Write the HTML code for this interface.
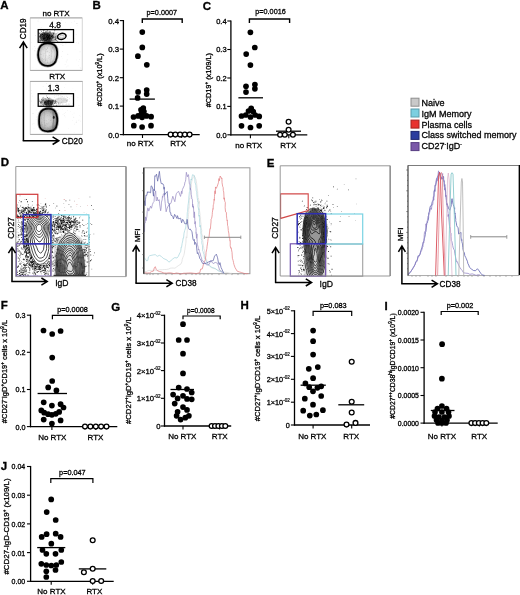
<!DOCTYPE html>
<html><head><meta charset="utf-8"><style>
html,body{margin:0;padding:0;background:#fff;}
body{width:520px;height:595px;overflow:hidden;font-family:"Liberation Sans", sans-serif;}
svg{display:block;}
text{stroke:#000;stroke-width:0.3px;}
</style></head><body>
<svg width="520" height="595" viewBox="0 0 520 595" font-family='"Liberation Sans", sans-serif'>
<rect width="520" height="595" fill="#fff"/>
<filter id="soft" x="0" y="0" width="520" height="595" filterUnits="userSpaceOnUse"><feGaussianBlur stdDeviation="0.42"/></filter>
<g filter="url(#soft)">
<defs><filter id="bl1" x="-20%" y="-20%" width="140%" height="140%"><feGaussianBlur stdDeviation="0.6"/></filter><filter id="bl2" x="-30%" y="-30%" width="160%" height="160%"><feGaussianBlur stdDeviation="1.2"/></filter><radialGradient id="blobg2" cx="45%" cy="50%" r="50%"><stop offset="0" stop-color="#dadada"/><stop offset="0.6" stop-color="#c4c4c4"/><stop offset="0.9" stop-color="#9a9a9a"/><stop offset="1" stop-color="#777"/></radialGradient><radialGradient id="blobg" cx="50%" cy="50%" r="50%"><stop offset="0" stop-color="#f0f0f0"/><stop offset="0.65" stop-color="#dcdcdc"/><stop offset="0.9" stop-color="#b4b4b4"/><stop offset="1" stop-color="#8a8a8a"/></radialGradient><marker id="ah" viewBox="0 0 10 10" refX="9" refY="5" markerWidth="6" markerHeight="6" orient="auto"><path d="M1,1 L9,5 L1,9" fill="none" stroke="#000" stroke-width="1.6"/></marker></defs>
<text x="0.30" y="8.60" font-size="11.5" text-anchor="start" font-weight="bold" fill="#000" >A</text>
<text x="92.60" y="8.70" font-size="11.5" text-anchor="start" font-weight="bold" fill="#000" >B</text>
<text x="202.80" y="10.30" font-size="11.5" text-anchor="start" font-weight="bold" fill="#000" >C</text>
<text x="0.80" y="166.20" font-size="11.5" text-anchor="start" font-weight="bold" fill="#000" >D</text>
<text x="266.80" y="167.20" font-size="11.5" text-anchor="start" font-weight="bold" fill="#000" >E</text>
<text x="0.80" y="309.00" font-size="11.5" text-anchor="start" font-weight="bold" fill="#000" >F</text>
<text x="111.20" y="310.80" font-size="11.5" text-anchor="start" font-weight="bold" fill="#000" >G</text>
<text x="240.40" y="308.80" font-size="11.5" text-anchor="start" font-weight="bold" fill="#000" >H</text>
<text x="384.50" y="310.20" font-size="11.5" text-anchor="start" font-weight="bold" fill="#000" >I</text>
<text x="0.80" y="469.60" font-size="11.5" text-anchor="start" font-weight="bold" fill="#000" >J</text>
<line x1="123.40" y1="20.00" x2="123.40" y2="135.20" stroke="#000" stroke-width="1.3" />
<line x1="119.80" y1="20.60" x2="123.40" y2="20.60" stroke="#000" stroke-width="1.1" />
<text x="119.00" y="23.50" font-size="7.8" text-anchor="end" font-weight="normal" fill="#111" >0.4</text>
<line x1="119.80" y1="49.10" x2="123.40" y2="49.10" stroke="#000" stroke-width="1.1" />
<text x="119.00" y="52.00" font-size="7.8" text-anchor="end" font-weight="normal" fill="#111" >0.3</text>
<line x1="119.80" y1="77.70" x2="123.40" y2="77.70" stroke="#000" stroke-width="1.1" />
<text x="119.00" y="80.60" font-size="7.8" text-anchor="end" font-weight="normal" fill="#111" >0.2</text>
<line x1="119.80" y1="106.10" x2="123.40" y2="106.10" stroke="#000" stroke-width="1.1" />
<text x="119.00" y="109.00" font-size="7.8" text-anchor="end" font-weight="normal" fill="#111" >0.1</text>
<line x1="119.80" y1="134.60" x2="123.40" y2="134.60" stroke="#000" stroke-width="1.1" />
<text x="119.00" y="137.50" font-size="7.8" text-anchor="end" font-weight="normal" fill="#111" >0.0</text>
<line x1="122.80" y1="134.60" x2="199.70" y2="134.60" stroke="#000" stroke-width="1.3" />
<line x1="142.50" y1="134.60" x2="142.50" y2="138.00" stroke="#000" stroke-width="1.1" />
<line x1="181.70" y1="134.60" x2="181.70" y2="138.00" stroke="#000" stroke-width="1.1" />
<polyline points="142.3,23.0 142.3,19.0 182.2,19.0 182.2,23.0" fill="none" stroke="#000" stroke-width="1.4"/>
<text transform="translate(161.80,14.70) scale(0.92,1)" font-size="7.9" text-anchor="middle" font-weight="normal" fill="#111" >p=0.0007</text>
<line x1="129.60" y1="99.10" x2="154.90" y2="99.10" stroke="#000" stroke-width="1.3" />
<circle cx="142.30" cy="32.10" r="2.85" fill="#000"/>
<circle cx="142.30" cy="47.40" r="2.85" fill="#000"/>
<circle cx="137.90" cy="56.20" r="2.85" fill="#000"/>
<circle cx="146.80" cy="64.80" r="2.85" fill="#000"/>
<circle cx="138.10" cy="91.90" r="2.85" fill="#000"/>
<circle cx="146.70" cy="90.10" r="2.85" fill="#000"/>
<circle cx="146.70" cy="94.10" r="2.85" fill="#000"/>
<circle cx="137.60" cy="97.90" r="2.85" fill="#000"/>
<circle cx="143.30" cy="108.10" r="2.85" fill="#000"/>
<circle cx="141.00" cy="109.80" r="2.85" fill="#000"/>
<circle cx="143.90" cy="111.50" r="2.85" fill="#000"/>
<circle cx="141.60" cy="113.30" r="2.85" fill="#000"/>
<circle cx="133.50" cy="117.00" r="2.85" fill="#000"/>
<circle cx="138.10" cy="115.90" r="2.85" fill="#000"/>
<circle cx="142.10" cy="117.30" r="2.85" fill="#000"/>
<circle cx="146.50" cy="115.90" r="2.85" fill="#000"/>
<circle cx="151.10" cy="116.70" r="2.85" fill="#000"/>
<circle cx="133.80" cy="125.70" r="2.85" fill="#000"/>
<circle cx="142.10" cy="127.00" r="2.85" fill="#000"/>
<circle cx="151.00" cy="125.70" r="2.85" fill="#000"/>
<circle cx="170.60" cy="134.60" r="2.4" fill="#fff" stroke="#000" stroke-width="1.3"/>
<circle cx="175.35" cy="134.60" r="2.4" fill="#fff" stroke="#000" stroke-width="1.3"/>
<circle cx="180.10" cy="134.60" r="2.4" fill="#fff" stroke="#000" stroke-width="1.3"/>
<circle cx="184.85" cy="134.60" r="2.4" fill="#fff" stroke="#000" stroke-width="1.3"/>
<circle cx="189.60" cy="134.60" r="2.4" fill="#fff" stroke="#000" stroke-width="1.3"/>
<text x="140.20" y="146.20" font-size="8" text-anchor="middle" font-weight="normal" fill="#111" >no RTX</text>
<text x="178.10" y="146.20" font-size="8" text-anchor="middle" font-weight="normal" fill="#111" >RTX</text>
<text transform="translate(101.60,79.80) rotate(-90)" font-size="7.3" text-anchor="middle" fill="#111">#CD20<tspan font-size="4.6" dy="-2.8">+</tspan><tspan dy="2.8"> (x10</tspan><tspan font-size="4.6" dy="-2.8">9</tspan><tspan dy="2.8">/L)</tspan></text>
<line x1="230.90" y1="20.40" x2="230.90" y2="135.40" stroke="#000" stroke-width="1.3" />
<line x1="227.30" y1="21.00" x2="230.90" y2="21.00" stroke="#000" stroke-width="1.1" />
<text x="226.60" y="23.90" font-size="7.5" text-anchor="end" font-weight="normal" fill="#111" >0.4</text>
<line x1="227.30" y1="49.50" x2="230.90" y2="49.50" stroke="#000" stroke-width="1.1" />
<text x="226.60" y="52.40" font-size="7.5" text-anchor="end" font-weight="normal" fill="#111" >0.3</text>
<line x1="227.30" y1="78.00" x2="230.90" y2="78.00" stroke="#000" stroke-width="1.1" />
<text x="226.60" y="80.90" font-size="7.5" text-anchor="end" font-weight="normal" fill="#111" >0.2</text>
<line x1="227.30" y1="106.40" x2="230.90" y2="106.40" stroke="#000" stroke-width="1.1" />
<text x="226.60" y="109.30" font-size="7.5" text-anchor="end" font-weight="normal" fill="#111" >0.1</text>
<line x1="227.30" y1="134.80" x2="230.90" y2="134.80" stroke="#000" stroke-width="1.1" />
<text x="226.60" y="137.70" font-size="7.5" text-anchor="end" font-weight="normal" fill="#111" >0.0</text>
<line x1="230.30" y1="134.80" x2="307.30" y2="134.80" stroke="#000" stroke-width="1.3" />
<line x1="250.40" y1="134.80" x2="250.40" y2="138.20" stroke="#000" stroke-width="1.1" />
<line x1="288.80" y1="134.80" x2="288.80" y2="138.20" stroke="#000" stroke-width="1.1" />
<polyline points="249.4,23.0 249.4,19.0 289.6,19.0 289.6,23.0" fill="none" stroke="#000" stroke-width="1.4"/>
<text transform="translate(270.50,14.00) scale(0.92,1)" font-size="7.9" text-anchor="middle" font-weight="normal" fill="#111" >p=0.0016</text>
<line x1="238.40" y1="97.80" x2="263.00" y2="97.80" stroke="#000" stroke-width="1.3" />
<line x1="276.00" y1="131.20" x2="301.00" y2="131.20" stroke="#000" stroke-width="1.3" />
<circle cx="250.40" cy="32.30" r="2.85" fill="#000"/>
<circle cx="254.80" cy="47.50" r="2.85" fill="#000"/>
<circle cx="246.20" cy="54.10" r="2.85" fill="#000"/>
<circle cx="250.40" cy="65.10" r="2.85" fill="#000"/>
<circle cx="246.00" cy="86.30" r="2.85" fill="#000"/>
<circle cx="254.90" cy="84.50" r="2.85" fill="#000"/>
<circle cx="254.90" cy="88.80" r="2.85" fill="#000"/>
<circle cx="246.00" cy="92.10" r="2.85" fill="#000"/>
<circle cx="251.20" cy="108.30" r="2.85" fill="#000"/>
<circle cx="248.50" cy="111.00" r="2.85" fill="#000"/>
<circle cx="253.20" cy="111.60" r="2.85" fill="#000"/>
<circle cx="241.50" cy="116.00" r="2.85" fill="#000"/>
<circle cx="245.80" cy="115.00" r="2.85" fill="#000"/>
<circle cx="250.50" cy="117.00" r="2.85" fill="#000"/>
<circle cx="255.20" cy="115.00" r="2.85" fill="#000"/>
<circle cx="259.20" cy="116.40" r="2.85" fill="#000"/>
<circle cx="241.50" cy="125.80" r="2.85" fill="#000"/>
<circle cx="250.50" cy="127.50" r="2.85" fill="#000"/>
<circle cx="259.20" cy="125.80" r="2.85" fill="#000"/>
<circle cx="288.60" cy="121.70" r="2.4" fill="#fff" stroke="#000" stroke-width="1.3"/>
<circle cx="288.60" cy="129.80" r="2.4" fill="#fff" stroke="#000" stroke-width="1.3"/>
<circle cx="280.10" cy="134.80" r="2.4" fill="#fff" stroke="#000" stroke-width="1.3"/>
<circle cx="284.80" cy="134.80" r="2.4" fill="#fff" stroke="#000" stroke-width="1.3"/>
<circle cx="292.90" cy="134.80" r="2.4" fill="#fff" stroke="#000" stroke-width="1.3"/>
<text x="248.70" y="148.00" font-size="8" text-anchor="middle" font-weight="normal" fill="#111" >no RTX</text>
<text x="288.30" y="148.00" font-size="8" text-anchor="middle" font-weight="normal" fill="#111" >RTX</text>
<text transform="translate(210.90,80.20) rotate(-90)" font-size="7.3" text-anchor="middle" fill="#111">#CD19<tspan font-size="4.6" dy="-2.8">+</tspan><tspan dy="2.8"> (x109/L)</tspan></text>
<line x1="30.50" y1="314.60" x2="30.50" y2="427.20" stroke="#000" stroke-width="1.3" />
<line x1="26.90" y1="315.20" x2="30.50" y2="315.20" stroke="#000" stroke-width="1.1" />
<text x="25.60" y="318.10" font-size="7.2" text-anchor="end" font-weight="normal" fill="#111" >0.3</text>
<line x1="26.90" y1="352.30" x2="30.50" y2="352.30" stroke="#000" stroke-width="1.1" />
<text x="25.60" y="355.20" font-size="7.2" text-anchor="end" font-weight="normal" fill="#111" >0.2</text>
<line x1="26.90" y1="389.50" x2="30.50" y2="389.50" stroke="#000" stroke-width="1.1" />
<text x="25.60" y="392.40" font-size="7.2" text-anchor="end" font-weight="normal" fill="#111" >0.1</text>
<line x1="26.90" y1="426.60" x2="30.50" y2="426.60" stroke="#000" stroke-width="1.1" />
<text x="25.60" y="429.50" font-size="7.2" text-anchor="end" font-weight="normal" fill="#111" >0.0</text>
<line x1="29.90" y1="426.60" x2="117.30" y2="426.60" stroke="#000" stroke-width="1.3" />
<line x1="51.90" y1="426.60" x2="51.90" y2="430.00" stroke="#000" stroke-width="1.1" />
<line x1="95.80" y1="426.60" x2="95.80" y2="430.00" stroke="#000" stroke-width="1.1" />
<polyline points="52.4,319.2 52.4,315.3 92.7,315.3 92.7,319.2" fill="none" stroke="#000" stroke-width="1.2"/>
<text x="72.50" y="312.40" font-size="7.3" text-anchor="middle" font-weight="normal" fill="#111" >p=0.0008</text>
<line x1="37.60" y1="393.50" x2="67.00" y2="393.50" stroke="#000" stroke-width="1.3" />
<circle cx="43.50" cy="330.50" r="2.85" fill="#000"/>
<circle cx="52.20" cy="334.00" r="2.85" fill="#000"/>
<circle cx="60.60" cy="331.00" r="2.85" fill="#000"/>
<circle cx="52.20" cy="357.60" r="2.85" fill="#000"/>
<circle cx="52.20" cy="381.00" r="2.85" fill="#000"/>
<circle cx="48.20" cy="387.40" r="2.85" fill="#000"/>
<circle cx="56.40" cy="390.40" r="2.85" fill="#000"/>
<circle cx="43.70" cy="402.30" r="2.85" fill="#000"/>
<circle cx="51.90" cy="405.60" r="2.85" fill="#000"/>
<circle cx="60.60" cy="404.20" r="2.85" fill="#000"/>
<circle cx="63.50" cy="407.50" r="2.85" fill="#000"/>
<circle cx="41.30" cy="410.40" r="2.85" fill="#000"/>
<circle cx="44.20" cy="412.70" r="2.85" fill="#000"/>
<circle cx="48.10" cy="414.20" r="2.85" fill="#000"/>
<circle cx="51.90" cy="414.80" r="2.85" fill="#000"/>
<circle cx="55.80" cy="413.80" r="2.85" fill="#000"/>
<circle cx="59.20" cy="411.90" r="2.85" fill="#000"/>
<circle cx="43.70" cy="419.60" r="2.85" fill="#000"/>
<circle cx="51.90" cy="423.50" r="2.85" fill="#000"/>
<circle cx="60.60" cy="420.40" r="2.85" fill="#000"/>
<circle cx="85.00" cy="426.60" r="2.4" fill="#fff" stroke="#000" stroke-width="1.3"/>
<circle cx="90.40" cy="426.60" r="2.4" fill="#fff" stroke="#000" stroke-width="1.3"/>
<circle cx="95.80" cy="426.60" r="2.4" fill="#fff" stroke="#000" stroke-width="1.3"/>
<circle cx="101.10" cy="426.60" r="2.4" fill="#fff" stroke="#000" stroke-width="1.3"/>
<circle cx="106.50" cy="426.60" r="2.4" fill="#fff" stroke="#000" stroke-width="1.3"/>
<text x="52.30" y="439.60" font-size="8" text-anchor="middle" font-weight="normal" fill="#111" >No RTX</text>
<text x="95.50" y="439.60" font-size="8" text-anchor="middle" font-weight="normal" fill="#111" >RTX</text>
<text transform="translate(6.90,371.50) rotate(-90)" font-size="7.5" text-anchor="middle" fill="#111">#CD27<tspan font-size="4.6" dy="-2.8">-</tspan><tspan dy="2.8">IgD</tspan><tspan font-size="4.6" dy="-2.8">+</tspan><tspan dy="2.8">CD19</tspan><tspan font-size="4.6" dy="-2.8">+</tspan><tspan dy="2.8"> cells x 10</tspan><tspan font-size="4.6" dy="-2.8">9</tspan><tspan dy="2.8">/L</tspan></text>
<line x1="164.50" y1="314.70" x2="164.50" y2="426.60" stroke="#000" stroke-width="1.3" />
<line x1="160.90" y1="315.30" x2="164.50" y2="315.30" stroke="#000" stroke-width="1.1" />
<text x="160.60" y="318.20" font-size="7.7" text-anchor="end" fill="#111">4&#215;10<tspan font-size="4.6" dy="-3.3" style="stroke-width:0.2px">-02</tspan></text>
<line x1="160.90" y1="343.00" x2="164.50" y2="343.00" stroke="#000" stroke-width="1.1" />
<text x="160.60" y="345.90" font-size="7.7" text-anchor="end" fill="#111">3&#215;10<tspan font-size="4.6" dy="-3.3" style="stroke-width:0.2px">-02</tspan></text>
<line x1="160.90" y1="370.60" x2="164.50" y2="370.60" stroke="#000" stroke-width="1.1" />
<text x="160.60" y="373.50" font-size="7.7" text-anchor="end" fill="#111">2&#215;10<tspan font-size="4.6" dy="-3.3" style="stroke-width:0.2px">-02</tspan></text>
<line x1="160.90" y1="398.30" x2="164.50" y2="398.30" stroke="#000" stroke-width="1.1" />
<text x="160.60" y="401.20" font-size="7.7" text-anchor="end" fill="#111">1&#215;10<tspan font-size="4.6" dy="-3.3" style="stroke-width:0.2px">-02</tspan></text>
<line x1="160.90" y1="426.00" x2="164.50" y2="426.00" stroke="#000" stroke-width="1.1" />
<text x="160.60" y="428.90" font-size="7.7" text-anchor="end" font-weight="normal" fill="#111" >0</text>
<line x1="163.90" y1="426.00" x2="231.20" y2="426.00" stroke="#000" stroke-width="1.3" />
<line x1="183.00" y1="426.00" x2="183.00" y2="429.40" stroke="#000" stroke-width="1.1" />
<line x1="219.60" y1="426.00" x2="219.60" y2="429.40" stroke="#000" stroke-width="1.1" />
<polyline points="183,319.3 183,316 220.2,316 220.2,319.3" fill="none" stroke="#000" stroke-width="1.2"/>
<text transform="translate(200.80,313.00) scale(0.9,1)" font-size="7.3" text-anchor="middle" font-weight="normal" fill="#111" >p=0.0008</text>
<line x1="170.50" y1="389.50" x2="194.00" y2="389.50" stroke="#000" stroke-width="1.3" />
<circle cx="183.00" cy="324.20" r="2.85" fill="#000"/>
<circle cx="178.70" cy="340.00" r="2.85" fill="#000"/>
<circle cx="187.00" cy="340.00" r="2.85" fill="#000"/>
<circle cx="183.00" cy="353.70" r="2.85" fill="#000"/>
<circle cx="183.00" cy="373.40" r="2.85" fill="#000"/>
<circle cx="178.70" cy="387.60" r="2.85" fill="#000"/>
<circle cx="187.00" cy="389.00" r="2.85" fill="#000"/>
<circle cx="173.10" cy="394.60" r="2.85" fill="#000"/>
<circle cx="183.00" cy="395.80" r="2.85" fill="#000"/>
<circle cx="191.70" cy="392.50" r="2.85" fill="#000"/>
<circle cx="177.60" cy="398.40" r="2.85" fill="#000"/>
<circle cx="187.00" cy="398.90" r="2.85" fill="#000"/>
<circle cx="191.70" cy="399.30" r="2.85" fill="#000"/>
<circle cx="174.70" cy="403.60" r="2.85" fill="#000"/>
<circle cx="183.00" cy="407.10" r="2.85" fill="#000"/>
<circle cx="177.60" cy="411.80" r="2.85" fill="#000"/>
<circle cx="187.00" cy="409.90" r="2.85" fill="#000"/>
<circle cx="176.60" cy="415.80" r="2.85" fill="#000"/>
<circle cx="188.90" cy="415.80" r="2.85" fill="#000"/>
<circle cx="180.60" cy="419.60" r="2.85" fill="#000"/>
<circle cx="185.30" cy="417.70" r="2.85" fill="#000"/>
<circle cx="211.60" cy="426.00" r="2.4" fill="#fff" stroke="#000" stroke-width="1.3"/>
<circle cx="215.00" cy="426.00" r="2.4" fill="#fff" stroke="#000" stroke-width="1.3"/>
<circle cx="218.40" cy="426.00" r="2.4" fill="#fff" stroke="#000" stroke-width="1.3"/>
<circle cx="221.90" cy="426.00" r="2.4" fill="#fff" stroke="#000" stroke-width="1.3"/>
<circle cx="225.30" cy="426.00" r="2.4" fill="#fff" stroke="#000" stroke-width="1.3"/>
<text x="182.30" y="438.90" font-size="8" text-anchor="middle" font-weight="normal" fill="#111" >No RTX</text>
<text x="219.70" y="438.90" font-size="8" text-anchor="middle" font-weight="normal" fill="#111" >RTX</text>
<text transform="translate(130.50,370.60) rotate(-90)" font-size="7.7" text-anchor="middle" fill="#111">#CD27<tspan font-size="4.6" dy="-2.8">+</tspan><tspan dy="2.8">IgD</tspan><tspan font-size="4.6" dy="-2.8">+</tspan><tspan dy="2.8">CD19</tspan><tspan font-size="4.6" dy="-2.8">+</tspan><tspan dy="2.8"> cells x 10</tspan><tspan font-size="4.6" dy="-2.8">9</tspan><tspan dy="2.8">/L</tspan></text>
<line x1="294.50" y1="310.20" x2="294.50" y2="425.60" stroke="#000" stroke-width="1.3" />
<line x1="290.90" y1="310.80" x2="294.50" y2="310.80" stroke="#000" stroke-width="1.1" />
<text x="289.80" y="313.70" font-size="7.3" text-anchor="end" fill="#111">5&#215;10<tspan font-size="4.6" dy="-3.3" style="stroke-width:0.2px">-02</tspan></text>
<line x1="290.90" y1="333.60" x2="294.50" y2="333.60" stroke="#000" stroke-width="1.1" />
<text x="289.80" y="336.50" font-size="7.3" text-anchor="end" fill="#111">4&#215;10<tspan font-size="4.6" dy="-3.3" style="stroke-width:0.2px">-02</tspan></text>
<line x1="290.90" y1="356.40" x2="294.50" y2="356.40" stroke="#000" stroke-width="1.1" />
<text x="289.80" y="359.30" font-size="7.3" text-anchor="end" fill="#111">3&#215;10<tspan font-size="4.6" dy="-3.3" style="stroke-width:0.2px">-02</tspan></text>
<line x1="290.90" y1="379.30" x2="294.50" y2="379.30" stroke="#000" stroke-width="1.1" />
<text x="289.80" y="382.20" font-size="7.3" text-anchor="end" fill="#111">2&#215;10<tspan font-size="4.6" dy="-3.3" style="stroke-width:0.2px">-02</tspan></text>
<line x1="290.90" y1="402.20" x2="294.50" y2="402.20" stroke="#000" stroke-width="1.1" />
<text x="289.80" y="405.10" font-size="7.3" text-anchor="end" fill="#111">1&#215;10<tspan font-size="4.6" dy="-3.3" style="stroke-width:0.2px">-02</tspan></text>
<line x1="290.90" y1="425.00" x2="294.50" y2="425.00" stroke="#000" stroke-width="1.1" />
<text x="289.80" y="427.90" font-size="7.3" text-anchor="end" font-weight="normal" fill="#111" >0</text>
<line x1="293.90" y1="425.00" x2="370.00" y2="425.00" stroke="#000" stroke-width="1.3" />
<line x1="313.10" y1="425.00" x2="313.10" y2="428.40" stroke="#000" stroke-width="1.1" />
<line x1="351.70" y1="425.00" x2="351.70" y2="428.40" stroke="#000" stroke-width="1.1" />
<polyline points="313.1,316.0 313.1,311.3 351.7,311.3 351.7,316.0" fill="none" stroke="#000" stroke-width="1.2"/>
<text x="333.30" y="307.60" font-size="7.3" text-anchor="middle" font-weight="normal" fill="#111" >p=0.083</text>
<line x1="300.60" y1="385.20" x2="325.80" y2="385.20" stroke="#000" stroke-width="1.3" />
<line x1="338.30" y1="404.80" x2="364.20" y2="404.80" stroke="#000" stroke-width="1.3" />
<circle cx="313.10" cy="330.60" r="2.85" fill="#000"/>
<circle cx="313.10" cy="341.20" r="2.85" fill="#000"/>
<circle cx="313.10" cy="354.60" r="2.85" fill="#000"/>
<circle cx="308.80" cy="368.80" r="2.85" fill="#000"/>
<circle cx="317.80" cy="367.10" r="2.85" fill="#000"/>
<circle cx="313.10" cy="378.20" r="2.85" fill="#000"/>
<circle cx="305.40" cy="383.40" r="2.85" fill="#000"/>
<circle cx="309.20" cy="387.20" r="2.85" fill="#000"/>
<circle cx="313.00" cy="391.30" r="2.85" fill="#000"/>
<circle cx="317.40" cy="387.80" r="2.85" fill="#000"/>
<circle cx="321.20" cy="386.30" r="2.85" fill="#000"/>
<circle cx="304.80" cy="398.70" r="2.85" fill="#000"/>
<circle cx="321.20" cy="396.00" r="2.85" fill="#000"/>
<circle cx="313.00" cy="404.70" r="2.85" fill="#000"/>
<circle cx="303.20" cy="410.70" r="2.85" fill="#000"/>
<circle cx="322.90" cy="410.20" r="2.85" fill="#000"/>
<circle cx="309.80" cy="415.60" r="2.85" fill="#000"/>
<circle cx="316.30" cy="414.50" r="2.85" fill="#000"/>
<circle cx="351.70" cy="361.70" r="2.4" fill="#fff" stroke="#000" stroke-width="1.3"/>
<circle cx="351.70" cy="401.70" r="2.4" fill="#fff" stroke="#000" stroke-width="1.3"/>
<circle cx="351.70" cy="412.50" r="2.4" fill="#fff" stroke="#000" stroke-width="1.3"/>
<circle cx="346.50" cy="424.60" r="2.4" fill="#fff" stroke="#000" stroke-width="1.3"/>
<circle cx="355.50" cy="422.90" r="2.4" fill="#fff" stroke="#000" stroke-width="1.3"/>
<text x="312.30" y="438.90" font-size="8" text-anchor="middle" font-weight="normal" fill="#111" >No RTX</text>
<text x="351.20" y="438.90" font-size="8" text-anchor="middle" font-weight="normal" fill="#111" >RTX</text>
<text transform="translate(260.00,368.50) rotate(-90)" font-size="7.7" text-anchor="middle" fill="#111">#CD27<tspan font-size="4.6" dy="-2.8">+</tspan><tspan dy="2.8">IgD</tspan><tspan font-size="4.6" dy="-2.8">-</tspan><tspan dy="2.8">CD19</tspan><tspan font-size="4.6" dy="-2.8">+</tspan><tspan dy="2.8"> cells x 10</tspan><tspan font-size="4.6" dy="-2.8">9</tspan><tspan dy="2.8">/L</tspan></text>
<line x1="424.10" y1="311.70" x2="424.10" y2="423.70" stroke="#000" stroke-width="1.3" />
<line x1="420.50" y1="312.30" x2="424.10" y2="312.30" stroke="#000" stroke-width="1.1" />
<text x="418.90" y="315.20" font-size="6.9" text-anchor="end" font-weight="normal" fill="#111" >0.0020</text>
<line x1="420.50" y1="340.00" x2="424.10" y2="340.00" stroke="#000" stroke-width="1.1" />
<text x="418.90" y="342.90" font-size="6.9" text-anchor="end" font-weight="normal" fill="#111" >0.0015</text>
<line x1="420.50" y1="367.70" x2="424.10" y2="367.70" stroke="#000" stroke-width="1.1" />
<text x="418.90" y="370.60" font-size="6.9" text-anchor="end" font-weight="normal" fill="#111" >0.0010</text>
<line x1="420.50" y1="395.50" x2="424.10" y2="395.50" stroke="#000" stroke-width="1.1" />
<text x="418.90" y="398.40" font-size="6.9" text-anchor="end" font-weight="normal" fill="#111" >0.0005</text>
<line x1="420.50" y1="423.10" x2="424.10" y2="423.10" stroke="#000" stroke-width="1.1" />
<text x="418.90" y="426.00" font-size="6.9" text-anchor="end" font-weight="normal" fill="#111" >0.0000</text>
<line x1="423.50" y1="423.10" x2="497.70" y2="423.10" stroke="#000" stroke-width="1.3" />
<line x1="441.90" y1="423.10" x2="441.90" y2="426.50" stroke="#000" stroke-width="1.1" />
<line x1="479.50" y1="423.10" x2="479.50" y2="426.50" stroke="#000" stroke-width="1.1" />
<polyline points="441.2,315.0 441.2,311.5 478.2,311.5 478.2,315.0" fill="none" stroke="#000" stroke-width="1.2"/>
<text x="460.00" y="307.80" font-size="7.3" text-anchor="middle" font-weight="normal" fill="#111" >p=0.002</text>
<line x1="430.80" y1="410.50" x2="454.50" y2="410.50" stroke="#000" stroke-width="1.3" />
<circle cx="442.10" cy="344.20" r="2.85" fill="#000"/>
<circle cx="441.90" cy="378.70" r="2.85" fill="#000"/>
<circle cx="441.90" cy="406.00" r="2.85" fill="#000"/>
<circle cx="437.50" cy="408.50" r="2.85" fill="#000"/>
<circle cx="446.50" cy="408.50" r="2.85" fill="#000"/>
<circle cx="435.00" cy="412.00" r="2.85" fill="#000"/>
<circle cx="441.90" cy="412.00" r="2.85" fill="#000"/>
<circle cx="448.50" cy="412.00" r="2.85" fill="#000"/>
<circle cx="434.50" cy="416.00" r="2.85" fill="#000"/>
<circle cx="439.00" cy="417.00" r="2.85" fill="#000"/>
<circle cx="444.50" cy="417.00" r="2.85" fill="#000"/>
<circle cx="449.00" cy="416.00" r="2.85" fill="#000"/>
<circle cx="436.50" cy="420.00" r="2.85" fill="#000"/>
<circle cx="441.90" cy="420.50" r="2.85" fill="#000"/>
<circle cx="447.00" cy="420.00" r="2.85" fill="#000"/>
<circle cx="441.90" cy="423.00" r="2.85" fill="#000"/>
<circle cx="438.00" cy="423.00" r="2.85" fill="#000"/>
<circle cx="446.00" cy="423.00" r="2.85" fill="#000"/>
<circle cx="471.40" cy="423.10" r="2.4" fill="#fff" stroke="#000" stroke-width="1.3"/>
<circle cx="475.10" cy="423.10" r="2.4" fill="#fff" stroke="#000" stroke-width="1.3"/>
<circle cx="478.85" cy="423.10" r="2.4" fill="#fff" stroke="#000" stroke-width="1.3"/>
<circle cx="482.60" cy="423.10" r="2.4" fill="#fff" stroke="#000" stroke-width="1.3"/>
<circle cx="486.30" cy="423.10" r="2.4" fill="#fff" stroke="#000" stroke-width="1.3"/>
<text x="441.90" y="438.50" font-size="8" text-anchor="middle" font-weight="normal" fill="#111" >No RTX</text>
<text x="479.20" y="438.50" font-size="8" text-anchor="middle" font-weight="normal" fill="#111" >RTX</text>
<text transform="translate(394.60,366.00) rotate(-90)" font-size="6.8" text-anchor="middle" fill="#111">#CD27<tspan font-size="4.6" dy="-2.8">++</tspan><tspan dy="2.8">CD38</tspan><tspan font-size="4.6" dy="-2.8">hi</tspan><tspan dy="2.8">IgD</tspan><tspan font-size="4.6" dy="-2.8">-</tspan><tspan dy="2.8">CD19</tspan><tspan font-size="4.6" dy="-2.8">+</tspan><tspan dy="2.8"> (x10</tspan><tspan font-size="4.6" dy="-2.8">9</tspan><tspan dy="2.8">/L)</tspan></text>
<line x1="30.60" y1="465.90" x2="30.60" y2="581.90" stroke="#000" stroke-width="1.3" />
<line x1="27.00" y1="466.50" x2="30.60" y2="466.50" stroke="#000" stroke-width="1.1" />
<text x="25.20" y="469.40" font-size="7.0" text-anchor="end" font-weight="normal" fill="#111" >0.04</text>
<line x1="27.00" y1="495.20" x2="30.60" y2="495.20" stroke="#000" stroke-width="1.1" />
<text x="25.20" y="498.10" font-size="7.0" text-anchor="end" font-weight="normal" fill="#111" >0.03</text>
<line x1="27.00" y1="523.90" x2="30.60" y2="523.90" stroke="#000" stroke-width="1.1" />
<text x="25.20" y="526.80" font-size="7.0" text-anchor="end" font-weight="normal" fill="#111" >0.02</text>
<line x1="27.00" y1="552.60" x2="30.60" y2="552.60" stroke="#000" stroke-width="1.1" />
<text x="25.20" y="555.50" font-size="7.0" text-anchor="end" font-weight="normal" fill="#111" >0.01</text>
<line x1="27.00" y1="581.30" x2="30.60" y2="581.30" stroke="#000" stroke-width="1.1" />
<text x="25.20" y="584.20" font-size="7.0" text-anchor="end" font-weight="normal" fill="#111" >0.00</text>
<line x1="30.00" y1="581.30" x2="113.70" y2="581.30" stroke="#000" stroke-width="1.3" />
<line x1="51.20" y1="581.30" x2="51.20" y2="584.70" stroke="#000" stroke-width="1.1" />
<line x1="92.70" y1="581.30" x2="92.70" y2="584.70" stroke="#000" stroke-width="1.1" />
<polyline points="50.8,482.9 50.8,478.7 92.9,478.7 92.9,482.9" fill="none" stroke="#000" stroke-width="1.2"/>
<text x="72.40" y="474.50" font-size="7.3" text-anchor="middle" font-weight="normal" fill="#111" >p=0.047</text>
<line x1="37.20" y1="547.60" x2="65.30" y2="547.60" stroke="#000" stroke-width="1.3" />
<line x1="78.80" y1="568.90" x2="106.30" y2="568.90" stroke="#000" stroke-width="1.3" />
<circle cx="51.20" cy="499.40" r="2.85" fill="#000"/>
<circle cx="46.70" cy="512.10" r="2.85" fill="#000"/>
<circle cx="55.70" cy="520.00" r="2.85" fill="#000"/>
<circle cx="41.70" cy="536.90" r="2.85" fill="#000"/>
<circle cx="46.60" cy="534.20" r="2.85" fill="#000"/>
<circle cx="55.70" cy="533.70" r="2.85" fill="#000"/>
<circle cx="60.60" cy="536.90" r="2.85" fill="#000"/>
<circle cx="51.30" cy="543.70" r="2.85" fill="#000"/>
<circle cx="42.50" cy="550.00" r="2.85" fill="#000"/>
<circle cx="61.30" cy="550.00" r="2.85" fill="#000"/>
<circle cx="46.30" cy="553.80" r="2.85" fill="#000"/>
<circle cx="55.50" cy="553.80" r="2.85" fill="#000"/>
<circle cx="41.30" cy="563.80" r="2.85" fill="#000"/>
<circle cx="46.30" cy="565.00" r="2.85" fill="#000"/>
<circle cx="51.30" cy="565.50" r="2.85" fill="#000"/>
<circle cx="56.30" cy="565.00" r="2.85" fill="#000"/>
<circle cx="61.30" cy="562.00" r="2.85" fill="#000"/>
<circle cx="46.30" cy="571.30" r="2.85" fill="#000"/>
<circle cx="55.50" cy="570.00" r="2.85" fill="#000"/>
<circle cx="46.30" cy="577.00" r="2.85" fill="#000"/>
<circle cx="92.70" cy="540.20" r="2.4" fill="#fff" stroke="#000" stroke-width="1.3"/>
<circle cx="92.70" cy="568.80" r="2.4" fill="#fff" stroke="#000" stroke-width="1.3"/>
<circle cx="83.90" cy="572.20" r="2.4" fill="#fff" stroke="#000" stroke-width="1.3"/>
<circle cx="92.70" cy="581.00" r="2.4" fill="#fff" stroke="#000" stroke-width="1.3"/>
<circle cx="101.20" cy="581.00" r="2.4" fill="#fff" stroke="#000" stroke-width="1.3"/>
<text x="51.50" y="594.20" font-size="8" text-anchor="middle" font-weight="normal" fill="#111" >No RTX</text>
<text x="94.40" y="594.20" font-size="8" text-anchor="middle" font-weight="normal" fill="#111" >RTX</text>
<text transform="translate(8.80,526.50) rotate(-90)" font-size="7.9" text-anchor="middle" fill="#111">#CD27-IgD-CD19<tspan font-size="4.6" dy="-2.8">+</tspan><tspan dy="2.8"> (x109/L)</tspan></text>
<text x="56.00" y="15.90" font-size="8" text-anchor="middle" font-weight="normal" fill="#111" >no RTX</text>
<text x="55.20" y="27.50" font-size="8.4" text-anchor="middle" font-weight="normal" fill="#111" >4.8</text>
<text x="57.20" y="79.20" font-size="8" text-anchor="middle" font-weight="normal" fill="#111" >RTX</text>
<text x="53.60" y="90.50" font-size="8.4" text-anchor="middle" font-weight="normal" fill="#111" >1.3</text>
<rect x="30.2" y="17.9" width="52.0" height="52.5" fill="none" stroke="#c4c4c4" stroke-width="0.7"/>
<line x1="30.20" y1="17.90" x2="82.20" y2="17.90" stroke="#999" stroke-width="0.8" />
<line x1="30.20" y1="70.40" x2="82.20" y2="70.40" stroke="#a0a0a0" stroke-width="0.9" />
<rect x="30.2" y="81.4" width="52.3" height="53.0" fill="none" stroke="#c4c4c4" stroke-width="0.7"/>
<line x1="30.20" y1="81.40" x2="82.50" y2="81.40" stroke="#999" stroke-width="0.8" />
<line x1="30.20" y1="134.40" x2="82.50" y2="134.40" stroke="#a0a0a0" stroke-width="0.9" />
<circle cx="53.62" cy="46.99" r="0.34" fill="#777" fill-opacity="0.29"/><circle cx="56.39" cy="48.37" r="0.23" fill="#777" fill-opacity="0.30"/><circle cx="62.49" cy="58.65" r="0.21" fill="#777" fill-opacity="0.24"/><circle cx="35.53" cy="59.48" r="0.30" fill="#777" fill-opacity="0.16"/><circle cx="80.11" cy="67.24" r="0.30" fill="#777" fill-opacity="0.33"/><circle cx="38.87" cy="19.75" r="0.28" fill="#777" fill-opacity="0.17"/><circle cx="40.51" cy="31.10" r="0.20" fill="#777" fill-opacity="0.29"/><circle cx="53.03" cy="61.12" r="0.28" fill="#777" fill-opacity="0.34"/><circle cx="55.99" cy="52.12" r="0.27" fill="#777" fill-opacity="0.23"/><circle cx="80.88" cy="68.78" r="0.33" fill="#777" fill-opacity="0.36"/><circle cx="46.76" cy="30.48" r="0.24" fill="#777" fill-opacity="0.17"/><circle cx="69.31" cy="39.02" r="0.33" fill="#777" fill-opacity="0.27"/><circle cx="78.90" cy="61.37" r="0.20" fill="#777" fill-opacity="0.21"/><circle cx="76.51" cy="42.50" r="0.35" fill="#777" fill-opacity="0.27"/><circle cx="34.65" cy="50.47" r="0.32" fill="#777" fill-opacity="0.23"/><circle cx="35.36" cy="35.63" r="0.34" fill="#777" fill-opacity="0.38"/><circle cx="36.90" cy="31.32" r="0.22" fill="#777" fill-opacity="0.17"/><circle cx="70.85" cy="27.88" r="0.28" fill="#777" fill-opacity="0.28"/><circle cx="40.53" cy="55.59" r="0.22" fill="#777" fill-opacity="0.34"/><circle cx="36.83" cy="40.04" r="0.23" fill="#777" fill-opacity="0.23"/><circle cx="79.55" cy="59.17" r="0.25" fill="#777" fill-opacity="0.42"/><circle cx="41.54" cy="38.71" r="0.33" fill="#777" fill-opacity="0.34"/><circle cx="36.02" cy="68.47" r="0.23" fill="#777" fill-opacity="0.23"/><circle cx="69.63" cy="35.45" r="0.24" fill="#777" fill-opacity="0.17"/><circle cx="35.51" cy="48.14" r="0.24" fill="#777" fill-opacity="0.33"/><circle cx="49.59" cy="41.66" r="0.34" fill="#777" fill-opacity="0.30"/><circle cx="59.73" cy="62.33" r="0.23" fill="#777" fill-opacity="0.20"/><circle cx="76.42" cy="59.89" r="0.24" fill="#777" fill-opacity="0.21"/><circle cx="67.97" cy="66.02" r="0.23" fill="#777" fill-opacity="0.44"/><circle cx="75.11" cy="49.18" r="0.26" fill="#777" fill-opacity="0.18"/><circle cx="32.93" cy="67.13" r="0.24" fill="#777" fill-opacity="0.36"/><circle cx="43.85" cy="60.19" r="0.29" fill="#777" fill-opacity="0.24"/><circle cx="39.77" cy="55.02" r="0.21" fill="#777" fill-opacity="0.22"/><circle cx="58.97" cy="61.62" r="0.29" fill="#777" fill-opacity="0.23"/><circle cx="76.87" cy="29.20" r="0.20" fill="#777" fill-opacity="0.23"/><circle cx="53.29" cy="22.02" r="0.23" fill="#777" fill-opacity="0.26"/><circle cx="59.61" cy="25.58" r="0.25" fill="#777" fill-opacity="0.42"/><circle cx="80.02" cy="51.85" r="0.30" fill="#777" fill-opacity="0.33"/><circle cx="38.02" cy="20.75" r="0.20" fill="#777" fill-opacity="0.42"/><circle cx="66.05" cy="67.14" r="0.20" fill="#777" fill-opacity="0.34"/><circle cx="55.11" cy="55.52" r="0.25" fill="#777" fill-opacity="0.45"/><circle cx="34.76" cy="46.30" r="0.31" fill="#777" fill-opacity="0.42"/><circle cx="67.85" cy="54.18" r="0.32" fill="#777" fill-opacity="0.42"/><circle cx="48.59" cy="53.26" r="0.34" fill="#777" fill-opacity="0.41"/><circle cx="51.86" cy="58.53" r="0.33" fill="#777" fill-opacity="0.32"/><circle cx="62.25" cy="38.12" r="0.29" fill="#777" fill-opacity="0.33"/><circle cx="35.01" cy="50.97" r="0.35" fill="#777" fill-opacity="0.41"/><circle cx="67.41" cy="38.42" r="0.31" fill="#777" fill-opacity="0.32"/><circle cx="53.03" cy="60.92" r="0.21" fill="#777" fill-opacity="0.38"/><circle cx="32.49" cy="49.06" r="0.27" fill="#777" fill-opacity="0.22"/><circle cx="65.92" cy="43.86" r="0.29" fill="#777" fill-opacity="0.43"/><circle cx="43.79" cy="19.57" r="0.25" fill="#777" fill-opacity="0.35"/><circle cx="41.13" cy="27.48" r="0.34" fill="#777" fill-opacity="0.35"/><circle cx="53.10" cy="63.59" r="0.25" fill="#777" fill-opacity="0.35"/><circle cx="40.93" cy="40.54" r="0.32" fill="#777" fill-opacity="0.42"/><circle cx="75.01" cy="38.22" r="0.29" fill="#777" fill-opacity="0.24"/><circle cx="37.81" cy="43.82" r="0.33" fill="#777" fill-opacity="0.40"/><circle cx="66.56" cy="66.50" r="0.24" fill="#777" fill-opacity="0.20"/><circle cx="53.53" cy="32.76" r="0.23" fill="#777" fill-opacity="0.27"/><circle cx="62.29" cy="43.69" r="0.25" fill="#777" fill-opacity="0.40"/><circle cx="80.10" cy="41.62" r="0.21" fill="#777" fill-opacity="0.16"/><circle cx="74.64" cy="21.07" r="0.31" fill="#777" fill-opacity="0.32"/><circle cx="46.45" cy="58.58" r="0.20" fill="#777" fill-opacity="0.19"/><circle cx="53.74" cy="20.24" r="0.32" fill="#777" fill-opacity="0.22"/><circle cx="38.04" cy="21.35" r="0.29" fill="#777" fill-opacity="0.28"/><circle cx="62.50" cy="51.75" r="0.32" fill="#777" fill-opacity="0.44"/><circle cx="65.22" cy="28.97" r="0.27" fill="#777" fill-opacity="0.20"/><circle cx="31.54" cy="42.61" r="0.31" fill="#777" fill-opacity="0.20"/><circle cx="44.62" cy="36.29" r="0.30" fill="#777" fill-opacity="0.31"/><circle cx="61.72" cy="56.81" r="0.26" fill="#777" fill-opacity="0.39"/><circle cx="76.31" cy="23.36" r="0.34" fill="#777" fill-opacity="0.37"/><circle cx="37.50" cy="41.68" r="0.29" fill="#777" fill-opacity="0.42"/><circle cx="49.84" cy="47.44" r="0.33" fill="#777" fill-opacity="0.39"/><circle cx="78.21" cy="42.19" r="0.30" fill="#777" fill-opacity="0.21"/><circle cx="67.10" cy="59.92" r="0.30" fill="#777" fill-opacity="0.37"/><circle cx="41.66" cy="64.00" r="0.35" fill="#777" fill-opacity="0.44"/><circle cx="57.85" cy="58.54" r="0.25" fill="#777" fill-opacity="0.42"/><circle cx="73.79" cy="36.43" r="0.21" fill="#777" fill-opacity="0.28"/><circle cx="58.52" cy="57.41" r="0.27" fill="#777" fill-opacity="0.16"/><circle cx="71.46" cy="22.20" r="0.32" fill="#777" fill-opacity="0.20"/><circle cx="47.75" cy="58.40" r="0.22" fill="#777" fill-opacity="0.19"/><circle cx="56.83" cy="55.18" r="0.33" fill="#777" fill-opacity="0.36"/><circle cx="78.29" cy="43.63" r="0.34" fill="#777" fill-opacity="0.18"/><circle cx="42.07" cy="45.33" r="0.24" fill="#777" fill-opacity="0.37"/><circle cx="62.94" cy="45.14" r="0.33" fill="#777" fill-opacity="0.32"/><circle cx="46.58" cy="38.06" r="0.33" fill="#777" fill-opacity="0.42"/><circle cx="41.41" cy="61.54" r="0.35" fill="#777" fill-opacity="0.31"/><circle cx="59.65" cy="29.05" r="0.28" fill="#777" fill-opacity="0.30"/><circle cx="61.26" cy="20.39" r="0.35" fill="#777" fill-opacity="0.30"/><circle cx="51.03" cy="59.05" r="0.28" fill="#777" fill-opacity="0.30"/><circle cx="65.55" cy="22.30" r="0.28" fill="#777" fill-opacity="0.27"/><circle cx="78.84" cy="65.17" r="0.24" fill="#777" fill-opacity="0.29"/><circle cx="37.35" cy="40.68" r="0.32" fill="#777" fill-opacity="0.42"/><circle cx="54.83" cy="34.86" r="0.23" fill="#777" fill-opacity="0.34"/><circle cx="77.26" cy="25.47" r="0.32" fill="#777" fill-opacity="0.16"/><circle cx="40.71" cy="30.36" r="0.30" fill="#777" fill-opacity="0.25"/><circle cx="48.77" cy="49.99" r="0.22" fill="#777" fill-opacity="0.37"/><circle cx="37.14" cy="44.52" r="0.24" fill="#777" fill-opacity="0.21"/><circle cx="57.52" cy="40.84" r="0.26" fill="#777" fill-opacity="0.27"/><circle cx="57.47" cy="26.99" r="0.23" fill="#777" fill-opacity="0.34"/><circle cx="62.92" cy="45.48" r="0.33" fill="#777" fill-opacity="0.33"/><circle cx="73.84" cy="30.63" r="0.31" fill="#777" fill-opacity="0.39"/><circle cx="76.13" cy="34.79" r="0.25" fill="#777" fill-opacity="0.43"/><circle cx="41.91" cy="68.92" r="0.33" fill="#777" fill-opacity="0.19"/><circle cx="42.97" cy="55.33" r="0.24" fill="#777" fill-opacity="0.18"/><circle cx="72.61" cy="40.08" r="0.32" fill="#777" fill-opacity="0.19"/><circle cx="51.14" cy="53.26" r="0.20" fill="#777" fill-opacity="0.21"/><circle cx="65.12" cy="64.57" r="0.35" fill="#777" fill-opacity="0.18"/><circle cx="56.28" cy="56.91" r="0.28" fill="#777" fill-opacity="0.36"/><circle cx="40.45" cy="22.53" r="0.22" fill="#777" fill-opacity="0.16"/><circle cx="58.58" cy="44.74" r="0.29" fill="#777" fill-opacity="0.19"/><circle cx="40.23" cy="29.20" r="0.33" fill="#777" fill-opacity="0.45"/><circle cx="77.34" cy="23.76" r="0.21" fill="#777" fill-opacity="0.44"/><circle cx="54.10" cy="57.24" r="0.25" fill="#777" fill-opacity="0.29"/><circle cx="56.76" cy="40.50" r="0.29" fill="#777" fill-opacity="0.15"/><circle cx="66.05" cy="61.21" r="0.23" fill="#777" fill-opacity="0.29"/><circle cx="67.97" cy="39.27" r="0.23" fill="#777" fill-opacity="0.20"/><circle cx="56.63" cy="19.77" r="0.33" fill="#777" fill-opacity="0.39"/><circle cx="66.23" cy="62.04" r="0.29" fill="#777" fill-opacity="0.27"/><circle cx="60.98" cy="44.21" r="0.35" fill="#777" fill-opacity="0.39"/>
<circle cx="54.73" cy="115.53" r="0.30" fill="#777" fill-opacity="0.19"/><circle cx="31.54" cy="101.11" r="0.24" fill="#777" fill-opacity="0.39"/><circle cx="65.53" cy="112.67" r="0.28" fill="#777" fill-opacity="0.35"/><circle cx="38.27" cy="104.44" r="0.22" fill="#777" fill-opacity="0.42"/><circle cx="33.94" cy="123.76" r="0.21" fill="#777" fill-opacity="0.36"/><circle cx="47.85" cy="102.64" r="0.33" fill="#777" fill-opacity="0.16"/><circle cx="34.04" cy="128.67" r="0.28" fill="#777" fill-opacity="0.18"/><circle cx="80.36" cy="130.28" r="0.22" fill="#777" fill-opacity="0.28"/><circle cx="37.75" cy="97.94" r="0.29" fill="#777" fill-opacity="0.20"/><circle cx="65.84" cy="84.62" r="0.23" fill="#777" fill-opacity="0.39"/><circle cx="51.03" cy="103.36" r="0.29" fill="#777" fill-opacity="0.29"/><circle cx="50.23" cy="83.56" r="0.31" fill="#777" fill-opacity="0.44"/><circle cx="79.82" cy="115.84" r="0.25" fill="#777" fill-opacity="0.26"/><circle cx="65.51" cy="116.36" r="0.22" fill="#777" fill-opacity="0.22"/><circle cx="49.17" cy="108.08" r="0.32" fill="#777" fill-opacity="0.30"/><circle cx="32.41" cy="123.95" r="0.26" fill="#777" fill-opacity="0.31"/><circle cx="42.11" cy="103.79" r="0.26" fill="#777" fill-opacity="0.38"/><circle cx="36.13" cy="110.05" r="0.23" fill="#777" fill-opacity="0.36"/><circle cx="32.84" cy="96.10" r="0.25" fill="#777" fill-opacity="0.34"/><circle cx="33.60" cy="105.42" r="0.23" fill="#777" fill-opacity="0.23"/><circle cx="54.81" cy="130.90" r="0.27" fill="#777" fill-opacity="0.44"/><circle cx="39.38" cy="129.14" r="0.25" fill="#777" fill-opacity="0.21"/><circle cx="68.43" cy="128.51" r="0.20" fill="#777" fill-opacity="0.23"/><circle cx="69.53" cy="99.43" r="0.24" fill="#777" fill-opacity="0.15"/><circle cx="33.00" cy="113.57" r="0.35" fill="#777" fill-opacity="0.45"/><circle cx="56.18" cy="83.22" r="0.25" fill="#777" fill-opacity="0.39"/><circle cx="72.60" cy="114.61" r="0.23" fill="#777" fill-opacity="0.31"/><circle cx="54.87" cy="113.98" r="0.24" fill="#777" fill-opacity="0.43"/><circle cx="75.72" cy="90.27" r="0.24" fill="#777" fill-opacity="0.41"/><circle cx="44.92" cy="130.14" r="0.28" fill="#777" fill-opacity="0.36"/><circle cx="66.23" cy="92.92" r="0.24" fill="#777" fill-opacity="0.23"/><circle cx="65.16" cy="117.40" r="0.22" fill="#777" fill-opacity="0.42"/><circle cx="52.02" cy="94.30" r="0.27" fill="#777" fill-opacity="0.44"/><circle cx="59.00" cy="113.86" r="0.34" fill="#777" fill-opacity="0.44"/><circle cx="69.02" cy="103.30" r="0.29" fill="#777" fill-opacity="0.42"/><circle cx="70.46" cy="111.59" r="0.25" fill="#777" fill-opacity="0.26"/><circle cx="67.79" cy="110.73" r="0.20" fill="#777" fill-opacity="0.36"/><circle cx="76.19" cy="122.68" r="0.33" fill="#777" fill-opacity="0.42"/><circle cx="57.75" cy="122.24" r="0.26" fill="#777" fill-opacity="0.18"/><circle cx="48.66" cy="97.92" r="0.34" fill="#777" fill-opacity="0.36"/><circle cx="58.08" cy="113.73" r="0.22" fill="#777" fill-opacity="0.31"/><circle cx="66.03" cy="102.10" r="0.24" fill="#777" fill-opacity="0.27"/><circle cx="47.18" cy="116.95" r="0.22" fill="#777" fill-opacity="0.18"/><circle cx="46.62" cy="117.48" r="0.31" fill="#777" fill-opacity="0.35"/><circle cx="77.74" cy="100.65" r="0.20" fill="#777" fill-opacity="0.30"/><circle cx="53.18" cy="91.15" r="0.30" fill="#777" fill-opacity="0.25"/><circle cx="42.92" cy="98.70" r="0.34" fill="#777" fill-opacity="0.15"/><circle cx="49.02" cy="96.26" r="0.23" fill="#777" fill-opacity="0.28"/><circle cx="42.02" cy="128.86" r="0.28" fill="#777" fill-opacity="0.36"/><circle cx="39.12" cy="105.70" r="0.29" fill="#777" fill-opacity="0.40"/><circle cx="43.49" cy="105.44" r="0.33" fill="#777" fill-opacity="0.40"/><circle cx="42.38" cy="109.44" r="0.31" fill="#777" fill-opacity="0.27"/><circle cx="64.67" cy="115.83" r="0.35" fill="#777" fill-opacity="0.32"/><circle cx="65.04" cy="99.86" r="0.31" fill="#777" fill-opacity="0.25"/><circle cx="56.00" cy="100.40" r="0.25" fill="#777" fill-opacity="0.19"/><circle cx="42.28" cy="109.76" r="0.24" fill="#777" fill-opacity="0.16"/><circle cx="71.18" cy="96.57" r="0.34" fill="#777" fill-opacity="0.33"/><circle cx="50.45" cy="126.53" r="0.33" fill="#777" fill-opacity="0.25"/><circle cx="37.29" cy="114.69" r="0.33" fill="#777" fill-opacity="0.33"/><circle cx="70.22" cy="103.03" r="0.29" fill="#777" fill-opacity="0.23"/><circle cx="51.35" cy="101.36" r="0.26" fill="#777" fill-opacity="0.27"/><circle cx="71.36" cy="90.66" r="0.23" fill="#777" fill-opacity="0.23"/><circle cx="79.55" cy="108.66" r="0.21" fill="#777" fill-opacity="0.40"/><circle cx="74.68" cy="123.88" r="0.25" fill="#777" fill-opacity="0.37"/><circle cx="46.27" cy="89.00" r="0.33" fill="#777" fill-opacity="0.40"/><circle cx="41.56" cy="126.87" r="0.20" fill="#777" fill-opacity="0.24"/><circle cx="31.65" cy="90.72" r="0.22" fill="#777" fill-opacity="0.36"/><circle cx="45.83" cy="91.69" r="0.23" fill="#777" fill-opacity="0.24"/><circle cx="74.11" cy="112.95" r="0.22" fill="#777" fill-opacity="0.36"/><circle cx="57.81" cy="104.87" r="0.28" fill="#777" fill-opacity="0.35"/><circle cx="71.04" cy="107.77" r="0.30" fill="#777" fill-opacity="0.29"/><circle cx="62.70" cy="101.81" r="0.26" fill="#777" fill-opacity="0.30"/><circle cx="66.75" cy="96.20" r="0.34" fill="#777" fill-opacity="0.30"/><circle cx="73.78" cy="117.21" r="0.34" fill="#777" fill-opacity="0.35"/><circle cx="52.34" cy="102.70" r="0.29" fill="#777" fill-opacity="0.38"/><circle cx="72.95" cy="88.59" r="0.21" fill="#777" fill-opacity="0.18"/><circle cx="35.21" cy="84.88" r="0.20" fill="#777" fill-opacity="0.22"/><circle cx="36.66" cy="116.95" r="0.29" fill="#777" fill-opacity="0.44"/><circle cx="79.03" cy="120.08" r="0.34" fill="#777" fill-opacity="0.16"/><circle cx="42.40" cy="129.23" r="0.27" fill="#777" fill-opacity="0.21"/><circle cx="68.84" cy="103.60" r="0.28" fill="#777" fill-opacity="0.24"/><circle cx="43.09" cy="86.45" r="0.29" fill="#777" fill-opacity="0.44"/><circle cx="80.34" cy="121.03" r="0.34" fill="#777" fill-opacity="0.26"/><circle cx="45.91" cy="129.10" r="0.29" fill="#777" fill-opacity="0.35"/><circle cx="31.63" cy="93.66" r="0.27" fill="#777" fill-opacity="0.37"/><circle cx="72.29" cy="120.62" r="0.25" fill="#777" fill-opacity="0.26"/><circle cx="74.12" cy="132.47" r="0.27" fill="#777" fill-opacity="0.21"/><circle cx="62.22" cy="109.33" r="0.25" fill="#777" fill-opacity="0.22"/><circle cx="50.27" cy="113.23" r="0.22" fill="#777" fill-opacity="0.31"/><circle cx="78.62" cy="119.99" r="0.24" fill="#777" fill-opacity="0.28"/><circle cx="36.12" cy="119.59" r="0.29" fill="#777" fill-opacity="0.20"/><circle cx="58.40" cy="112.39" r="0.29" fill="#777" fill-opacity="0.26"/><circle cx="46.49" cy="100.10" r="0.35" fill="#777" fill-opacity="0.25"/><circle cx="56.12" cy="105.46" r="0.23" fill="#777" fill-opacity="0.27"/><circle cx="41.25" cy="98.44" r="0.26" fill="#777" fill-opacity="0.25"/><circle cx="77.90" cy="97.14" r="0.25" fill="#777" fill-opacity="0.35"/><circle cx="50.86" cy="108.30" r="0.30" fill="#777" fill-opacity="0.17"/><circle cx="64.58" cy="87.16" r="0.24" fill="#777" fill-opacity="0.39"/><circle cx="80.48" cy="116.36" r="0.23" fill="#777" fill-opacity="0.28"/><circle cx="45.13" cy="124.90" r="0.23" fill="#777" fill-opacity="0.21"/><circle cx="62.90" cy="114.50" r="0.29" fill="#777" fill-opacity="0.29"/><circle cx="78.95" cy="105.38" r="0.34" fill="#777" fill-opacity="0.27"/><circle cx="54.27" cy="100.33" r="0.31" fill="#777" fill-opacity="0.38"/><circle cx="42.96" cy="108.83" r="0.31" fill="#777" fill-opacity="0.30"/><circle cx="64.12" cy="113.43" r="0.31" fill="#777" fill-opacity="0.26"/><circle cx="46.33" cy="83.26" r="0.33" fill="#777" fill-opacity="0.39"/><circle cx="50.51" cy="131.33" r="0.34" fill="#777" fill-opacity="0.20"/><circle cx="72.83" cy="103.46" r="0.25" fill="#777" fill-opacity="0.23"/><circle cx="51.69" cy="84.64" r="0.21" fill="#777" fill-opacity="0.19"/><circle cx="46.37" cy="90.08" r="0.22" fill="#777" fill-opacity="0.40"/><circle cx="49.98" cy="107.00" r="0.29" fill="#777" fill-opacity="0.43"/><circle cx="38.31" cy="93.63" r="0.33" fill="#777" fill-opacity="0.42"/><circle cx="77.59" cy="108.95" r="0.26" fill="#777" fill-opacity="0.21"/><circle cx="76.53" cy="121.03" r="0.28" fill="#777" fill-opacity="0.39"/><circle cx="44.04" cy="109.22" r="0.34" fill="#777" fill-opacity="0.18"/><circle cx="61.87" cy="91.45" r="0.33" fill="#777" fill-opacity="0.40"/><circle cx="63.20" cy="104.23" r="0.20" fill="#777" fill-opacity="0.30"/><circle cx="48.96" cy="102.41" r="0.21" fill="#777" fill-opacity="0.43"/><circle cx="57.10" cy="110.65" r="0.33" fill="#777" fill-opacity="0.42"/><circle cx="58.48" cy="109.74" r="0.33" fill="#777" fill-opacity="0.26"/>
<g filter="url(#bl1)">
<ellipse cx="48.5" cy="37.0" rx="9.5" ry="5.2" fill="#777" fill-opacity="0.5"/>
<ellipse cx="46.5" cy="37.0" rx="6.8" ry="4.8" fill="#333" fill-opacity="0.6"/>
<ellipse cx="46.3" cy="37.6" rx="3.8" ry="3.4" fill="#111" fill-opacity="0.55"/>
<ellipse cx="47.5" cy="43" rx="4.5" ry="2" fill="#333" fill-opacity="0.6"/>
</g>
<circle cx="50.55" cy="41.48" r="0.44" fill="#000" fill-opacity="0.59"/><circle cx="48.72" cy="33.19" r="0.40" fill="#000" fill-opacity="0.44"/><circle cx="51.51" cy="37.07" r="0.43" fill="#000" fill-opacity="0.34"/><circle cx="47.53" cy="34.62" r="0.32" fill="#000" fill-opacity="0.33"/><circle cx="55.02" cy="36.91" r="0.51" fill="#000" fill-opacity="0.67"/><circle cx="51.04" cy="37.65" r="0.40" fill="#000" fill-opacity="0.37"/><circle cx="51.26" cy="36.03" r="0.30" fill="#000" fill-opacity="0.79"/><circle cx="40.19" cy="38.25" r="0.35" fill="#000" fill-opacity="0.59"/><circle cx="47.05" cy="37.86" r="0.51" fill="#000" fill-opacity="0.44"/><circle cx="47.17" cy="34.72" r="0.54" fill="#000" fill-opacity="0.84"/><circle cx="46.77" cy="31.23" r="0.42" fill="#000" fill-opacity="0.74"/><circle cx="50.75" cy="39.69" r="0.50" fill="#000" fill-opacity="0.42"/><circle cx="56.13" cy="33.70" r="0.37" fill="#000" fill-opacity="0.52"/><circle cx="41.60" cy="38.01" r="0.55" fill="#000" fill-opacity="0.53"/><circle cx="48.77" cy="37.25" r="0.47" fill="#000" fill-opacity="0.90"/><circle cx="40.45" cy="37.10" r="0.42" fill="#000" fill-opacity="0.75"/><circle cx="47.75" cy="41.59" r="0.42" fill="#000" fill-opacity="0.67"/><circle cx="47.84" cy="38.88" r="0.35" fill="#000" fill-opacity="0.86"/><circle cx="42.50" cy="40.77" r="0.34" fill="#000" fill-opacity="0.36"/><circle cx="55.23" cy="39.50" r="0.48" fill="#000" fill-opacity="0.52"/><circle cx="43.33" cy="32.34" r="0.52" fill="#000" fill-opacity="0.87"/><circle cx="53.25" cy="35.91" r="0.51" fill="#000" fill-opacity="0.59"/><circle cx="43.72" cy="38.81" r="0.51" fill="#000" fill-opacity="0.40"/><circle cx="55.03" cy="39.60" r="0.48" fill="#000" fill-opacity="0.59"/><circle cx="47.38" cy="36.05" r="0.33" fill="#000" fill-opacity="0.47"/><circle cx="43.72" cy="38.01" r="0.27" fill="#000" fill-opacity="0.50"/><circle cx="46.35" cy="33.12" r="0.33" fill="#000" fill-opacity="0.88"/><circle cx="50.03" cy="37.42" r="0.50" fill="#000" fill-opacity="0.78"/><circle cx="51.68" cy="33.87" r="0.38" fill="#000" fill-opacity="0.65"/><circle cx="49.11" cy="34.63" r="0.41" fill="#000" fill-opacity="0.47"/><circle cx="46.59" cy="36.52" r="0.46" fill="#000" fill-opacity="0.87"/><circle cx="53.40" cy="37.67" r="0.44" fill="#000" fill-opacity="0.81"/><circle cx="43.04" cy="35.67" r="0.37" fill="#000" fill-opacity="0.88"/><circle cx="48.81" cy="35.98" r="0.28" fill="#000" fill-opacity="0.36"/><circle cx="52.09" cy="37.59" r="0.29" fill="#000" fill-opacity="0.82"/><circle cx="44.98" cy="35.54" r="0.41" fill="#000" fill-opacity="0.49"/><circle cx="42.84" cy="37.09" r="0.30" fill="#000" fill-opacity="0.41"/><circle cx="40.61" cy="40.72" r="0.42" fill="#000" fill-opacity="0.33"/><circle cx="43.92" cy="30.29" r="0.48" fill="#000" fill-opacity="0.77"/><circle cx="52.30" cy="37.19" r="0.27" fill="#000" fill-opacity="0.76"/><circle cx="50.21" cy="41.78" r="0.33" fill="#000" fill-opacity="0.72"/><circle cx="45.91" cy="37.92" r="0.37" fill="#000" fill-opacity="0.49"/><circle cx="50.03" cy="35.34" r="0.40" fill="#000" fill-opacity="0.63"/><circle cx="48.74" cy="36.50" r="0.43" fill="#000" fill-opacity="0.60"/><circle cx="43.52" cy="41.90" r="0.41" fill="#000" fill-opacity="0.64"/><circle cx="55.29" cy="39.43" r="0.54" fill="#000" fill-opacity="0.51"/><circle cx="48.11" cy="37.85" r="0.27" fill="#000" fill-opacity="0.79"/><circle cx="46.85" cy="33.30" r="0.44" fill="#000" fill-opacity="0.31"/><circle cx="43.04" cy="34.10" r="0.41" fill="#000" fill-opacity="0.53"/><circle cx="43.47" cy="38.41" r="0.26" fill="#000" fill-opacity="0.56"/><circle cx="49.92" cy="32.03" r="0.39" fill="#000" fill-opacity="0.44"/><circle cx="41.98" cy="39.59" r="0.44" fill="#000" fill-opacity="0.88"/><circle cx="51.61" cy="38.99" r="0.40" fill="#000" fill-opacity="0.73"/><circle cx="53.48" cy="33.25" r="0.44" fill="#000" fill-opacity="0.76"/><circle cx="41.43" cy="31.14" r="0.46" fill="#000" fill-opacity="0.71"/><circle cx="41.08" cy="40.08" r="0.50" fill="#000" fill-opacity="0.88"/><circle cx="47.09" cy="36.97" r="0.34" fill="#000" fill-opacity="0.49"/><circle cx="44.24" cy="38.20" r="0.42" fill="#000" fill-opacity="0.35"/><circle cx="46.22" cy="33.22" r="0.28" fill="#000" fill-opacity="0.87"/><circle cx="45.49" cy="34.79" r="0.35" fill="#000" fill-opacity="0.68"/><circle cx="44.82" cy="34.60" r="0.54" fill="#000" fill-opacity="0.49"/><circle cx="50.98" cy="41.22" r="0.31" fill="#000" fill-opacity="0.66"/><circle cx="45.63" cy="40.27" r="0.53" fill="#000" fill-opacity="0.58"/><circle cx="39.85" cy="38.82" r="0.33" fill="#000" fill-opacity="0.40"/><circle cx="43.40" cy="38.80" r="0.31" fill="#000" fill-opacity="0.88"/><circle cx="55.76" cy="38.33" r="0.53" fill="#000" fill-opacity="0.72"/><circle cx="52.59" cy="37.48" r="0.26" fill="#000" fill-opacity="0.66"/><circle cx="45.32" cy="34.60" r="0.25" fill="#000" fill-opacity="0.63"/><circle cx="50.21" cy="38.64" r="0.39" fill="#000" fill-opacity="0.84"/><circle cx="44.58" cy="38.33" r="0.49" fill="#000" fill-opacity="0.79"/><circle cx="44.88" cy="36.80" r="0.31" fill="#000" fill-opacity="0.54"/><circle cx="42.98" cy="36.22" r="0.49" fill="#000" fill-opacity="0.81"/><circle cx="56.11" cy="33.81" r="0.26" fill="#000" fill-opacity="0.65"/><circle cx="56.26" cy="40.53" r="0.47" fill="#000" fill-opacity="0.76"/><circle cx="47.19" cy="38.10" r="0.49" fill="#000" fill-opacity="0.66"/><circle cx="42.23" cy="34.37" r="0.49" fill="#000" fill-opacity="0.50"/><circle cx="45.90" cy="40.15" r="0.34" fill="#000" fill-opacity="0.68"/><circle cx="48.04" cy="36.17" r="0.27" fill="#000" fill-opacity="0.61"/><circle cx="45.03" cy="35.02" r="0.33" fill="#000" fill-opacity="0.34"/><circle cx="52.41" cy="37.92" r="0.45" fill="#000" fill-opacity="0.69"/><circle cx="47.83" cy="38.34" r="0.53" fill="#000" fill-opacity="0.62"/><circle cx="39.82" cy="39.84" r="0.47" fill="#000" fill-opacity="0.61"/><circle cx="55.09" cy="40.01" r="0.31" fill="#000" fill-opacity="0.32"/><circle cx="42.66" cy="40.36" r="0.44" fill="#000" fill-opacity="0.40"/><circle cx="44.98" cy="33.16" r="0.30" fill="#000" fill-opacity="0.81"/><circle cx="44.94" cy="34.85" r="0.48" fill="#000" fill-opacity="0.84"/><circle cx="51.58" cy="36.37" r="0.53" fill="#000" fill-opacity="0.86"/><circle cx="46.71" cy="36.51" r="0.36" fill="#000" fill-opacity="0.67"/><circle cx="39.68" cy="33.44" r="0.44" fill="#000" fill-opacity="0.40"/><circle cx="52.35" cy="35.22" r="0.51" fill="#000" fill-opacity="0.42"/><circle cx="53.12" cy="36.95" r="0.48" fill="#000" fill-opacity="0.74"/><circle cx="50.15" cy="34.83" r="0.27" fill="#000" fill-opacity="0.54"/><circle cx="49.32" cy="40.81" r="0.49" fill="#000" fill-opacity="0.52"/><circle cx="47.33" cy="37.58" r="0.38" fill="#000" fill-opacity="0.65"/><circle cx="54.09" cy="37.83" r="0.31" fill="#000" fill-opacity="0.36"/><circle cx="52.19" cy="35.18" r="0.52" fill="#000" fill-opacity="0.61"/><circle cx="49.26" cy="38.76" r="0.38" fill="#000" fill-opacity="0.68"/><circle cx="47.63" cy="31.38" r="0.45" fill="#000" fill-opacity="0.45"/><circle cx="41.91" cy="38.41" r="0.40" fill="#000" fill-opacity="0.46"/><circle cx="40.90" cy="36.11" r="0.26" fill="#000" fill-opacity="0.79"/><circle cx="45.79" cy="31.51" r="0.55" fill="#000" fill-opacity="0.53"/><circle cx="46.15" cy="37.18" r="0.45" fill="#000" fill-opacity="0.65"/><circle cx="47.72" cy="39.31" r="0.47" fill="#000" fill-opacity="0.79"/><circle cx="44.76" cy="37.12" r="0.36" fill="#000" fill-opacity="0.80"/><circle cx="40.71" cy="37.00" r="0.37" fill="#000" fill-opacity="0.68"/><circle cx="39.99" cy="33.97" r="0.51" fill="#000" fill-opacity="0.75"/><circle cx="43.71" cy="38.83" r="0.48" fill="#000" fill-opacity="0.78"/><circle cx="49.62" cy="36.01" r="0.50" fill="#000" fill-opacity="0.83"/><circle cx="50.45" cy="38.36" r="0.44" fill="#000" fill-opacity="0.39"/><circle cx="48.49" cy="34.67" r="0.45" fill="#000" fill-opacity="0.48"/><circle cx="47.20" cy="39.27" r="0.40" fill="#000" fill-opacity="0.73"/><circle cx="42.66" cy="41.23" r="0.36" fill="#000" fill-opacity="0.42"/><circle cx="47.63" cy="37.91" r="0.46" fill="#000" fill-opacity="0.55"/><circle cx="54.16" cy="41.90" r="0.45" fill="#000" fill-opacity="0.31"/><circle cx="45.40" cy="32.49" r="0.38" fill="#000" fill-opacity="0.60"/><circle cx="51.39" cy="36.23" r="0.44" fill="#000" fill-opacity="0.68"/><circle cx="43.31" cy="39.34" r="0.48" fill="#000" fill-opacity="0.68"/><circle cx="40.48" cy="38.09" r="0.32" fill="#000" fill-opacity="0.77"/><circle cx="53.91" cy="37.61" r="0.39" fill="#000" fill-opacity="0.43"/><circle cx="40.62" cy="34.67" r="0.28" fill="#000" fill-opacity="0.59"/><circle cx="44.34" cy="39.69" r="0.31" fill="#000" fill-opacity="0.33"/><circle cx="47.66" cy="38.80" r="0.44" fill="#000" fill-opacity="0.81"/><circle cx="46.96" cy="38.63" r="0.41" fill="#000" fill-opacity="0.37"/><circle cx="39.22" cy="40.23" r="0.31" fill="#000" fill-opacity="0.72"/><circle cx="44.37" cy="36.65" r="0.32" fill="#000" fill-opacity="0.66"/><circle cx="49.39" cy="38.30" r="0.42" fill="#000" fill-opacity="0.79"/><circle cx="38.89" cy="36.36" r="0.25" fill="#000" fill-opacity="0.48"/><circle cx="40.80" cy="41.65" r="0.26" fill="#000" fill-opacity="0.60"/><circle cx="53.43" cy="33.32" r="0.42" fill="#000" fill-opacity="0.41"/><circle cx="48.40" cy="36.38" r="0.54" fill="#000" fill-opacity="0.77"/><circle cx="45.29" cy="32.89" r="0.30" fill="#000" fill-opacity="0.50"/><circle cx="42.59" cy="32.74" r="0.37" fill="#000" fill-opacity="0.78"/><circle cx="50.54" cy="37.92" r="0.28" fill="#000" fill-opacity="0.49"/><circle cx="48.82" cy="31.52" r="0.29" fill="#000" fill-opacity="0.49"/><circle cx="52.34" cy="40.24" r="0.38" fill="#000" fill-opacity="0.44"/><circle cx="39.18" cy="41.84" r="0.38" fill="#000" fill-opacity="0.71"/><circle cx="42.41" cy="34.23" r="0.42" fill="#000" fill-opacity="0.52"/><circle cx="48.44" cy="40.76" r="0.34" fill="#000" fill-opacity="0.50"/><circle cx="43.40" cy="38.03" r="0.26" fill="#000" fill-opacity="0.43"/><circle cx="49.69" cy="34.73" r="0.45" fill="#000" fill-opacity="0.44"/><circle cx="43.17" cy="33.98" r="0.47" fill="#000" fill-opacity="0.62"/><circle cx="43.51" cy="38.94" r="0.43" fill="#000" fill-opacity="0.80"/><circle cx="44.37" cy="33.37" r="0.35" fill="#000" fill-opacity="0.83"/><circle cx="48.16" cy="35.43" r="0.45" fill="#000" fill-opacity="0.76"/><circle cx="49.33" cy="35.24" r="0.55" fill="#000" fill-opacity="0.50"/><circle cx="49.09" cy="39.96" r="0.44" fill="#000" fill-opacity="0.46"/><circle cx="39.97" cy="33.36" r="0.49" fill="#000" fill-opacity="0.82"/><circle cx="54.10" cy="33.08" r="0.54" fill="#000" fill-opacity="0.60"/><circle cx="44.63" cy="33.10" r="0.54" fill="#000" fill-opacity="0.69"/><circle cx="39.54" cy="39.12" r="0.34" fill="#000" fill-opacity="0.38"/><circle cx="44.37" cy="38.21" r="0.25" fill="#000" fill-opacity="0.36"/><circle cx="53.56" cy="38.45" r="0.28" fill="#000" fill-opacity="0.61"/><circle cx="44.90" cy="40.54" r="0.46" fill="#000" fill-opacity="0.55"/><circle cx="39.97" cy="40.45" r="0.28" fill="#000" fill-opacity="0.51"/><circle cx="43.56" cy="30.84" r="0.54" fill="#000" fill-opacity="0.45"/><circle cx="43.32" cy="34.92" r="0.46" fill="#000" fill-opacity="0.81"/><circle cx="49.66" cy="39.35" r="0.53" fill="#000" fill-opacity="0.51"/><circle cx="40.02" cy="32.36" r="0.33" fill="#000" fill-opacity="0.77"/><circle cx="51.24" cy="37.07" r="0.30" fill="#000" fill-opacity="0.51"/><circle cx="46.77" cy="37.75" r="0.49" fill="#000" fill-opacity="0.40"/><circle cx="40.58" cy="35.08" r="0.50" fill="#000" fill-opacity="0.81"/><circle cx="44.22" cy="35.57" r="0.48" fill="#000" fill-opacity="0.36"/><circle cx="50.52" cy="35.73" r="0.33" fill="#000" fill-opacity="0.43"/><circle cx="39.18" cy="40.66" r="0.51" fill="#000" fill-opacity="0.75"/><circle cx="46.00" cy="34.48" r="0.35" fill="#000" fill-opacity="0.48"/><circle cx="48.67" cy="36.96" r="0.54" fill="#000" fill-opacity="0.85"/><circle cx="38.75" cy="38.27" r="0.49" fill="#000" fill-opacity="0.41"/><circle cx="54.87" cy="31.89" r="0.28" fill="#000" fill-opacity="0.73"/><circle cx="49.77" cy="40.72" r="0.29" fill="#000" fill-opacity="0.78"/><circle cx="46.28" cy="36.16" r="0.34" fill="#000" fill-opacity="0.38"/><circle cx="41.67" cy="33.39" r="0.27" fill="#000" fill-opacity="0.87"/><circle cx="51.97" cy="36.21" r="0.42" fill="#000" fill-opacity="0.52"/><circle cx="42.38" cy="34.88" r="0.38" fill="#000" fill-opacity="0.75"/><circle cx="48.20" cy="39.64" r="0.48" fill="#000" fill-opacity="0.43"/><circle cx="56.90" cy="40.14" r="0.30" fill="#000" fill-opacity="0.55"/><circle cx="44.93" cy="39.44" r="0.36" fill="#000" fill-opacity="0.62"/><circle cx="51.29" cy="39.80" r="0.27" fill="#000" fill-opacity="0.35"/><circle cx="47.64" cy="39.41" r="0.35" fill="#000" fill-opacity="0.47"/><circle cx="50.45" cy="32.74" r="0.39" fill="#000" fill-opacity="0.76"/><circle cx="44.73" cy="34.28" r="0.43" fill="#000" fill-opacity="0.75"/><circle cx="52.81" cy="36.40" r="0.52" fill="#000" fill-opacity="0.36"/><circle cx="45.82" cy="34.37" r="0.48" fill="#000" fill-opacity="0.55"/><circle cx="42.66" cy="36.44" r="0.33" fill="#000" fill-opacity="0.82"/><circle cx="41.95" cy="33.25" r="0.28" fill="#000" fill-opacity="0.48"/><circle cx="49.94" cy="36.54" r="0.41" fill="#000" fill-opacity="0.72"/><circle cx="39.90" cy="36.72" r="0.54" fill="#000" fill-opacity="0.77"/><circle cx="46.95" cy="40.59" r="0.38" fill="#000" fill-opacity="0.71"/><circle cx="44.66" cy="34.64" r="0.46" fill="#000" fill-opacity="0.56"/><circle cx="50.80" cy="37.27" r="0.36" fill="#000" fill-opacity="0.42"/><circle cx="53.16" cy="35.00" r="0.51" fill="#000" fill-opacity="0.59"/><circle cx="51.09" cy="38.18" r="0.36" fill="#000" fill-opacity="0.50"/><circle cx="44.90" cy="37.51" r="0.45" fill="#000" fill-opacity="0.87"/><circle cx="46.83" cy="39.17" r="0.35" fill="#000" fill-opacity="0.78"/><circle cx="49.76" cy="41.04" r="0.47" fill="#000" fill-opacity="0.70"/><circle cx="57.74" cy="41.31" r="0.50" fill="#000" fill-opacity="0.59"/><circle cx="50.97" cy="33.44" r="0.30" fill="#000" fill-opacity="0.54"/><circle cx="49.00" cy="33.57" r="0.26" fill="#000" fill-opacity="0.40"/><circle cx="49.19" cy="41.16" r="0.44" fill="#000" fill-opacity="0.57"/><circle cx="42.22" cy="41.24" r="0.31" fill="#000" fill-opacity="0.61"/><circle cx="47.59" cy="38.51" r="0.35" fill="#000" fill-opacity="0.37"/><circle cx="40.95" cy="40.36" r="0.41" fill="#000" fill-opacity="0.78"/><circle cx="44.34" cy="37.20" r="0.47" fill="#000" fill-opacity="0.54"/><circle cx="42.60" cy="36.61" r="0.36" fill="#000" fill-opacity="0.60"/><circle cx="45.49" cy="38.43" r="0.37" fill="#000" fill-opacity="0.69"/><circle cx="50.05" cy="31.73" r="0.52" fill="#000" fill-opacity="0.78"/><circle cx="40.15" cy="39.58" r="0.27" fill="#000" fill-opacity="0.78"/><circle cx="45.43" cy="34.42" r="0.39" fill="#000" fill-opacity="0.46"/><circle cx="48.03" cy="33.56" r="0.48" fill="#000" fill-opacity="0.85"/><circle cx="47.38" cy="33.72" r="0.35" fill="#000" fill-opacity="0.87"/><circle cx="49.28" cy="35.75" r="0.36" fill="#000" fill-opacity="0.77"/><circle cx="46.67" cy="34.23" r="0.38" fill="#000" fill-opacity="0.88"/><circle cx="50.01" cy="38.46" r="0.45" fill="#000" fill-opacity="0.84"/><circle cx="52.03" cy="35.75" r="0.49" fill="#000" fill-opacity="0.88"/><circle cx="44.71" cy="39.14" r="0.33" fill="#000" fill-opacity="0.77"/><circle cx="50.68" cy="40.29" r="0.53" fill="#000" fill-opacity="0.42"/><circle cx="42.09" cy="33.98" r="0.54" fill="#000" fill-opacity="0.61"/><circle cx="46.54" cy="35.10" r="0.49" fill="#000" fill-opacity="0.54"/><circle cx="41.11" cy="37.15" r="0.32" fill="#000" fill-opacity="0.47"/><circle cx="47.36" cy="38.99" r="0.47" fill="#000" fill-opacity="0.33"/><circle cx="40.79" cy="34.33" r="0.47" fill="#000" fill-opacity="0.64"/><circle cx="50.29" cy="35.78" r="0.28" fill="#000" fill-opacity="0.65"/><circle cx="53.49" cy="34.55" r="0.50" fill="#000" fill-opacity="0.45"/><circle cx="41.41" cy="37.31" r="0.35" fill="#000" fill-opacity="0.52"/><circle cx="39.00" cy="37.69" r="0.26" fill="#000" fill-opacity="0.62"/><circle cx="39.93" cy="35.55" r="0.34" fill="#000" fill-opacity="0.72"/><circle cx="42.89" cy="35.69" r="0.44" fill="#000" fill-opacity="0.33"/><circle cx="46.33" cy="34.09" r="0.47" fill="#000" fill-opacity="0.38"/><circle cx="43.91" cy="35.81" r="0.26" fill="#000" fill-opacity="0.46"/><circle cx="49.49" cy="34.25" r="0.41" fill="#000" fill-opacity="0.77"/><circle cx="50.49" cy="36.64" r="0.46" fill="#000" fill-opacity="0.77"/><circle cx="47.81" cy="33.98" r="0.39" fill="#000" fill-opacity="0.77"/><circle cx="46.47" cy="40.92" r="0.44" fill="#000" fill-opacity="0.81"/><circle cx="47.12" cy="38.94" r="0.39" fill="#000" fill-opacity="0.69"/><circle cx="49.78" cy="40.59" r="0.39" fill="#000" fill-opacity="0.46"/><circle cx="49.02" cy="36.06" r="0.33" fill="#000" fill-opacity="0.32"/><circle cx="41.78" cy="33.09" r="0.32" fill="#000" fill-opacity="0.85"/><circle cx="44.19" cy="35.29" r="0.53" fill="#000" fill-opacity="0.81"/><circle cx="49.79" cy="39.30" r="0.38" fill="#000" fill-opacity="0.87"/><circle cx="44.95" cy="40.20" r="0.31" fill="#000" fill-opacity="0.79"/><circle cx="42.95" cy="40.61" r="0.51" fill="#000" fill-opacity="0.46"/><circle cx="39.23" cy="36.13" r="0.42" fill="#000" fill-opacity="0.54"/><circle cx="43.75" cy="34.65" r="0.30" fill="#000" fill-opacity="0.31"/><circle cx="41.15" cy="34.26" r="0.49" fill="#000" fill-opacity="0.39"/><circle cx="43.84" cy="33.69" r="0.41" fill="#000" fill-opacity="0.80"/><circle cx="40.98" cy="36.57" r="0.44" fill="#000" fill-opacity="0.39"/><circle cx="50.88" cy="34.06" r="0.26" fill="#000" fill-opacity="0.59"/><circle cx="42.85" cy="38.19" r="0.53" fill="#000" fill-opacity="0.47"/><circle cx="50.39" cy="37.29" r="0.39" fill="#000" fill-opacity="0.70"/><circle cx="50.78" cy="38.25" r="0.47" fill="#000" fill-opacity="0.51"/><circle cx="50.19" cy="41.78" r="0.38" fill="#000" fill-opacity="0.72"/><circle cx="49.71" cy="31.98" r="0.40" fill="#000" fill-opacity="0.67"/><circle cx="45.02" cy="37.95" r="0.52" fill="#000" fill-opacity="0.78"/><circle cx="47.60" cy="30.31" r="0.42" fill="#000" fill-opacity="0.90"/><circle cx="50.93" cy="38.61" r="0.42" fill="#000" fill-opacity="0.79"/><circle cx="41.01" cy="40.64" r="0.49" fill="#000" fill-opacity="0.66"/><circle cx="54.04" cy="37.65" r="0.25" fill="#000" fill-opacity="0.48"/><circle cx="53.13" cy="40.81" r="0.30" fill="#000" fill-opacity="0.73"/><circle cx="49.68" cy="38.02" r="0.46" fill="#000" fill-opacity="0.85"/><circle cx="52.97" cy="39.04" r="0.37" fill="#000" fill-opacity="0.67"/><circle cx="47.35" cy="37.29" r="0.27" fill="#000" fill-opacity="0.83"/><circle cx="39.35" cy="37.28" r="0.29" fill="#000" fill-opacity="0.71"/><circle cx="49.31" cy="35.69" r="0.48" fill="#000" fill-opacity="0.81"/><circle cx="53.21" cy="36.78" r="0.44" fill="#000" fill-opacity="0.51"/><circle cx="47.36" cy="34.12" r="0.44" fill="#000" fill-opacity="0.68"/><circle cx="55.63" cy="36.60" r="0.28" fill="#000" fill-opacity="0.41"/><circle cx="43.24" cy="39.67" r="0.47" fill="#000" fill-opacity="0.46"/><circle cx="41.18" cy="35.65" r="0.34" fill="#000" fill-opacity="0.69"/><circle cx="42.75" cy="34.14" r="0.27" fill="#000" fill-opacity="0.69"/><circle cx="48.09" cy="34.02" r="0.46" fill="#000" fill-opacity="0.62"/><circle cx="55.19" cy="40.62" r="0.34" fill="#000" fill-opacity="0.59"/><circle cx="49.52" cy="34.41" r="0.50" fill="#000" fill-opacity="0.39"/><circle cx="41.25" cy="35.85" r="0.51" fill="#000" fill-opacity="0.73"/><circle cx="41.37" cy="31.78" r="0.35" fill="#000" fill-opacity="0.57"/><circle cx="50.36" cy="38.90" r="0.31" fill="#000" fill-opacity="0.74"/><circle cx="41.93" cy="34.82" r="0.29" fill="#000" fill-opacity="0.57"/><circle cx="43.83" cy="36.26" r="0.54" fill="#000" fill-opacity="0.52"/><circle cx="42.59" cy="38.11" r="0.36" fill="#000" fill-opacity="0.47"/><circle cx="47.72" cy="35.96" r="0.36" fill="#000" fill-opacity="0.66"/><circle cx="41.93" cy="37.39" r="0.40" fill="#000" fill-opacity="0.34"/><circle cx="44.54" cy="40.40" r="0.48" fill="#000" fill-opacity="0.56"/><circle cx="39.97" cy="39.51" r="0.33" fill="#000" fill-opacity="0.63"/><circle cx="48.95" cy="41.43" r="0.41" fill="#000" fill-opacity="0.69"/><circle cx="53.04" cy="32.71" r="0.55" fill="#000" fill-opacity="0.44"/><circle cx="51.91" cy="35.95" r="0.36" fill="#000" fill-opacity="0.57"/><circle cx="57.87" cy="32.99" r="0.49" fill="#000" fill-opacity="0.48"/><circle cx="49.08" cy="38.56" r="0.45" fill="#000" fill-opacity="0.72"/><circle cx="46.91" cy="37.12" r="0.55" fill="#000" fill-opacity="0.50"/><circle cx="52.12" cy="37.99" r="0.28" fill="#000" fill-opacity="0.79"/><circle cx="39.46" cy="36.14" r="0.53" fill="#000" fill-opacity="0.37"/><circle cx="42.13" cy="34.72" r="0.36" fill="#000" fill-opacity="0.67"/><circle cx="47.34" cy="37.60" r="0.50" fill="#000" fill-opacity="0.45"/><circle cx="40.71" cy="36.48" r="0.54" fill="#000" fill-opacity="0.57"/><circle cx="48.83" cy="38.72" r="0.52" fill="#000" fill-opacity="0.79"/><circle cx="40.69" cy="40.95" r="0.42" fill="#000" fill-opacity="0.81"/><circle cx="45.23" cy="37.06" r="0.42" fill="#000" fill-opacity="0.81"/><circle cx="41.87" cy="38.06" r="0.36" fill="#000" fill-opacity="0.44"/><circle cx="39.02" cy="33.86" r="0.30" fill="#000" fill-opacity="0.52"/><circle cx="42.02" cy="35.38" r="0.25" fill="#000" fill-opacity="0.82"/><circle cx="51.75" cy="40.62" r="0.54" fill="#000" fill-opacity="0.47"/><circle cx="45.92" cy="40.03" r="0.41" fill="#000" fill-opacity="0.89"/><circle cx="48.90" cy="39.01" r="0.52" fill="#000" fill-opacity="0.47"/><circle cx="42.36" cy="32.28" r="0.25" fill="#000" fill-opacity="0.32"/><circle cx="44.51" cy="33.41" r="0.28" fill="#000" fill-opacity="0.62"/><circle cx="50.05" cy="38.92" r="0.26" fill="#000" fill-opacity="0.61"/><circle cx="42.33" cy="37.57" r="0.32" fill="#000" fill-opacity="0.34"/><circle cx="49.17" cy="37.31" r="0.54" fill="#000" fill-opacity="0.32"/><circle cx="45.30" cy="33.33" r="0.43" fill="#000" fill-opacity="0.48"/><circle cx="55.87" cy="36.26" r="0.37" fill="#000" fill-opacity="0.56"/><circle cx="49.14" cy="36.02" r="0.51" fill="#000" fill-opacity="0.67"/><circle cx="40.64" cy="35.29" r="0.43" fill="#000" fill-opacity="0.35"/><circle cx="46.53" cy="40.18" r="0.32" fill="#000" fill-opacity="0.35"/><circle cx="45.24" cy="33.54" r="0.47" fill="#000" fill-opacity="0.54"/><circle cx="50.13" cy="36.09" r="0.40" fill="#000" fill-opacity="0.55"/><circle cx="47.20" cy="35.26" r="0.41" fill="#000" fill-opacity="0.57"/><circle cx="43.81" cy="35.26" r="0.41" fill="#000" fill-opacity="0.89"/><circle cx="52.05" cy="36.23" r="0.27" fill="#000" fill-opacity="0.60"/><circle cx="46.73" cy="36.96" r="0.48" fill="#000" fill-opacity="0.77"/><circle cx="51.78" cy="40.07" r="0.29" fill="#000" fill-opacity="0.36"/><circle cx="42.16" cy="36.62" r="0.45" fill="#000" fill-opacity="0.62"/><circle cx="55.85" cy="37.23" r="0.33" fill="#000" fill-opacity="0.84"/><circle cx="42.00" cy="34.65" r="0.31" fill="#000" fill-opacity="0.81"/><circle cx="54.79" cy="30.26" r="0.43" fill="#000" fill-opacity="0.85"/><circle cx="52.58" cy="33.91" r="0.35" fill="#000" fill-opacity="0.66"/><circle cx="53.28" cy="33.42" r="0.31" fill="#000" fill-opacity="0.50"/><circle cx="50.54" cy="38.57" r="0.30" fill="#000" fill-opacity="0.48"/><circle cx="47.22" cy="35.35" r="0.53" fill="#000" fill-opacity="0.85"/><circle cx="47.01" cy="34.51" r="0.34" fill="#000" fill-opacity="0.57"/><circle cx="48.69" cy="37.18" r="0.50" fill="#000" fill-opacity="0.31"/><circle cx="49.12" cy="35.65" r="0.54" fill="#000" fill-opacity="0.58"/><circle cx="38.87" cy="33.08" r="0.50" fill="#000" fill-opacity="0.55"/><circle cx="46.32" cy="39.90" r="0.51" fill="#000" fill-opacity="0.83"/><circle cx="48.74" cy="34.24" r="0.35" fill="#000" fill-opacity="0.36"/><circle cx="47.31" cy="36.07" r="0.30" fill="#000" fill-opacity="0.31"/><circle cx="50.08" cy="38.11" r="0.33" fill="#000" fill-opacity="0.72"/><circle cx="44.51" cy="38.65" r="0.46" fill="#000" fill-opacity="0.84"/><circle cx="47.46" cy="38.06" r="0.37" fill="#000" fill-opacity="0.86"/><circle cx="49.14" cy="37.68" r="0.44" fill="#000" fill-opacity="0.76"/><circle cx="44.99" cy="37.31" r="0.42" fill="#000" fill-opacity="0.36"/><circle cx="48.09" cy="37.52" r="0.53" fill="#000" fill-opacity="0.36"/><circle cx="48.07" cy="40.22" r="0.49" fill="#000" fill-opacity="0.64"/><circle cx="48.71" cy="40.96" r="0.55" fill="#000" fill-opacity="0.79"/><circle cx="47.60" cy="36.83" r="0.27" fill="#000" fill-opacity="0.60"/><circle cx="44.78" cy="41.14" r="0.51" fill="#000" fill-opacity="0.56"/><circle cx="46.79" cy="35.04" r="0.38" fill="#000" fill-opacity="0.74"/><circle cx="43.24" cy="37.43" r="0.51" fill="#000" fill-opacity="0.51"/><circle cx="50.36" cy="35.46" r="0.50" fill="#000" fill-opacity="0.37"/><circle cx="42.76" cy="34.47" r="0.54" fill="#000" fill-opacity="0.88"/><circle cx="48.12" cy="34.83" r="0.28" fill="#000" fill-opacity="0.67"/><circle cx="47.72" cy="37.90" r="0.42" fill="#000" fill-opacity="0.87"/>
<ellipse cx="61.8" cy="36.4" rx="4.3" ry="3.0" transform="rotate(-12 61.8 36.4)" fill="#f2f2f2" stroke="#000" stroke-width="1.5"/>
<ellipse cx="61.8" cy="36.6" rx="2.2" ry="1.4" fill="none" stroke="#aaa" stroke-width="0.6"/>
<path d="M47.3,43.4 C52,43.3 55.5,44.5 56.6,48.5 C57.5,52 57.3,57 55.5,61.5 C53.8,64.5 51,65.8 47.8,65.8 C43.5,65.8 40.5,64 39.2,60.5 C38,57 38,52 39.2,48.5 C40.5,45 43,43.5 47.3,43.4 Z" fill="none" stroke="#000" stroke-width="3.2" stroke-opacity="0.35" filter="url(#bl1)"/>
<path d="M47.3,43.4 C52,43.3 55.5,44.5 56.6,48.5 C57.5,52 57.3,57 55.5,61.5 C53.8,64.5 51,65.8 47.8,65.8 C43.5,65.8 40.5,64 39.2,60.5 C38,57 38,52 39.2,48.5 C40.5,45 43,43.5 47.3,43.4 Z" fill="url(#blobg)" stroke="#000" stroke-width="1.7"/>
<path d="M48.8,108.6 C53,108.6 55.5,111 56.5,114.5 C57.5,118 57.3,124 56,127.5 C54.5,130.5 51.5,131.3 47.8,131.3 C44,131.3 41,130 39.8,127 C38.8,124 38.8,117 40,113.5 C41.5,110 44.5,108.6 48.8,108.6 Z" fill="none" stroke="#000" stroke-width="3.2" stroke-opacity="0.35" filter="url(#bl1)"/>
<path d="M48.8,108.6 C53,108.6 55.5,111 56.5,114.5 C57.5,118 57.3,124 56,127.5 C54.5,130.5 51.5,131.3 47.8,131.3 C44,131.3 41,130 39.8,127 C38.8,124 38.8,117 40,113.5 C41.5,110 44.5,108.6 48.8,108.6 Z" fill="url(#blobg2)" stroke="#000" stroke-width="1.7"/>
<path d="M45,48 Q46.5,55 45,62 M51,47.5 Q52,55 50.5,63" stroke="#888" stroke-opacity="0.35" stroke-width="0.6" fill="none"/>
<circle cx="43.90" cy="55.04" r="0.28" fill="#888" fill-opacity="0.45"/><circle cx="43.70" cy="55.94" r="0.44" fill="#888" fill-opacity="0.32"/><circle cx="55.49" cy="59.17" r="0.36" fill="#888" fill-opacity="0.39"/><circle cx="49.38" cy="52.48" r="0.45" fill="#888" fill-opacity="0.32"/><circle cx="55.74" cy="61.35" r="0.26" fill="#888" fill-opacity="0.28"/><circle cx="47.64" cy="60.66" r="0.29" fill="#888" fill-opacity="0.38"/><circle cx="45.88" cy="60.14" r="0.44" fill="#888" fill-opacity="0.43"/><circle cx="43.09" cy="59.69" r="0.34" fill="#888" fill-opacity="0.45"/><circle cx="47.52" cy="62.32" r="0.45" fill="#888" fill-opacity="0.45"/><circle cx="53.22" cy="60.74" r="0.37" fill="#888" fill-opacity="0.25"/><circle cx="55.78" cy="54.36" r="0.25" fill="#888" fill-opacity="0.33"/><circle cx="46.64" cy="49.62" r="0.44" fill="#888" fill-opacity="0.23"/><circle cx="54.47" cy="55.90" r="0.29" fill="#888" fill-opacity="0.31"/><circle cx="47.21" cy="48.12" r="0.40" fill="#888" fill-opacity="0.40"/><circle cx="55.72" cy="60.94" r="0.41" fill="#888" fill-opacity="0.50"/><circle cx="54.91" cy="57.59" r="0.36" fill="#888" fill-opacity="0.36"/><circle cx="53.02" cy="62.66" r="0.42" fill="#888" fill-opacity="0.45"/><circle cx="40.44" cy="53.57" r="0.27" fill="#888" fill-opacity="0.38"/><circle cx="49.28" cy="56.09" r="0.42" fill="#888" fill-opacity="0.27"/><circle cx="51.66" cy="56.56" r="0.29" fill="#888" fill-opacity="0.49"/><circle cx="40.86" cy="54.37" r="0.36" fill="#888" fill-opacity="0.38"/><circle cx="55.71" cy="55.93" r="0.43" fill="#888" fill-opacity="0.29"/><circle cx="47.70" cy="48.64" r="0.38" fill="#888" fill-opacity="0.33"/><circle cx="52.56" cy="48.02" r="0.34" fill="#888" fill-opacity="0.49"/><circle cx="40.18" cy="57.89" r="0.39" fill="#888" fill-opacity="0.42"/><circle cx="48.92" cy="55.01" r="0.44" fill="#888" fill-opacity="0.28"/><circle cx="51.26" cy="58.03" r="0.40" fill="#888" fill-opacity="0.34"/><circle cx="40.27" cy="59.96" r="0.31" fill="#888" fill-opacity="0.43"/><circle cx="55.79" cy="59.98" r="0.33" fill="#888" fill-opacity="0.46"/><circle cx="46.17" cy="51.76" r="0.36" fill="#888" fill-opacity="0.40"/><circle cx="50.97" cy="55.95" r="0.33" fill="#888" fill-opacity="0.42"/><circle cx="45.19" cy="56.92" r="0.25" fill="#888" fill-opacity="0.24"/><circle cx="53.88" cy="49.88" r="0.33" fill="#888" fill-opacity="0.22"/><circle cx="52.24" cy="51.91" r="0.26" fill="#888" fill-opacity="0.28"/><circle cx="54.89" cy="59.60" r="0.25" fill="#888" fill-opacity="0.49"/><circle cx="41.16" cy="54.72" r="0.36" fill="#888" fill-opacity="0.43"/><circle cx="42.26" cy="60.85" r="0.30" fill="#888" fill-opacity="0.42"/><circle cx="54.83" cy="56.62" r="0.25" fill="#888" fill-opacity="0.40"/><circle cx="46.96" cy="59.15" r="0.41" fill="#888" fill-opacity="0.23"/><circle cx="49.09" cy="57.58" r="0.44" fill="#888" fill-opacity="0.38"/><circle cx="49.84" cy="59.84" r="0.28" fill="#888" fill-opacity="0.46"/><circle cx="49.30" cy="57.45" r="0.28" fill="#888" fill-opacity="0.36"/><circle cx="46.55" cy="49.70" r="0.44" fill="#888" fill-opacity="0.45"/><circle cx="47.34" cy="47.35" r="0.45" fill="#888" fill-opacity="0.24"/><circle cx="48.11" cy="56.17" r="0.42" fill="#888" fill-opacity="0.40"/><circle cx="49.66" cy="55.23" r="0.45" fill="#888" fill-opacity="0.45"/><circle cx="45.70" cy="60.31" r="0.44" fill="#888" fill-opacity="0.35"/><circle cx="41.36" cy="47.21" r="0.44" fill="#888" fill-opacity="0.26"/><circle cx="52.87" cy="49.48" r="0.29" fill="#888" fill-opacity="0.25"/><circle cx="53.05" cy="47.65" r="0.34" fill="#888" fill-opacity="0.44"/><circle cx="48.43" cy="46.17" r="0.25" fill="#888" fill-opacity="0.45"/><circle cx="44.80" cy="47.50" r="0.36" fill="#888" fill-opacity="0.44"/><circle cx="44.85" cy="48.41" r="0.29" fill="#888" fill-opacity="0.34"/><circle cx="52.48" cy="47.49" r="0.40" fill="#888" fill-opacity="0.40"/><circle cx="48.93" cy="52.89" r="0.26" fill="#888" fill-opacity="0.35"/><circle cx="46.59" cy="58.22" r="0.26" fill="#888" fill-opacity="0.25"/><circle cx="40.30" cy="54.76" r="0.26" fill="#888" fill-opacity="0.36"/><circle cx="46.99" cy="51.95" r="0.29" fill="#888" fill-opacity="0.48"/><circle cx="47.69" cy="47.84" r="0.37" fill="#888" fill-opacity="0.43"/><circle cx="47.81" cy="62.04" r="0.42" fill="#888" fill-opacity="0.40"/><circle cx="40.42" cy="53.24" r="0.35" fill="#888" fill-opacity="0.25"/><circle cx="48.00" cy="58.03" r="0.40" fill="#888" fill-opacity="0.43"/><circle cx="51.96" cy="51.40" r="0.37" fill="#888" fill-opacity="0.35"/><circle cx="52.13" cy="48.19" r="0.29" fill="#888" fill-opacity="0.42"/><circle cx="51.58" cy="50.13" r="0.40" fill="#888" fill-opacity="0.43"/><circle cx="50.35" cy="54.31" r="0.26" fill="#888" fill-opacity="0.27"/><circle cx="52.25" cy="62.77" r="0.28" fill="#888" fill-opacity="0.21"/><circle cx="45.59" cy="62.93" r="0.29" fill="#888" fill-opacity="0.48"/><circle cx="52.55" cy="61.12" r="0.45" fill="#888" fill-opacity="0.40"/><circle cx="43.16" cy="53.80" r="0.33" fill="#888" fill-opacity="0.40"/><circle cx="45.65" cy="59.16" r="0.26" fill="#888" fill-opacity="0.27"/><circle cx="43.55" cy="49.07" r="0.40" fill="#888" fill-opacity="0.46"/><circle cx="41.51" cy="54.58" r="0.25" fill="#888" fill-opacity="0.27"/><circle cx="42.31" cy="58.46" r="0.42" fill="#888" fill-opacity="0.45"/><circle cx="44.40" cy="53.37" r="0.30" fill="#888" fill-opacity="0.40"/><circle cx="43.66" cy="59.80" r="0.34" fill="#888" fill-opacity="0.37"/><circle cx="53.95" cy="62.63" r="0.30" fill="#888" fill-opacity="0.42"/><circle cx="44.37" cy="46.19" r="0.42" fill="#888" fill-opacity="0.26"/><circle cx="44.50" cy="58.93" r="0.42" fill="#888" fill-opacity="0.32"/><circle cx="51.46" cy="53.13" r="0.25" fill="#888" fill-opacity="0.37"/><circle cx="42.76" cy="49.78" r="0.33" fill="#888" fill-opacity="0.39"/><circle cx="43.52" cy="49.94" r="0.36" fill="#888" fill-opacity="0.28"/><circle cx="48.97" cy="58.13" r="0.31" fill="#888" fill-opacity="0.47"/><circle cx="55.48" cy="46.71" r="0.26" fill="#888" fill-opacity="0.23"/><circle cx="47.86" cy="51.42" r="0.40" fill="#888" fill-opacity="0.50"/><circle cx="47.25" cy="50.93" r="0.29" fill="#888" fill-opacity="0.47"/><circle cx="53.04" cy="61.82" r="0.45" fill="#888" fill-opacity="0.34"/><circle cx="51.95" cy="52.05" r="0.28" fill="#888" fill-opacity="0.41"/><circle cx="45.93" cy="55.71" r="0.36" fill="#888" fill-opacity="0.27"/><circle cx="40.35" cy="59.39" r="0.40" fill="#888" fill-opacity="0.43"/>
<circle cx="55.65" cy="111.09" r="0.40" fill="#888" fill-opacity="0.35"/><circle cx="55.07" cy="118.14" r="0.43" fill="#888" fill-opacity="0.25"/><circle cx="55.92" cy="118.26" r="0.29" fill="#888" fill-opacity="0.30"/><circle cx="50.09" cy="110.68" r="0.33" fill="#888" fill-opacity="0.20"/><circle cx="41.11" cy="113.41" r="0.30" fill="#888" fill-opacity="0.28"/><circle cx="52.45" cy="118.32" r="0.42" fill="#888" fill-opacity="0.47"/><circle cx="54.32" cy="128.95" r="0.37" fill="#888" fill-opacity="0.40"/><circle cx="54.10" cy="120.87" r="0.28" fill="#888" fill-opacity="0.36"/><circle cx="48.48" cy="113.59" r="0.27" fill="#888" fill-opacity="0.26"/><circle cx="51.16" cy="126.25" r="0.38" fill="#888" fill-opacity="0.33"/><circle cx="40.46" cy="110.09" r="0.38" fill="#888" fill-opacity="0.36"/><circle cx="47.31" cy="113.43" r="0.27" fill="#888" fill-opacity="0.25"/><circle cx="42.06" cy="121.99" r="0.31" fill="#888" fill-opacity="0.37"/><circle cx="46.87" cy="120.96" r="0.40" fill="#888" fill-opacity="0.43"/><circle cx="42.40" cy="129.19" r="0.42" fill="#888" fill-opacity="0.45"/><circle cx="47.25" cy="129.04" r="0.41" fill="#888" fill-opacity="0.27"/><circle cx="50.99" cy="126.98" r="0.40" fill="#888" fill-opacity="0.47"/><circle cx="48.47" cy="123.42" r="0.27" fill="#888" fill-opacity="0.40"/><circle cx="42.34" cy="124.48" r="0.43" fill="#888" fill-opacity="0.31"/><circle cx="41.12" cy="110.87" r="0.35" fill="#888" fill-opacity="0.25"/><circle cx="51.83" cy="122.19" r="0.35" fill="#888" fill-opacity="0.40"/><circle cx="42.41" cy="119.17" r="0.26" fill="#888" fill-opacity="0.36"/><circle cx="52.70" cy="113.08" r="0.39" fill="#888" fill-opacity="0.50"/><circle cx="45.18" cy="114.17" r="0.30" fill="#888" fill-opacity="0.45"/><circle cx="41.29" cy="125.52" r="0.30" fill="#888" fill-opacity="0.43"/><circle cx="54.19" cy="126.95" r="0.29" fill="#888" fill-opacity="0.36"/><circle cx="45.07" cy="127.50" r="0.31" fill="#888" fill-opacity="0.25"/><circle cx="46.50" cy="111.73" r="0.29" fill="#888" fill-opacity="0.41"/><circle cx="45.23" cy="113.69" r="0.44" fill="#888" fill-opacity="0.28"/><circle cx="52.73" cy="123.68" r="0.36" fill="#888" fill-opacity="0.39"/><circle cx="49.29" cy="126.83" r="0.39" fill="#888" fill-opacity="0.28"/><circle cx="50.49" cy="120.15" r="0.43" fill="#888" fill-opacity="0.23"/><circle cx="47.23" cy="129.34" r="0.26" fill="#888" fill-opacity="0.42"/><circle cx="54.40" cy="122.18" r="0.26" fill="#888" fill-opacity="0.43"/><circle cx="44.21" cy="120.37" r="0.41" fill="#888" fill-opacity="0.29"/><circle cx="43.91" cy="112.33" r="0.32" fill="#888" fill-opacity="0.23"/><circle cx="51.11" cy="126.60" r="0.26" fill="#888" fill-opacity="0.36"/><circle cx="52.67" cy="125.56" r="0.30" fill="#888" fill-opacity="0.36"/><circle cx="50.92" cy="120.41" r="0.45" fill="#888" fill-opacity="0.47"/><circle cx="55.45" cy="112.50" r="0.25" fill="#888" fill-opacity="0.38"/><circle cx="49.26" cy="115.31" r="0.30" fill="#888" fill-opacity="0.44"/><circle cx="52.74" cy="110.27" r="0.27" fill="#888" fill-opacity="0.42"/><circle cx="46.76" cy="113.08" r="0.44" fill="#888" fill-opacity="0.30"/><circle cx="41.24" cy="118.23" r="0.33" fill="#888" fill-opacity="0.39"/><circle cx="52.25" cy="111.64" r="0.34" fill="#888" fill-opacity="0.47"/><circle cx="47.78" cy="127.76" r="0.43" fill="#888" fill-opacity="0.44"/><circle cx="50.42" cy="112.20" r="0.45" fill="#888" fill-opacity="0.29"/><circle cx="44.90" cy="120.08" r="0.36" fill="#888" fill-opacity="0.43"/><circle cx="48.63" cy="128.43" r="0.41" fill="#888" fill-opacity="0.39"/><circle cx="44.40" cy="122.73" r="0.35" fill="#888" fill-opacity="0.43"/><circle cx="44.39" cy="125.85" r="0.39" fill="#888" fill-opacity="0.25"/><circle cx="55.01" cy="119.70" r="0.34" fill="#888" fill-opacity="0.30"/><circle cx="46.19" cy="126.02" r="0.43" fill="#888" fill-opacity="0.34"/><circle cx="48.51" cy="119.38" r="0.27" fill="#888" fill-opacity="0.47"/><circle cx="46.72" cy="110.53" r="0.30" fill="#888" fill-opacity="0.29"/><circle cx="52.57" cy="113.56" r="0.28" fill="#888" fill-opacity="0.47"/><circle cx="44.89" cy="128.62" r="0.25" fill="#888" fill-opacity="0.23"/><circle cx="43.36" cy="117.81" r="0.36" fill="#888" fill-opacity="0.30"/><circle cx="55.42" cy="128.88" r="0.36" fill="#888" fill-opacity="0.50"/><circle cx="53.79" cy="129.51" r="0.37" fill="#888" fill-opacity="0.23"/><circle cx="49.07" cy="110.98" r="0.33" fill="#888" fill-opacity="0.50"/><circle cx="46.32" cy="123.71" r="0.44" fill="#888" fill-opacity="0.41"/><circle cx="46.12" cy="120.26" r="0.27" fill="#888" fill-opacity="0.43"/><circle cx="50.37" cy="116.48" r="0.34" fill="#888" fill-opacity="0.46"/><circle cx="40.78" cy="114.39" r="0.38" fill="#888" fill-opacity="0.44"/><circle cx="48.66" cy="122.61" r="0.25" fill="#888" fill-opacity="0.37"/><circle cx="48.88" cy="111.47" r="0.36" fill="#888" fill-opacity="0.28"/><circle cx="45.52" cy="125.82" r="0.42" fill="#888" fill-opacity="0.20"/><circle cx="41.38" cy="122.72" r="0.43" fill="#888" fill-opacity="0.39"/><circle cx="45.46" cy="124.90" r="0.43" fill="#888" fill-opacity="0.22"/><circle cx="40.58" cy="118.75" r="0.39" fill="#888" fill-opacity="0.36"/><circle cx="47.64" cy="113.17" r="0.28" fill="#888" fill-opacity="0.21"/><circle cx="47.45" cy="115.26" r="0.37" fill="#888" fill-opacity="0.34"/><circle cx="45.13" cy="125.27" r="0.32" fill="#888" fill-opacity="0.34"/><circle cx="47.30" cy="124.00" r="0.45" fill="#888" fill-opacity="0.42"/><circle cx="40.01" cy="125.03" r="0.35" fill="#888" fill-opacity="0.39"/><circle cx="40.52" cy="110.30" r="0.25" fill="#888" fill-opacity="0.24"/><circle cx="41.82" cy="124.20" r="0.40" fill="#888" fill-opacity="0.32"/><circle cx="43.45" cy="118.77" r="0.27" fill="#888" fill-opacity="0.27"/><circle cx="47.12" cy="127.91" r="0.40" fill="#888" fill-opacity="0.23"/><circle cx="52.77" cy="129.58" r="0.43" fill="#888" fill-opacity="0.25"/><circle cx="49.38" cy="128.92" r="0.30" fill="#888" fill-opacity="0.37"/><circle cx="50.09" cy="129.20" r="0.42" fill="#888" fill-opacity="0.34"/><circle cx="49.47" cy="114.08" r="0.41" fill="#888" fill-opacity="0.27"/><circle cx="50.62" cy="112.84" r="0.40" fill="#888" fill-opacity="0.44"/><circle cx="41.75" cy="118.13" r="0.28" fill="#888" fill-opacity="0.36"/><circle cx="43.76" cy="128.68" r="0.42" fill="#888" fill-opacity="0.22"/><circle cx="43.91" cy="115.32" r="0.28" fill="#888" fill-opacity="0.37"/><circle cx="51.54" cy="119.83" r="0.35" fill="#888" fill-opacity="0.25"/><circle cx="47.31" cy="126.88" r="0.27" fill="#888" fill-opacity="0.27"/>
<path d="M53,111.5 Q54,119 52.8,128.5" stroke="#555" stroke-opacity="0.6" stroke-width="0.9" fill="none"/>
<path d="M44.5,112 Q43.5,120 45,128.5" stroke="#888" stroke-opacity="0.4" stroke-width="0.7" fill="none"/>
<ellipse cx="53.8" cy="117.3" rx="0.9" ry="1.6" fill="#222"/>
<rect x="38.2" y="29.6" width="35.3" height="12.8" fill="none" stroke="#000" stroke-width="1.25"/>
<g filter="url(#bl1)">
<ellipse cx="47.8" cy="102.0" rx="8.0" ry="3.8" fill="#777" fill-opacity="0.5"/>
<ellipse cx="48.5" cy="102.8" rx="4.6" ry="2.8" fill="#222" fill-opacity="0.75"/>
<ellipse cx="61" cy="100.5" rx="7" ry="3" fill="#bbb" fill-opacity="0.45"/>
<ellipse cx="49" cy="107" rx="3.5" ry="1.6" fill="#444" fill-opacity="0.5"/>
</g>
<circle cx="50.55" cy="102.14" r="0.26" fill="#000" fill-opacity="0.90"/><circle cx="48.98" cy="103.66" r="0.41" fill="#000" fill-opacity="0.51"/><circle cx="50.68" cy="101.34" r="0.49" fill="#000" fill-opacity="0.49"/><circle cx="39.04" cy="99.06" r="0.42" fill="#000" fill-opacity="0.85"/><circle cx="47.61" cy="101.74" r="0.47" fill="#000" fill-opacity="0.65"/><circle cx="46.84" cy="104.01" r="0.46" fill="#000" fill-opacity="0.65"/><circle cx="55.66" cy="100.86" r="0.49" fill="#000" fill-opacity="0.64"/><circle cx="45.89" cy="99.24" r="0.31" fill="#000" fill-opacity="0.87"/><circle cx="54.68" cy="101.48" r="0.29" fill="#000" fill-opacity="0.80"/><circle cx="46.48" cy="101.11" r="0.26" fill="#000" fill-opacity="0.62"/><circle cx="58.70" cy="103.65" r="0.38" fill="#000" fill-opacity="0.61"/><circle cx="42.05" cy="104.48" r="0.48" fill="#000" fill-opacity="0.48"/><circle cx="43.55" cy="104.85" r="0.32" fill="#000" fill-opacity="0.66"/><circle cx="43.07" cy="101.79" r="0.42" fill="#000" fill-opacity="0.62"/><circle cx="44.85" cy="104.59" r="0.35" fill="#000" fill-opacity="0.86"/><circle cx="53.49" cy="101.61" r="0.35" fill="#000" fill-opacity="0.36"/><circle cx="50.33" cy="101.56" r="0.39" fill="#000" fill-opacity="0.51"/><circle cx="45.87" cy="104.57" r="0.30" fill="#000" fill-opacity="0.32"/><circle cx="39.65" cy="101.52" r="0.41" fill="#000" fill-opacity="0.42"/><circle cx="47.46" cy="101.73" r="0.35" fill="#000" fill-opacity="0.80"/><circle cx="52.69" cy="101.18" r="0.46" fill="#000" fill-opacity="0.60"/><circle cx="41.71" cy="102.00" r="0.50" fill="#000" fill-opacity="0.75"/><circle cx="40.37" cy="103.18" r="0.41" fill="#000" fill-opacity="0.51"/><circle cx="49.89" cy="97.98" r="0.40" fill="#000" fill-opacity="0.87"/><circle cx="53.61" cy="102.84" r="0.41" fill="#000" fill-opacity="0.50"/><circle cx="51.49" cy="105.88" r="0.36" fill="#000" fill-opacity="0.46"/><circle cx="60.11" cy="104.20" r="0.34" fill="#000" fill-opacity="0.37"/><circle cx="48.77" cy="104.38" r="0.47" fill="#000" fill-opacity="0.41"/><circle cx="47.64" cy="103.62" r="0.37" fill="#000" fill-opacity="0.42"/><circle cx="43.64" cy="105.88" r="0.48" fill="#000" fill-opacity="0.80"/><circle cx="52.54" cy="103.08" r="0.46" fill="#000" fill-opacity="0.32"/><circle cx="49.61" cy="105.28" r="0.35" fill="#000" fill-opacity="0.75"/><circle cx="46.93" cy="99.76" r="0.31" fill="#000" fill-opacity="0.44"/><circle cx="47.82" cy="103.41" r="0.42" fill="#000" fill-opacity="0.39"/><circle cx="53.31" cy="100.19" r="0.26" fill="#000" fill-opacity="0.60"/><circle cx="46.88" cy="102.05" r="0.37" fill="#000" fill-opacity="0.32"/><circle cx="48.04" cy="102.28" r="0.41" fill="#000" fill-opacity="0.89"/><circle cx="49.99" cy="101.00" r="0.38" fill="#000" fill-opacity="0.38"/><circle cx="48.27" cy="102.19" r="0.34" fill="#000" fill-opacity="0.68"/><circle cx="52.76" cy="100.53" r="0.34" fill="#000" fill-opacity="0.81"/><circle cx="44.91" cy="102.37" r="0.32" fill="#000" fill-opacity="0.40"/><circle cx="51.03" cy="99.97" r="0.42" fill="#000" fill-opacity="0.79"/><circle cx="51.08" cy="102.23" r="0.35" fill="#000" fill-opacity="0.82"/><circle cx="48.35" cy="100.03" r="0.41" fill="#000" fill-opacity="0.42"/><circle cx="48.81" cy="103.18" r="0.34" fill="#000" fill-opacity="0.44"/><circle cx="51.51" cy="105.12" r="0.47" fill="#000" fill-opacity="0.66"/><circle cx="39.92" cy="101.77" r="0.26" fill="#000" fill-opacity="0.87"/><circle cx="44.62" cy="98.32" r="0.46" fill="#000" fill-opacity="0.36"/><circle cx="50.75" cy="103.14" r="0.38" fill="#000" fill-opacity="0.86"/><circle cx="52.16" cy="101.11" r="0.41" fill="#000" fill-opacity="0.74"/><circle cx="55.22" cy="101.06" r="0.48" fill="#000" fill-opacity="0.78"/><circle cx="45.56" cy="100.70" r="0.32" fill="#000" fill-opacity="0.44"/><circle cx="58.25" cy="104.51" r="0.32" fill="#000" fill-opacity="0.31"/><circle cx="47.10" cy="103.57" r="0.36" fill="#000" fill-opacity="0.50"/><circle cx="50.47" cy="105.04" r="0.35" fill="#000" fill-opacity="0.51"/><circle cx="49.59" cy="100.53" r="0.39" fill="#000" fill-opacity="0.83"/><circle cx="52.50" cy="101.88" r="0.26" fill="#000" fill-opacity="0.87"/><circle cx="44.65" cy="102.34" r="0.28" fill="#000" fill-opacity="0.44"/><circle cx="47.03" cy="103.77" r="0.26" fill="#000" fill-opacity="0.90"/><circle cx="49.01" cy="101.39" r="0.37" fill="#000" fill-opacity="0.78"/><circle cx="46.18" cy="102.47" r="0.33" fill="#000" fill-opacity="0.53"/><circle cx="53.45" cy="100.81" r="0.36" fill="#000" fill-opacity="0.68"/><circle cx="54.97" cy="103.65" r="0.45" fill="#000" fill-opacity="0.70"/><circle cx="45.47" cy="104.07" r="0.25" fill="#000" fill-opacity="0.35"/><circle cx="50.98" cy="104.77" r="0.44" fill="#000" fill-opacity="0.43"/><circle cx="41.28" cy="103.11" r="0.41" fill="#000" fill-opacity="0.31"/><circle cx="53.59" cy="100.91" r="0.33" fill="#000" fill-opacity="0.44"/><circle cx="43.83" cy="97.11" r="0.33" fill="#000" fill-opacity="0.54"/><circle cx="45.21" cy="101.96" r="0.35" fill="#000" fill-opacity="0.85"/><circle cx="39.62" cy="100.89" r="0.32" fill="#000" fill-opacity="0.82"/><circle cx="48.70" cy="100.75" r="0.38" fill="#000" fill-opacity="0.71"/><circle cx="42.16" cy="101.00" r="0.31" fill="#000" fill-opacity="0.63"/><circle cx="44.98" cy="101.63" r="0.35" fill="#000" fill-opacity="0.38"/><circle cx="47.87" cy="101.74" r="0.40" fill="#000" fill-opacity="0.48"/><circle cx="48.42" cy="101.22" r="0.42" fill="#000" fill-opacity="0.73"/><circle cx="48.27" cy="103.81" r="0.34" fill="#000" fill-opacity="0.69"/><circle cx="47.96" cy="102.83" r="0.36" fill="#000" fill-opacity="0.79"/><circle cx="45.16" cy="102.42" r="0.28" fill="#000" fill-opacity="0.52"/><circle cx="45.05" cy="102.73" r="0.27" fill="#000" fill-opacity="0.60"/><circle cx="47.87" cy="105.21" r="0.36" fill="#000" fill-opacity="0.72"/><circle cx="44.95" cy="101.66" r="0.29" fill="#000" fill-opacity="0.82"/><circle cx="50.34" cy="102.90" r="0.27" fill="#000" fill-opacity="0.80"/><circle cx="44.96" cy="100.89" r="0.36" fill="#000" fill-opacity="0.74"/><circle cx="46.82" cy="102.90" r="0.34" fill="#000" fill-opacity="0.64"/><circle cx="53.14" cy="101.16" r="0.48" fill="#000" fill-opacity="0.71"/><circle cx="45.26" cy="102.15" r="0.49" fill="#000" fill-opacity="0.85"/><circle cx="43.48" cy="103.23" r="0.27" fill="#000" fill-opacity="0.67"/><circle cx="50.92" cy="100.54" r="0.32" fill="#000" fill-opacity="0.67"/><circle cx="48.79" cy="101.03" r="0.32" fill="#000" fill-opacity="0.69"/><circle cx="56.55" cy="103.68" r="0.33" fill="#000" fill-opacity="0.80"/><circle cx="45.23" cy="102.92" r="0.25" fill="#000" fill-opacity="0.37"/><circle cx="49.85" cy="99.10" r="0.33" fill="#000" fill-opacity="0.70"/><circle cx="47.50" cy="100.12" r="0.27" fill="#000" fill-opacity="0.58"/><circle cx="48.54" cy="104.09" r="0.35" fill="#000" fill-opacity="0.34"/><circle cx="51.12" cy="101.29" r="0.47" fill="#000" fill-opacity="0.74"/><circle cx="58.26" cy="102.86" r="0.45" fill="#000" fill-opacity="0.62"/><circle cx="52.09" cy="100.60" r="0.26" fill="#000" fill-opacity="0.39"/><circle cx="49.15" cy="101.40" r="0.34" fill="#000" fill-opacity="0.37"/><circle cx="48.60" cy="104.81" r="0.35" fill="#000" fill-opacity="0.39"/><circle cx="46.04" cy="100.94" r="0.47" fill="#000" fill-opacity="0.59"/><circle cx="40.61" cy="104.32" r="0.34" fill="#000" fill-opacity="0.45"/><circle cx="50.88" cy="103.95" r="0.31" fill="#000" fill-opacity="0.74"/><circle cx="43.39" cy="105.60" r="0.32" fill="#000" fill-opacity="0.34"/><circle cx="46.38" cy="104.85" r="0.48" fill="#000" fill-opacity="0.42"/><circle cx="48.67" cy="103.91" r="0.31" fill="#000" fill-opacity="0.88"/><circle cx="51.14" cy="101.75" r="0.26" fill="#000" fill-opacity="0.59"/><circle cx="45.99" cy="101.88" r="0.35" fill="#000" fill-opacity="0.76"/><circle cx="55.64" cy="102.53" r="0.42" fill="#000" fill-opacity="0.77"/><circle cx="42.66" cy="102.73" r="0.38" fill="#000" fill-opacity="0.38"/><circle cx="44.46" cy="102.34" r="0.33" fill="#000" fill-opacity="0.33"/><circle cx="48.88" cy="103.21" r="0.39" fill="#000" fill-opacity="0.44"/><circle cx="42.66" cy="101.49" r="0.31" fill="#000" fill-opacity="0.38"/><circle cx="42.06" cy="100.37" r="0.42" fill="#000" fill-opacity="0.60"/><circle cx="47.06" cy="102.23" r="0.33" fill="#000" fill-opacity="0.78"/><circle cx="46.39" cy="103.32" r="0.36" fill="#000" fill-opacity="0.80"/><circle cx="49.91" cy="103.20" r="0.37" fill="#000" fill-opacity="0.82"/><circle cx="45.20" cy="103.70" r="0.44" fill="#000" fill-opacity="0.36"/><circle cx="46.18" cy="105.74" r="0.46" fill="#000" fill-opacity="0.82"/><circle cx="46.27" cy="104.25" r="0.34" fill="#000" fill-opacity="0.37"/><circle cx="51.78" cy="102.24" r="0.27" fill="#000" fill-opacity="0.74"/><circle cx="56.34" cy="101.56" r="0.35" fill="#000" fill-opacity="0.75"/><circle cx="48.52" cy="98.38" r="0.37" fill="#000" fill-opacity="0.90"/><circle cx="48.68" cy="100.70" r="0.36" fill="#000" fill-opacity="0.35"/><circle cx="41.75" cy="105.77" r="0.37" fill="#000" fill-opacity="0.61"/><circle cx="48.37" cy="101.45" r="0.34" fill="#000" fill-opacity="0.59"/><circle cx="40.71" cy="102.65" r="0.48" fill="#000" fill-opacity="0.78"/><circle cx="41.01" cy="101.43" r="0.38" fill="#000" fill-opacity="0.89"/><circle cx="42.70" cy="100.59" r="0.35" fill="#000" fill-opacity="0.55"/><circle cx="48.41" cy="100.09" r="0.48" fill="#000" fill-opacity="0.74"/><circle cx="55.22" cy="101.41" r="0.39" fill="#000" fill-opacity="0.52"/><circle cx="55.02" cy="102.92" r="0.44" fill="#000" fill-opacity="0.73"/><circle cx="48.07" cy="101.83" r="0.42" fill="#000" fill-opacity="0.47"/><circle cx="40.61" cy="105.74" r="0.35" fill="#000" fill-opacity="0.58"/><circle cx="50.88" cy="103.00" r="0.30" fill="#000" fill-opacity="0.43"/><circle cx="46.52" cy="102.39" r="0.27" fill="#000" fill-opacity="0.35"/><circle cx="46.68" cy="95.90" r="0.44" fill="#000" fill-opacity="0.61"/><circle cx="53.73" cy="105.70" r="0.28" fill="#000" fill-opacity="0.35"/><circle cx="47.32" cy="97.51" r="0.50" fill="#000" fill-opacity="0.79"/><circle cx="49.92" cy="105.34" r="0.39" fill="#000" fill-opacity="0.73"/><circle cx="48.80" cy="105.75" r="0.32" fill="#000" fill-opacity="0.41"/><circle cx="39.77" cy="103.90" r="0.39" fill="#000" fill-opacity="0.51"/><circle cx="48.69" cy="104.83" r="0.35" fill="#000" fill-opacity="0.46"/><circle cx="46.71" cy="104.16" r="0.32" fill="#000" fill-opacity="0.70"/><circle cx="43.24" cy="100.02" r="0.48" fill="#000" fill-opacity="0.70"/><circle cx="51.34" cy="104.35" r="0.38" fill="#000" fill-opacity="0.75"/><circle cx="45.92" cy="102.29" r="0.37" fill="#000" fill-opacity="0.69"/><circle cx="49.15" cy="99.85" r="0.30" fill="#000" fill-opacity="0.32"/><circle cx="40.01" cy="102.42" r="0.28" fill="#000" fill-opacity="0.61"/><circle cx="42.95" cy="100.67" r="0.31" fill="#000" fill-opacity="0.36"/><circle cx="52.06" cy="102.79" r="0.47" fill="#000" fill-opacity="0.55"/><circle cx="56.92" cy="102.12" r="0.40" fill="#000" fill-opacity="0.56"/><circle cx="39.51" cy="100.67" r="0.33" fill="#000" fill-opacity="0.39"/><circle cx="53.45" cy="100.40" r="0.34" fill="#000" fill-opacity="0.54"/><circle cx="53.00" cy="104.42" r="0.45" fill="#000" fill-opacity="0.60"/><circle cx="45.45" cy="98.63" r="0.33" fill="#000" fill-opacity="0.68"/><circle cx="55.49" cy="101.81" r="0.30" fill="#000" fill-opacity="0.70"/><circle cx="42.90" cy="99.09" r="0.43" fill="#000" fill-opacity="0.85"/><circle cx="51.25" cy="102.24" r="0.37" fill="#000" fill-opacity="0.33"/><circle cx="50.27" cy="102.40" r="0.36" fill="#000" fill-opacity="0.67"/><circle cx="45.34" cy="103.16" r="0.38" fill="#000" fill-opacity="0.43"/><circle cx="40.41" cy="102.75" r="0.32" fill="#000" fill-opacity="0.57"/><circle cx="44.00" cy="100.23" r="0.45" fill="#000" fill-opacity="0.83"/><circle cx="50.82" cy="102.19" r="0.37" fill="#000" fill-opacity="0.37"/><circle cx="46.46" cy="100.12" r="0.46" fill="#000" fill-opacity="0.59"/><circle cx="48.36" cy="101.90" r="0.40" fill="#000" fill-opacity="0.55"/><circle cx="49.11" cy="101.49" r="0.27" fill="#000" fill-opacity="0.71"/><circle cx="45.64" cy="104.87" r="0.35" fill="#000" fill-opacity="0.89"/><circle cx="41.53" cy="99.18" r="0.46" fill="#000" fill-opacity="0.81"/><circle cx="44.24" cy="103.17" r="0.38" fill="#000" fill-opacity="0.84"/><circle cx="52.07" cy="100.59" r="0.48" fill="#000" fill-opacity="0.76"/><circle cx="54.58" cy="103.39" r="0.45" fill="#000" fill-opacity="0.33"/><circle cx="43.04" cy="105.00" r="0.38" fill="#000" fill-opacity="0.62"/><circle cx="51.15" cy="103.54" r="0.47" fill="#000" fill-opacity="0.51"/><circle cx="41.64" cy="102.94" r="0.32" fill="#000" fill-opacity="0.55"/><circle cx="49.64" cy="101.20" r="0.38" fill="#000" fill-opacity="0.75"/><circle cx="52.70" cy="100.64" r="0.41" fill="#000" fill-opacity="0.69"/><circle cx="42.97" cy="97.90" r="0.50" fill="#000" fill-opacity="0.89"/><circle cx="53.41" cy="105.30" r="0.35" fill="#000" fill-opacity="0.47"/><circle cx="56.54" cy="105.72" r="0.47" fill="#000" fill-opacity="0.62"/><circle cx="44.75" cy="102.53" r="0.48" fill="#000" fill-opacity="0.75"/><circle cx="51.12" cy="105.33" r="0.50" fill="#000" fill-opacity="0.46"/>
<circle cx="68.80" cy="104.49" r="0.43" fill="#666" fill-opacity="0.23"/><circle cx="63.47" cy="99.24" r="0.36" fill="#666" fill-opacity="0.24"/><circle cx="57.07" cy="99.45" r="0.29" fill="#666" fill-opacity="0.34"/><circle cx="54.40" cy="95.86" r="0.39" fill="#666" fill-opacity="0.33"/><circle cx="62.20" cy="102.34" r="0.32" fill="#666" fill-opacity="0.22"/><circle cx="66.53" cy="100.89" r="0.38" fill="#666" fill-opacity="0.39"/><circle cx="69.53" cy="98.63" r="0.40" fill="#666" fill-opacity="0.31"/><circle cx="63.15" cy="101.61" r="0.31" fill="#666" fill-opacity="0.23"/><circle cx="61.59" cy="102.18" r="0.37" fill="#666" fill-opacity="0.33"/><circle cx="64.28" cy="96.82" r="0.29" fill="#666" fill-opacity="0.30"/><circle cx="67.05" cy="96.96" r="0.27" fill="#666" fill-opacity="0.23"/><circle cx="54.62" cy="97.76" r="0.36" fill="#666" fill-opacity="0.45"/><circle cx="59.29" cy="98.70" r="0.31" fill="#666" fill-opacity="0.29"/><circle cx="66.44" cy="100.49" r="0.30" fill="#666" fill-opacity="0.23"/><circle cx="66.54" cy="102.07" r="0.42" fill="#666" fill-opacity="0.27"/><circle cx="62.73" cy="104.19" r="0.37" fill="#666" fill-opacity="0.48"/><circle cx="56.68" cy="104.75" r="0.26" fill="#666" fill-opacity="0.32"/><circle cx="54.37" cy="103.10" r="0.39" fill="#666" fill-opacity="0.49"/><circle cx="66.88" cy="104.49" r="0.36" fill="#666" fill-opacity="0.50"/><circle cx="65.98" cy="98.46" r="0.44" fill="#666" fill-opacity="0.31"/><circle cx="57.09" cy="95.76" r="0.34" fill="#666" fill-opacity="0.26"/><circle cx="68.94" cy="104.50" r="0.29" fill="#666" fill-opacity="0.23"/><circle cx="62.46" cy="96.70" r="0.36" fill="#666" fill-opacity="0.44"/><circle cx="58.05" cy="99.22" r="0.43" fill="#666" fill-opacity="0.33"/><circle cx="59.48" cy="103.92" r="0.41" fill="#666" fill-opacity="0.47"/><circle cx="65.00" cy="99.13" r="0.39" fill="#666" fill-opacity="0.45"/><circle cx="64.23" cy="97.38" r="0.31" fill="#666" fill-opacity="0.32"/><circle cx="66.35" cy="100.57" r="0.36" fill="#666" fill-opacity="0.45"/><circle cx="55.74" cy="101.31" r="0.32" fill="#666" fill-opacity="0.37"/><circle cx="67.37" cy="97.48" r="0.44" fill="#666" fill-opacity="0.22"/><circle cx="62.99" cy="100.42" r="0.30" fill="#666" fill-opacity="0.37"/><circle cx="61.53" cy="99.50" r="0.39" fill="#666" fill-opacity="0.20"/><circle cx="60.03" cy="102.86" r="0.28" fill="#666" fill-opacity="0.46"/><circle cx="57.26" cy="101.81" r="0.28" fill="#666" fill-opacity="0.33"/><circle cx="60.76" cy="95.82" r="0.39" fill="#666" fill-opacity="0.34"/><circle cx="65.02" cy="100.39" r="0.36" fill="#666" fill-opacity="0.36"/><circle cx="58.76" cy="103.99" r="0.27" fill="#666" fill-opacity="0.46"/><circle cx="67.82" cy="99.98" r="0.41" fill="#666" fill-opacity="0.40"/><circle cx="63.68" cy="97.92" r="0.31" fill="#666" fill-opacity="0.30"/><circle cx="58.83" cy="104.60" r="0.32" fill="#666" fill-opacity="0.32"/><circle cx="60.71" cy="103.16" r="0.35" fill="#666" fill-opacity="0.37"/><circle cx="58.09" cy="97.78" r="0.27" fill="#666" fill-opacity="0.27"/><circle cx="58.22" cy="103.52" r="0.35" fill="#666" fill-opacity="0.23"/><circle cx="61.40" cy="96.21" r="0.36" fill="#666" fill-opacity="0.33"/><circle cx="67.73" cy="97.59" r="0.42" fill="#666" fill-opacity="0.27"/><circle cx="69.72" cy="101.34" r="0.26" fill="#666" fill-opacity="0.44"/><circle cx="58.41" cy="98.62" r="0.28" fill="#666" fill-opacity="0.45"/><circle cx="55.45" cy="102.38" r="0.33" fill="#666" fill-opacity="0.40"/><circle cx="58.69" cy="95.78" r="0.43" fill="#666" fill-opacity="0.40"/><circle cx="56.71" cy="104.76" r="0.43" fill="#666" fill-opacity="0.25"/><circle cx="54.31" cy="101.11" r="0.28" fill="#666" fill-opacity="0.42"/><circle cx="61.50" cy="102.09" r="0.36" fill="#666" fill-opacity="0.43"/><circle cx="67.15" cy="101.03" r="0.37" fill="#666" fill-opacity="0.30"/><circle cx="56.15" cy="95.92" r="0.42" fill="#666" fill-opacity="0.26"/><circle cx="60.83" cy="98.17" r="0.37" fill="#666" fill-opacity="0.36"/><circle cx="67.74" cy="99.36" r="0.32" fill="#666" fill-opacity="0.40"/><circle cx="65.92" cy="104.25" r="0.31" fill="#666" fill-opacity="0.47"/><circle cx="69.70" cy="104.82" r="0.28" fill="#666" fill-opacity="0.31"/><circle cx="66.38" cy="103.31" r="0.26" fill="#666" fill-opacity="0.32"/><circle cx="65.59" cy="102.58" r="0.36" fill="#666" fill-opacity="0.26"/>
<rect x="38.2" y="93.7" width="35.3" height="12.6" fill="none" stroke="#000" stroke-width="1.25"/>
<path d="M23.4,140.7 L23.4,42.2 M19.6,48.2 L23.4,42.0 L27.2,48.2" fill="none" stroke="#000" stroke-width="1.5"/>
<path d="M22.7,140.7 L58.6,140.7 M52.6,136.9 L58.8,140.7 L52.6,144.5" fill="none" stroke="#000" stroke-width="1.5"/>
<text transform="translate(25.6,28.8) rotate(-90)" font-size="8.2" text-anchor="middle" fill="#111">CD19</text>
<text x="61.80" y="143.60" font-size="8.2" text-anchor="start" font-weight="normal" fill="#111" >CD20</text>
<rect x="411.0" y="98.2" width="8.0" height="8.0" fill="#c9c9c9" stroke="#8e8e8e" stroke-width="1"/>
<text x="421.60" y="106.40" font-size="9" text-anchor="start" font-weight="normal" fill="#111" >Naive</text>
<rect x="411.0" y="109.0" width="8.0" height="8.0" fill="#7ccfe0" stroke="#5a9cab" stroke-width="1"/>
<text x="421.60" y="117.00" font-size="9" text-anchor="start" font-weight="normal" fill="#111" >IgM Memory</text>
<rect x="411.0" y="120.10000000000001" width="8.0" height="8.0" fill="#e8332d" stroke="#a52222" stroke-width="1"/>
<text x="421.60" y="127.80" font-size="9" text-anchor="start" font-weight="normal" fill="#111" >Plasma cells</text>
<rect x="411.0" y="131.4" width="8.0" height="8.0" fill="#2c3e9e" stroke="#1d286e" stroke-width="1"/>
<text x="421.60" y="138.30" font-size="9" text-anchor="start" font-weight="normal" fill="#111" >Class switched memory</text>
<rect x="411.0" y="142.6" width="8.0" height="8.0" fill="#7a58a8" stroke="#573c82" stroke-width="1"/>
<text x="421.60" y="149.00" font-size="9" text-anchor="start" font-weight="normal" fill="#111" >CD27<tspan font-size="4.6" dy="-2.8">-</tspan><tspan dy="2.8">IgD</tspan><tspan font-size="4.6" dy="-2.8">-</tspan><tspan dy="2.8"></tspan></text>
<clipPath id="clipD"><rect x="15.8" y="166.5" width="110.2" height="110.10000000000002"/></clipPath>
<clipPath id="clipE"><rect x="280.3" y="165.8" width="109.9" height="110.2"/></clipPath>
<g clip-path="url(#clipD)">
<path d="M46.4,267.2h0.85v0.85h-0.85zM39.3,267.0h0.80v0.80h-0.80zM41.6,267.8h0.65v0.65h-0.65zM54.2,230.2h0.68v0.68h-0.68zM47.8,212.0h0.60v0.60h-0.60zM47.0,265.6h0.86v0.86h-0.86zM26.2,239.2h0.87v0.87h-0.87zM54.5,240.3h0.58v0.58h-0.58zM51.1,223.6h0.98v0.98h-0.98zM46.8,216.0h0.86v0.86h-0.86zM30.5,261.7h0.85v0.85h-0.85zM21.9,224.3h0.58v0.58h-0.58zM43.9,211.3h0.71v0.71h-0.71zM26.8,256.0h0.62v0.62h-0.62zM45.7,265.8h0.84v0.84h-0.84zM28.6,247.6h0.86v0.86h-0.86zM25.8,255.0h0.88v0.88h-0.88zM24.4,244.8h0.80v0.80h-0.80zM25.7,234.5h0.58v0.58h-0.58zM48.8,264.9h0.92v0.92h-0.92zM27.0,241.2h0.95v0.95h-0.95zM23.8,219.5h0.80v0.80h-0.80zM28.5,249.8h0.88v0.88h-0.88zM51.3,264.4h0.88v0.88h-0.88zM43.3,270.2h0.78v0.78h-0.78zM23.0,227.6h0.87v0.87h-0.87zM31.1,257.1h0.96v0.96h-0.96zM55.9,238.1h0.75v0.75h-0.75zM50.9,246.9h0.75v0.75h-0.75zM50.4,256.4h0.79v0.79h-0.79zM52.0,246.8h0.92v0.92h-0.92zM51.3,246.2h0.69v0.69h-0.69zM26.1,238.1h0.97v0.97h-0.97zM57.0,238.5h0.61v0.61h-0.61zM24.0,246.1h0.67v0.67h-0.67zM34.9,268.0h0.95v0.95h-0.95zM27.1,238.5h0.83v0.83h-0.83zM24.3,245.9h0.56v0.56h-0.56zM49.1,258.0h0.94v0.94h-0.94zM27.2,247.7h0.75v0.75h-0.75zM30.6,264.6h0.67v0.67h-0.67zM30.5,265.5h0.95v0.95h-0.95zM44.2,209.7h0.65v0.65h-0.65zM51.3,225.1h0.95v0.95h-0.95zM32.2,260.5h0.69v0.69h-0.69zM51.9,235.7h0.79v0.79h-0.79zM23.8,227.9h0.84v0.84h-0.84zM28.7,249.4h0.70v0.70h-0.70zM25.2,243.2h0.62v0.62h-0.62zM51.0,237.5h0.59v0.59h-0.59zM33.6,213.1h0.79v0.79h-0.79zM27.9,242.7h0.58v0.58h-0.58zM52.5,242.5h0.90v0.90h-0.90zM42.2,211.8h0.83v0.83h-0.83zM23.0,241.0h0.98v0.98h-0.98zM59.2,236.8h0.81v0.81h-0.81zM24.3,242.5h0.90v0.90h-0.90zM48.1,264.4h0.67v0.67h-0.67zM53.3,238.5h0.92v0.92h-0.92zM25.3,248.8h0.96v0.96h-0.96zM43.4,266.8h0.79v0.79h-0.79zM26.3,243.9h0.76v0.76h-0.76zM29.5,254.6h0.58v0.58h-0.58zM52.2,251.7h0.69v0.69h-0.69zM52.5,245.3h0.65v0.65h-0.65zM52.1,229.1h0.98v0.98h-0.98zM27.0,247.4h0.59v0.59h-0.59zM26.5,242.2h0.72v0.72h-0.72zM26.1,249.3h0.57v0.57h-0.57zM44.4,268.1h0.92v0.92h-0.92zM45.2,210.1h0.73v0.73h-0.73zM46.4,267.3h0.59v0.59h-0.59zM40.6,264.9h0.55v0.55h-0.55zM27.1,219.5h0.59v0.59h-0.59zM27.8,218.7h0.81v0.81h-0.81zM37.5,208.2h0.74v0.74h-0.74zM23.7,247.7h0.92v0.92h-0.92zM28.1,244.4h0.74v0.74h-0.74zM36.1,266.6h0.59v0.59h-0.59zM25.7,235.5h0.93v0.93h-0.93zM34.3,269.0h0.57v0.57h-0.57zM22.4,238.9h0.99v0.99h-0.99zM55.0,233.2h0.86v0.86h-0.86zM26.2,238.1h0.56v0.56h-0.56zM31.0,256.5h0.81v0.81h-0.81zM52.3,251.8h0.65v0.65h-0.65zM49.1,263.3h0.86v0.86h-0.86zM31.5,261.9h0.65v0.65h-0.65zM28.6,252.7h0.65v0.65h-0.65zM31.0,257.9h0.83v0.83h-0.83zM32.5,260.9h0.74v0.74h-0.74zM27.3,239.4h0.76v0.76h-0.76zM33.6,263.2h0.89v0.89h-0.89zM23.0,237.5h0.70v0.70h-0.70zM25.6,252.0h1.00v1.00h-1.00zM30.2,257.7h0.95v0.95h-0.95zM40.3,265.5h0.79v0.79h-0.79zM32.5,261.4h0.92v0.92h-0.92zM30.2,258.8h0.59v0.59h-0.59zM47.6,212.1h0.68v0.68h-0.68zM37.1,265.7h0.57v0.57h-0.57zM23.8,235.9h0.95v0.95h-0.95zM27.4,246.7h0.65v0.65h-0.65zM24.1,251.4h0.80v0.80h-0.80zM33.7,213.3h0.84v0.84h-0.84zM24.4,237.7h0.90v0.90h-0.90zM26.2,235.2h0.79v0.79h-0.79zM50.7,245.7h0.64v0.64h-0.64zM24.1,239.1h0.72v0.72h-0.72zM54.5,269.7h0.58v0.58h-0.58zM25.2,246.2h0.75v0.75h-0.75zM26.3,237.7h0.63v0.63h-0.63zM32.1,264.1h0.79v0.79h-0.79zM21.8,228.4h0.89v0.89h-0.89zM25.3,218.8h0.90v0.90h-0.90zM27.5,259.8h0.95v0.95h-0.95zM40.9,265.4h0.74v0.74h-0.74zM24.3,240.9h0.89v0.89h-0.89zM57.6,239.3h1.00v1.00h-1.00zM23.3,246.9h0.97v0.97h-0.97zM45.2,212.2h0.77v0.77h-0.77zM30.5,214.5h0.57v0.57h-0.57zM26.5,259.2h0.82v0.82h-0.82zM47.5,263.0h0.64v0.64h-0.64zM53.7,269.5h0.65v0.65h-0.65zM38.9,266.3h0.83v0.83h-0.83zM51.6,252.4h0.58v0.58h-0.58zM25.9,254.3h0.93v0.93h-0.93zM41.7,267.8h0.86v0.86h-0.86zM54.5,240.7h0.93v0.93h-0.93zM30.7,256.1h0.82v0.82h-0.82zM25.1,249.9h0.95v0.95h-0.95zM42.9,266.5h0.94v0.94h-0.94zM30.5,255.6h0.64v0.64h-0.64zM52.8,235.7h0.65v0.65h-0.65zM25.9,240.8h0.65v0.65h-0.65zM33.4,260.7h0.79v0.79h-0.79zM54.4,225.7h0.58v0.58h-0.58zM36.8,264.8h0.80v0.80h-0.80zM24.8,231.8h0.77v0.77h-0.77zM28.2,212.1h0.64v0.64h-0.64zM56.6,249.0h0.72v0.72h-0.72zM29.0,260.0h0.71v0.71h-0.71zM45.3,211.1h0.75v0.75h-0.75zM26.8,243.9h0.64v0.64h-0.64zM26.7,257.2h0.71v0.71h-0.71zM38.4,271.2h0.67v0.67h-0.67zM25.1,251.4h0.62v0.62h-0.62zM53.2,246.2h0.91v0.91h-0.91zM23.8,242.4h0.72v0.72h-0.72zM27.9,242.8h0.75v0.75h-0.75zM60.3,236.8h0.58v0.58h-0.58zM30.7,255.7h0.85v0.85h-0.85zM21.6,226.4h0.97v0.97h-0.97zM29.8,260.8h0.90v0.90h-0.90zM56.8,240.0h0.85v0.85h-0.85zM21.9,229.4h0.91v0.91h-0.91zM53.9,259.7h0.56v0.56h-0.56zM51.9,224.9h0.97v0.97h-0.97zM53.3,235.3h0.94v0.94h-0.94zM51.5,236.9h0.87v0.87h-0.87zM42.3,210.0h0.98v0.98h-0.98zM58.1,243.3h0.65v0.65h-0.65zM40.7,208.0h0.64v0.64h-0.64zM47.1,266.9h0.95v0.95h-0.95zM33.2,213.3h0.73v0.73h-0.73zM26.2,239.9h0.94v0.94h-0.94zM56.4,232.8h0.68v0.68h-0.68zM43.0,264.8h0.97v0.97h-0.97zM53.7,264.4h0.57v0.57h-0.57zM50.6,216.3h0.63v0.63h-0.63zM24.8,239.4h0.90v0.90h-0.90zM23.8,236.2h0.57v0.57h-0.57zM27.6,240.8h1.00v1.00h-1.00zM31.9,265.6h0.68v0.68h-0.68zM34.8,262.2h0.62v0.62h-0.62zM54.0,231.6h0.75v0.75h-0.75zM36.6,264.6h0.63v0.63h-0.63zM53.0,261.4h0.67v0.67h-0.67zM32.0,210.2h0.82v0.82h-0.82zM26.6,235.3h0.77v0.77h-0.77zM52.7,255.9h0.60v0.60h-0.60zM26.0,246.1h0.77v0.77h-0.77zM24.7,251.0h0.69v0.69h-0.69zM56.9,233.5h0.87v0.87h-0.87zM55.8,255.0h0.75v0.75h-0.75zM39.3,267.9h0.57v0.57h-0.57zM38.5,266.0h0.92v0.92h-0.92zM54.7,221.6h0.82v0.82h-0.82zM38.2,269.2h0.75v0.75h-0.75zM32.0,267.0h0.58v0.58h-0.58zM51.6,251.2h1.00v1.00h-1.00zM50.8,240.2h0.93v0.93h-0.93zM57.3,241.6h0.64v0.64h-0.64zM29.2,252.1h0.76v0.76h-0.76zM24.4,252.5h0.79v0.79h-0.79zM34.5,265.7h0.98v0.98h-0.98zM31.7,259.9h0.65v0.65h-0.65zM22.1,229.6h0.59v0.59h-0.59zM32.3,265.8h0.83v0.83h-0.83zM30.6,262.1h0.59v0.59h-0.59zM40.4,271.4h0.90v0.90h-0.90zM28.5,251.7h0.97v0.97h-0.97zM52.0,229.1h0.64v0.64h-0.64zM48.5,264.1h0.66v0.66h-0.66zM39.2,268.4h0.99v0.99h-0.99zM25.2,224.6h0.60v0.60h-0.60zM28.4,249.6h0.84v0.84h-0.84zM44.4,266.8h0.75v0.75h-0.75zM55.9,239.3h0.89v0.89h-0.89zM30.4,258.7h0.57v0.57h-0.57zM30.7,266.9h0.64v0.64h-0.64zM34.5,262.0h0.84v0.84h-0.84zM35.5,262.8h0.64v0.64h-0.64zM35.6,266.3h0.94v0.94h-0.94zM54.1,265.4h0.66v0.66h-0.66zM43.1,209.2h0.56v0.56h-0.56zM50.2,257.3h0.71v0.71h-0.71zM54.7,245.2h0.81v0.81h-0.81zM28.6,264.0h0.83v0.83h-0.83zM26.4,259.1h0.92v0.92h-0.92zM37.7,211.5h0.88v0.88h-0.88zM25.8,252.1h0.86v0.86h-0.86zM53.1,257.1h0.63v0.63h-0.63zM55.0,244.3h0.66v0.66h-0.66zM41.3,267.8h0.82v0.82h-0.82zM50.6,262.7h0.90v0.90h-0.90zM34.1,212.2h0.64v0.64h-0.64z" fill="#000" fill-opacity="1.0"/>
<path d="M26.3,234.6h0.84v0.84h-0.84zM63.1,231.6h1.00v1.00h-1.00zM24.3,227.2h0.59v0.59h-0.59zM32.2,209.2h0.76v0.76h-0.76zM23.2,245.0h0.93v0.93h-0.93zM26.6,256.3h0.87v0.87h-0.87zM32.2,259.0h0.79v0.79h-0.79zM36.7,268.8h0.77v0.77h-0.77zM43.3,211.8h0.99v0.99h-0.99zM29.0,251.1h0.67v0.67h-0.67zM27.3,245.0h0.86v0.86h-0.86zM23.9,235.9h0.90v0.90h-0.90zM30.4,257.6h0.95v0.95h-0.95zM26.1,254.5h0.98v0.98h-0.98zM29.7,262.3h0.73v0.73h-0.73zM27.7,247.3h0.91v0.91h-0.91zM37.5,270.9h0.99v0.99h-0.99zM50.1,254.9h0.77v0.77h-0.77zM30.8,257.9h0.57v0.57h-0.57zM28.8,250.8h0.87v0.87h-0.87zM27.1,217.8h0.66v0.66h-0.66zM31.6,263.5h0.84v0.84h-0.84zM32.9,260.8h0.87v0.87h-0.87zM55.3,256.1h0.64v0.64h-0.64zM51.7,242.1h0.66v0.66h-0.66zM29.7,261.1h0.57v0.57h-0.57zM36.6,211.7h0.72v0.72h-0.72zM51.8,248.7h0.91v0.91h-0.91zM39.9,267.1h1.00v1.00h-1.00zM35.9,264.2h0.69v0.69h-0.69zM26.4,243.8h0.65v0.65h-0.65zM50.3,256.6h0.62v0.62h-0.62zM31.2,265.7h0.77v0.77h-0.77zM25.5,225.3h0.92v0.92h-0.92zM30.0,254.6h0.74v0.74h-0.74zM24.3,242.6h0.57v0.57h-0.57zM33.8,261.5h0.95v0.95h-0.95zM42.6,269.6h0.88v0.88h-0.88zM27.5,261.4h0.86v0.86h-0.86zM39.0,268.9h0.57v0.57h-0.57zM53.0,268.1h0.92v0.92h-0.92zM26.4,247.2h0.70v0.70h-0.70zM23.4,243.8h0.61v0.61h-0.61zM28.5,263.5h0.92v0.92h-0.92zM43.2,209.6h0.85v0.85h-0.85zM23.2,245.9h0.98v0.98h-0.98zM26.0,248.3h0.62v0.62h-0.62zM31.4,266.0h0.58v0.58h-0.58zM25.7,234.3h0.97v0.97h-0.97zM30.0,264.4h0.78v0.78h-0.78zM51.0,224.4h0.92v0.92h-0.92zM25.3,250.7h0.79v0.79h-0.79zM51.6,232.5h0.79v0.79h-0.79zM29.4,254.8h0.77v0.77h-0.77zM25.6,257.6h0.82v0.82h-0.82zM28.9,256.2h0.57v0.57h-0.57zM43.4,209.6h0.64v0.64h-0.64zM47.3,214.4h0.70v0.70h-0.70zM27.1,217.0h0.75v0.75h-0.75zM25.1,221.9h0.70v0.70h-0.70zM49.6,258.7h0.67v0.67h-0.67zM57.1,244.2h0.75v0.75h-0.75zM26.0,252.5h0.91v0.91h-0.91zM44.3,214.0h0.60v0.60h-0.60zM22.5,236.7h0.64v0.64h-0.64zM36.2,264.1h0.68v0.68h-0.68zM54.5,229.6h0.81v0.81h-0.81zM39.1,266.3h0.66v0.66h-0.66zM54.4,244.2h0.67v0.67h-0.67zM44.9,270.3h0.91v0.91h-0.91zM44.5,264.7h0.92v0.92h-0.92zM25.2,256.5h0.84v0.84h-0.84zM29.2,263.6h0.60v0.60h-0.60zM27.2,237.7h0.57v0.57h-0.57zM51.6,241.5h0.94v0.94h-0.94zM54.6,232.0h0.90v0.90h-0.90zM52.8,242.2h0.64v0.64h-0.64zM50.1,257.0h0.84v0.84h-0.84zM28.2,252.7h0.78v0.78h-0.78zM29.2,259.8h0.65v0.65h-0.65zM48.6,215.7h0.63v0.63h-0.63zM44.8,267.8h0.87v0.87h-0.87zM37.1,263.7h0.92v0.92h-0.92zM25.1,247.4h0.57v0.57h-0.57zM51.9,255.2h0.71v0.71h-0.71zM33.4,268.5h0.99v0.99h-0.99zM21.9,231.0h1.00v1.00h-1.00zM44.4,212.4h0.60v0.60h-0.60zM27.0,238.0h0.70v0.70h-0.70zM28.7,249.3h0.82v0.82h-0.82zM31.1,261.0h0.82v0.82h-0.82zM36.0,210.7h0.99v0.99h-0.99zM32.5,261.7h0.80v0.80h-0.80zM32.0,259.7h0.83v0.83h-0.83zM49.1,215.3h0.79v0.79h-0.79zM29.5,214.3h0.99v0.99h-0.99zM54.1,233.0h0.55v0.55h-0.55zM22.1,226.2h0.79v0.79h-0.79zM47.2,212.5h0.65v0.65h-0.65zM34.3,264.8h0.91v0.91h-0.91zM27.1,244.1h0.65v0.65h-0.65zM26.9,252.1h0.69v0.69h-0.69zM24.8,241.4h0.66v0.66h-0.66zM23.1,239.0h0.81v0.81h-0.81zM33.0,262.7h0.98v0.98h-0.98zM35.3,263.5h0.72v0.72h-0.72zM53.5,222.4h0.67v0.67h-0.67zM29.1,252.1h0.75v0.75h-0.75zM26.2,245.6h0.84v0.84h-0.84zM53.4,264.8h0.67v0.67h-0.67zM50.7,256.4h0.92v0.92h-0.92zM31.6,262.0h0.66v0.66h-0.66zM31.0,266.8h0.58v0.58h-0.58zM22.5,235.2h0.92v0.92h-0.92zM55.4,240.7h0.91v0.91h-0.91zM60.0,231.6h0.94v0.94h-0.94zM27.0,244.1h0.69v0.69h-0.69zM51.9,235.1h0.56v0.56h-0.56zM22.4,223.1h0.95v0.95h-0.95zM44.2,268.0h0.99v0.99h-0.99zM24.6,226.1h0.66v0.66h-0.66zM29.3,262.8h0.66v0.66h-0.66zM27.0,250.4h0.92v0.92h-0.92zM47.7,214.9h0.85v0.85h-0.85zM45.2,211.3h0.96v0.96h-0.96zM50.3,255.7h0.71v0.71h-0.71zM36.9,208.8h0.87v0.87h-0.87zM55.7,233.7h0.63v0.63h-0.63zM33.1,264.0h0.94v0.94h-0.94zM24.0,239.7h0.60v0.60h-0.60zM51.0,260.4h0.65v0.65h-0.65zM29.2,254.4h0.79v0.79h-0.79zM47.2,262.4h0.75v0.75h-0.75zM28.0,256.5h0.97v0.97h-0.97zM41.8,267.1h0.85v0.85h-0.85zM51.5,261.1h0.81v0.81h-0.81zM33.7,264.9h0.67v0.67h-0.67zM27.2,256.6h0.59v0.59h-0.59zM31.0,263.6h0.56v0.56h-0.56zM24.4,234.6h0.72v0.72h-0.72zM53.6,263.2h0.62v0.62h-0.62zM21.9,228.3h1.00v1.00h-1.00zM52.4,248.2h0.77v0.77h-0.77zM27.6,240.3h0.59v0.59h-0.59zM31.0,212.5h0.58v0.58h-0.58zM55.9,230.9h0.75v0.75h-0.75zM26.1,252.9h0.98v0.98h-0.98zM25.6,236.2h0.89v0.89h-0.89zM53.0,221.9h0.91v0.91h-0.91zM27.6,262.3h0.61v0.61h-0.61zM52.6,242.2h0.80v0.80h-0.80zM33.5,266.4h0.99v0.99h-0.99zM51.6,240.1h0.71v0.71h-0.71zM24.1,244.8h0.55v0.55h-0.55zM34.0,264.5h0.66v0.66h-0.66zM49.8,218.4h0.87v0.87h-0.87zM24.4,245.8h0.96v0.96h-0.96zM26.1,248.5h0.90v0.90h-0.90zM40.4,268.8h0.92v0.92h-0.92zM27.7,243.1h0.67v0.67h-0.67zM50.2,262.4h0.57v0.57h-0.57zM39.7,269.6h0.61v0.61h-0.61zM24.1,243.1h0.69v0.69h-0.69zM50.2,254.8h0.59v0.59h-0.59zM27.7,249.1h0.94v0.94h-0.94zM27.4,249.5h0.90v0.90h-0.90zM29.2,216.0h0.95v0.95h-0.95zM50.2,259.8h0.90v0.90h-0.90zM47.9,260.8h1.00v1.00h-1.00zM45.9,265.8h0.78v0.78h-0.78zM52.8,216.9h0.73v0.73h-0.73zM35.9,269.2h0.69v0.69h-0.69zM27.4,242.1h0.95v0.95h-0.95zM28.1,244.8h0.96v0.96h-0.96zM22.3,229.7h0.99v0.99h-0.99zM26.4,239.1h0.93v0.93h-0.93zM27.4,240.2h0.85v0.85h-0.85zM61.3,234.5h0.76v0.76h-0.76zM52.0,263.6h0.90v0.90h-0.90zM23.1,225.9h0.60v0.60h-0.60zM53.6,260.1h0.58v0.58h-0.58zM22.6,238.2h0.98v0.98h-0.98zM35.0,266.4h0.84v0.84h-0.84zM52.3,228.0h0.70v0.70h-0.70zM56.7,238.8h0.55v0.55h-0.55zM27.5,247.8h0.70v0.70h-0.70zM25.4,229.7h0.65v0.65h-0.65zM27.3,247.3h0.79v0.79h-0.79zM54.2,227.5h0.66v0.66h-0.66zM36.8,269.0h0.94v0.94h-0.94zM34.3,268.3h0.90v0.90h-0.90zM52.1,231.9h0.68v0.68h-0.68zM23.2,238.2h0.97v0.97h-0.97zM39.1,264.8h0.81v0.81h-0.81zM29.9,258.5h0.63v0.63h-0.63zM57.7,237.3h0.84v0.84h-0.84zM33.6,261.0h0.69v0.69h-0.69zM53.7,228.8h0.89v0.89h-0.89zM26.1,252.4h0.64v0.64h-0.64zM52.9,235.7h0.63v0.63h-0.63zM49.6,261.7h0.63v0.63h-0.63zM31.0,262.6h0.70v0.70h-0.70zM53.2,245.7h0.99v0.99h-0.99zM27.4,253.0h1.00v1.00h-1.00zM28.4,252.3h0.77v0.77h-0.77zM54.9,237.9h0.90v0.90h-0.90zM31.9,268.1h0.71v0.71h-0.71zM41.9,266.7h0.70v0.70h-0.70zM45.5,268.7h0.89v0.89h-0.89zM26.2,221.4h0.68v0.68h-0.68zM30.1,256.9h0.85v0.85h-0.85zM41.5,271.1h0.57v0.57h-0.57zM25.0,223.2h0.92v0.92h-0.92zM52.6,237.8h0.65v0.65h-0.65zM29.1,251.0h0.78v0.78h-0.78z" fill="#000" fill-opacity="0.75"/>
<path d="M26.2,258.9h0.66v0.66h-0.66zM32.9,261.3h0.87v0.87h-0.87zM51.6,244.1h0.99v0.99h-0.99zM53.4,262.8h0.58v0.58h-0.58zM53.7,236.6h0.98v0.98h-0.98zM28.4,256.1h0.69v0.69h-0.69zM24.3,247.1h0.92v0.92h-0.92zM30.0,258.0h0.87v0.87h-0.87zM26.0,253.7h0.87v0.87h-0.87zM38.2,267.7h0.88v0.88h-0.88zM24.2,248.6h0.75v0.75h-0.75zM50.5,216.5h0.93v0.93h-0.93zM26.4,217.6h0.95v0.95h-0.95zM48.1,266.8h0.86v0.86h-0.86zM28.6,256.4h0.78v0.78h-0.78zM54.9,247.1h0.70v0.70h-0.70zM44.8,263.5h0.83v0.83h-0.83zM52.9,240.2h0.97v0.97h-0.97zM50.6,252.0h0.91v0.91h-0.91zM28.2,257.3h0.77v0.77h-0.77zM32.6,264.1h0.66v0.66h-0.66zM26.8,259.4h0.85v0.85h-0.85zM30.3,255.0h0.70v0.70h-0.70zM50.6,244.6h0.85v0.85h-0.85zM25.6,249.8h0.98v0.98h-0.98zM31.5,261.1h1.00v1.00h-1.00zM31.5,261.7h0.98v0.98h-0.98zM51.5,251.6h0.66v0.66h-0.66zM24.2,231.8h0.58v0.58h-0.58zM25.1,224.8h0.86v0.86h-0.86zM49.7,257.1h0.86v0.86h-0.86zM54.0,243.2h0.60v0.60h-0.60zM24.1,238.9h0.68v0.68h-0.68zM25.4,228.3h0.83v0.83h-0.83zM27.3,239.9h0.76v0.76h-0.76zM45.8,266.7h0.74v0.74h-0.74zM52.3,252.2h0.70v0.70h-0.70zM36.8,267.5h0.70v0.70h-0.70zM26.9,255.6h0.89v0.89h-0.89zM32.3,265.5h0.69v0.69h-0.69zM23.7,249.6h0.78v0.78h-0.78zM49.0,216.9h0.59v0.59h-0.59zM36.9,266.4h0.87v0.87h-0.87zM52.8,257.0h0.98v0.98h-0.98zM56.0,242.5h0.84v0.84h-0.84zM44.0,267.1h0.56v0.56h-0.56zM52.1,246.2h0.61v0.61h-0.61zM52.6,238.3h0.74v0.74h-0.74zM38.2,264.3h0.59v0.59h-0.59zM47.1,262.9h0.64v0.64h-0.64zM51.7,216.5h0.73v0.73h-0.73zM52.4,270.5h0.99v0.99h-0.99zM38.7,265.7h0.64v0.64h-0.64zM55.3,241.4h0.82v0.82h-0.82zM52.3,230.2h0.83v0.83h-0.83zM29.7,259.0h0.63v0.63h-0.63zM29.6,252.8h0.84v0.84h-0.84zM27.0,245.0h0.67v0.67h-0.67zM47.7,261.8h0.84v0.84h-0.84zM23.8,245.9h0.66v0.66h-0.66zM29.7,264.6h0.88v0.88h-0.88zM26.8,242.6h0.68v0.68h-0.68zM24.1,234.5h0.81v0.81h-0.81zM52.5,265.9h0.96v0.96h-0.96zM48.2,211.6h0.65v0.65h-0.65zM24.8,220.1h0.91v0.91h-0.91zM49.7,258.7h0.71v0.71h-0.71zM55.4,250.9h0.69v0.69h-0.69zM33.5,210.1h0.95v0.95h-0.95zM22.8,235.0h0.85v0.85h-0.85zM34.3,212.7h0.62v0.62h-0.62zM52.3,262.4h0.64v0.64h-0.64zM25.3,240.2h0.64v0.64h-0.64zM31.3,262.4h0.75v0.75h-0.75zM53.6,226.3h0.78v0.78h-0.78zM24.3,229.2h0.72v0.72h-0.72zM54.8,223.9h0.63v0.63h-0.63zM37.0,271.1h0.70v0.70h-0.70zM25.3,241.3h0.69v0.69h-0.69zM52.0,232.7h0.59v0.59h-0.59zM53.1,262.7h0.85v0.85h-0.85zM26.2,249.6h0.71v0.71h-0.71zM27.1,253.2h0.75v0.75h-0.75zM47.4,214.9h0.84v0.84h-0.84zM27.1,219.0h0.88v0.88h-0.88zM43.5,265.5h0.60v0.60h-0.60zM36.2,266.6h0.99v0.99h-0.99zM69.5,231.3h0.64v0.64h-0.64zM25.8,255.7h0.89v0.89h-0.89zM53.1,231.3h0.81v0.81h-0.81zM25.4,245.7h0.88v0.88h-0.88zM49.8,267.5h0.93v0.93h-0.93zM28.6,262.9h0.76v0.76h-0.76zM34.0,213.3h0.96v0.96h-0.96zM30.7,265.0h0.96v0.96h-0.96zM51.6,250.2h0.78v0.78h-0.78zM51.8,251.5h0.99v0.99h-0.99zM33.7,260.9h0.63v0.63h-0.63zM44.0,263.6h0.71v0.71h-0.71zM31.8,263.6h0.72v0.72h-0.72zM50.4,221.3h0.85v0.85h-0.85zM45.7,265.0h0.95v0.95h-0.95zM52.1,222.6h0.81v0.81h-0.81zM27.8,240.6h0.61v0.61h-0.61zM46.1,215.5h0.89v0.89h-0.89zM29.1,211.8h0.95v0.95h-0.95zM39.1,269.2h0.85v0.85h-0.85zM44.4,266.3h0.77v0.77h-0.77zM25.6,247.6h0.85v0.85h-0.85zM55.8,229.2h0.79v0.79h-0.79zM29.2,253.2h0.85v0.85h-0.85zM53.3,239.2h0.89v0.89h-0.89zM49.8,267.2h0.71v0.71h-0.71zM31.5,257.8h0.61v0.61h-0.61zM29.8,254.5h0.62v0.62h-0.62zM33.8,267.3h0.78v0.78h-0.78zM23.7,224.7h0.99v0.99h-0.99zM51.6,249.9h0.72v0.72h-0.72zM32.8,210.7h0.79v0.79h-0.79zM52.6,247.0h0.78v0.78h-0.78zM26.0,252.7h0.88v0.88h-0.88zM52.8,271.3h0.76v0.76h-0.76zM36.5,265.2h0.98v0.98h-0.98zM28.4,260.8h0.90v0.90h-0.90zM31.2,264.4h0.87v0.87h-0.87zM32.9,263.4h0.66v0.66h-0.66zM23.9,225.0h0.69v0.69h-0.69zM23.4,231.4h0.97v0.97h-0.97zM46.2,263.5h0.89v0.89h-0.89zM52.8,265.6h0.58v0.58h-0.58zM50.9,239.5h0.71v0.71h-0.71zM33.0,210.9h0.62v0.62h-0.62zM28.9,259.4h0.90v0.90h-0.90zM29.9,265.4h0.55v0.55h-0.55zM31.2,257.1h0.59v0.59h-0.59zM29.2,258.5h0.59v0.59h-0.59zM31.3,258.7h0.76v0.76h-0.76zM25.5,244.8h0.58v0.58h-0.58zM28.6,248.7h0.69v0.69h-0.69zM25.5,227.6h0.68v0.68h-0.68zM45.5,263.7h0.64v0.64h-0.64zM63.3,225.6h0.75v0.75h-0.75zM52.3,257.6h0.75v0.75h-0.75zM49.6,261.5h0.69v0.69h-0.69zM54.5,256.4h0.94v0.94h-0.94zM27.6,248.2h0.80v0.80h-0.80zM40.1,271.0h0.65v0.65h-0.65zM23.7,239.9h0.62v0.62h-0.62zM24.1,224.5h0.71v0.71h-0.71zM50.5,265.8h0.77v0.77h-0.77zM29.2,250.7h0.61v0.61h-0.61zM42.7,265.6h0.92v0.92h-0.92zM54.1,264.9h0.97v0.97h-0.97zM33.3,261.3h0.96v0.96h-0.96zM24.1,230.7h0.73v0.73h-0.73zM51.3,262.3h0.80v0.80h-0.80zM38.7,264.8h0.57v0.57h-0.57zM26.6,259.1h0.57v0.57h-0.57zM26.6,252.5h0.71v0.71h-0.71zM26.2,223.0h0.61v0.61h-0.61zM26.0,251.0h0.84v0.84h-0.84zM28.5,250.9h0.95v0.95h-0.95zM32.0,263.8h0.88v0.88h-0.88zM43.4,266.0h0.84v0.84h-0.84zM23.6,245.3h0.91v0.91h-0.91zM23.8,229.4h0.72v0.72h-0.72zM28.0,249.5h0.76v0.76h-0.76zM25.3,246.6h0.58v0.58h-0.58zM36.6,266.6h0.80v0.80h-0.80zM52.8,258.1h0.68v0.68h-0.68zM54.4,227.5h0.87v0.87h-0.87zM27.5,256.3h0.84v0.84h-0.84zM26.4,245.1h0.62v0.62h-0.62zM46.8,265.0h0.60v0.60h-0.60zM32.4,265.1h0.72v0.72h-0.72zM55.1,241.6h0.61v0.61h-0.61zM21.4,227.1h0.89v0.89h-0.89zM54.6,272.9h0.61v0.61h-0.61zM50.1,261.8h0.95v0.95h-0.95zM27.0,257.5h0.82v0.82h-0.82zM34.0,268.2h1.00v1.00h-1.00zM25.0,226.2h0.95v0.95h-0.95zM50.2,263.7h0.97v0.97h-0.97zM56.8,241.7h0.84v0.84h-0.84zM57.7,236.9h0.78v0.78h-0.78zM27.7,246.6h0.88v0.88h-0.88zM44.5,270.4h0.78v0.78h-0.78zM52.2,239.8h0.86v0.86h-0.86zM26.9,213.9h0.70v0.70h-0.70zM45.2,263.1h0.73v0.73h-0.73zM27.6,219.5h0.75v0.75h-0.75zM29.2,260.1h0.56v0.56h-0.56zM53.4,252.5h0.71v0.71h-0.71zM30.6,261.5h0.75v0.75h-0.75zM51.4,262.2h0.85v0.85h-0.85zM21.6,230.6h0.77v0.77h-0.77zM54.5,224.4h1.00v1.00h-1.00zM23.8,243.7h0.76v0.76h-0.76zM39.7,268.4h0.99v0.99h-0.99zM38.3,271.2h0.71v0.71h-0.71zM47.2,212.9h0.62v0.62h-0.62zM28.4,256.7h0.87v0.87h-0.87zM27.4,258.4h0.93v0.93h-0.93zM49.1,216.6h0.65v0.65h-0.65zM40.0,208.0h0.75v0.75h-0.75zM33.1,261.3h0.72v0.72h-0.72zM51.5,251.6h0.65v0.65h-0.65zM32.3,261.5h0.80v0.80h-0.80zM29.7,262.7h0.65v0.65h-0.65zM25.9,216.9h0.64v0.64h-0.64zM54.2,262.3h0.75v0.75h-0.75zM22.8,230.1h0.87v0.87h-0.87zM51.1,243.0h0.59v0.59h-0.59zM51.4,250.3h0.82v0.82h-0.82zM48.6,263.8h0.84v0.84h-0.84zM44.6,270.5h0.69v0.69h-0.69zM36.4,269.7h0.71v0.71h-0.71zM25.1,255.1h0.76v0.76h-0.76zM46.1,263.6h0.61v0.61h-0.61zM22.9,221.0h0.65v0.65h-0.65zM52.7,243.6h0.62v0.62h-0.62zM28.2,245.4h0.97v0.97h-0.97zM30.5,265.2h0.74v0.74h-0.74zM33.7,212.1h0.68v0.68h-0.68zM52.2,226.2h0.70v0.70h-0.70zM40.2,271.6h0.76v0.76h-0.76zM36.5,211.8h0.62v0.62h-0.62zM30.9,260.7h0.73v0.73h-0.73zM23.4,234.4h0.86v0.86h-0.86zM51.9,232.8h0.89v0.89h-0.89zM36.7,266.2h0.90v0.90h-0.90zM28.1,245.0h0.83v0.83h-0.83zM27.2,239.6h0.74v0.74h-0.74zM34.7,269.9h0.86v0.86h-0.86zM41.5,270.6h0.80v0.80h-0.80zM51.9,269.5h0.79v0.79h-0.79zM38.2,266.5h0.84v0.84h-0.84zM36.3,266.5h0.92v0.92h-0.92zM32.6,210.8h0.61v0.61h-0.61zM27.7,241.1h0.73v0.73h-0.73zM53.1,234.3h0.93v0.93h-0.93zM42.4,270.6h0.87v0.87h-0.87zM27.4,261.4h0.92v0.92h-0.92zM28.8,263.2h0.60v0.60h-0.60zM42.1,270.4h0.94v0.94h-0.94zM27.7,219.4h0.55v0.55h-0.55zM36.0,267.0h0.56v0.56h-0.56zM51.8,245.5h0.75v0.75h-0.75zM55.9,237.4h0.79v0.79h-0.79zM22.2,229.7h0.71v0.71h-0.71zM53.1,230.9h0.68v0.68h-0.68zM25.8,245.2h0.64v0.64h-0.64zM27.8,252.7h0.90v0.90h-0.90zM38.3,264.6h0.89v0.89h-0.89zM32.8,265.8h0.75v0.75h-0.75zM26.8,221.3h0.81v0.81h-0.81zM52.0,224.1h0.56v0.56h-0.56z" fill="#000" fill-opacity="0.5"/>
<path d="M18.8,217.2h0.60v0.60h-0.60zM19.5,217.3h0.94v0.94h-0.94zM19.2,200.4h0.56v0.56h-0.56zM22.6,215.7h0.78v0.78h-0.78zM16.9,216.9h0.63v0.63h-0.63zM22.8,216.4h0.99v0.99h-0.99zM37.3,208.9h0.71v0.71h-0.71zM18.4,210.3h0.84v0.84h-0.84zM19.3,212.7h0.74v0.74h-0.74zM30.9,212.3h0.68v0.68h-0.68zM21.5,210.9h0.96v0.96h-0.96zM25.6,207.1h1.00v1.00h-1.00zM32.2,214.3h0.71v0.71h-0.71zM21.0,212.1h0.60v0.60h-0.60zM33.2,212.1h0.98v0.98h-0.98zM31.8,209.7h0.83v0.83h-0.83zM17.9,208.3h0.93v0.93h-0.93zM35.2,212.5h0.89v0.89h-0.89zM34.8,210.0h0.81v0.81h-0.81zM30.6,206.7h0.70v0.70h-0.70zM21.6,214.4h0.76v0.76h-0.76zM31.0,210.0h0.88v0.88h-0.88zM26.4,212.2h0.66v0.66h-0.66zM24.8,210.2h0.59v0.59h-0.59zM23.0,211.0h0.87v0.87h-0.87zM27.8,211.3h0.61v0.61h-0.61zM23.3,217.3h0.85v0.85h-0.85zM17.5,208.6h0.90v0.90h-0.90zM26.0,212.6h0.97v0.97h-0.97zM36.1,208.8h0.83v0.83h-0.83zM33.1,209.3h0.92v0.92h-0.92zM28.1,206.7h0.94v0.94h-0.94zM33.7,208.2h0.64v0.64h-0.64zM18.1,211.1h0.78v0.78h-0.78zM28.0,213.0h0.71v0.71h-0.71zM23.0,212.7h0.74v0.74h-0.74zM26.0,199.2h0.80v0.80h-0.80zM23.3,207.4h0.59v0.59h-0.59zM27.5,213.2h0.97v0.97h-0.97zM17.7,209.7h0.84v0.84h-0.84zM21.4,212.1h0.64v0.64h-0.64zM20.7,201.2h0.96v0.96h-0.96zM23.4,209.9h0.76v0.76h-0.76zM18.3,210.4h0.83v0.83h-0.83zM33.9,209.3h0.76v0.76h-0.76zM20.5,211.7h0.73v0.73h-0.73zM27.0,208.7h0.79v0.79h-0.79zM27.9,204.5h0.70v0.70h-0.70zM17.4,216.4h0.67v0.67h-0.67zM17.2,206.8h0.64v0.64h-0.64zM30.3,208.9h0.64v0.64h-0.64zM27.1,201.3h0.90v0.90h-0.90zM32.1,210.6h0.88v0.88h-0.88zM17.6,215.9h1.00v1.00h-1.00zM33.3,207.1h0.99v0.99h-0.99zM36.7,209.4h0.97v0.97h-0.97zM26.4,213.9h0.99v0.99h-0.99z" fill="#000" fill-opacity="1.0"/>
<path d="M27.3,216.3h0.95v0.95h-0.95zM16.2,211.3h0.93v0.93h-0.93zM23.1,207.8h0.65v0.65h-0.65zM18.9,210.4h0.71v0.71h-0.71zM28.8,216.8h0.90v0.90h-0.90zM24.7,217.1h0.75v0.75h-0.75zM23.0,216.7h0.91v0.91h-0.91zM30.1,214.0h0.65v0.65h-0.65zM22.6,206.7h0.77v0.77h-0.77zM28.2,207.5h0.91v0.91h-0.91zM18.2,217.3h0.56v0.56h-0.56zM17.6,207.4h0.56v0.56h-0.56zM37.6,211.1h0.65v0.65h-0.65zM22.2,212.6h0.70v0.70h-0.70zM25.8,199.0h0.67v0.67h-0.67zM25.9,213.7h0.75v0.75h-0.75zM37.0,199.7h0.57v0.57h-0.57zM16.3,214.4h0.93v0.93h-0.93zM20.6,211.8h0.68v0.68h-0.68zM16.8,215.1h0.87v0.87h-0.87zM35.7,209.6h0.62v0.62h-0.62zM32.0,209.3h0.70v0.70h-0.70zM29.3,215.9h0.97v0.97h-0.97zM30.6,210.9h0.83v0.83h-0.83zM25.2,207.8h0.99v0.99h-0.99zM29.2,210.7h0.75v0.75h-0.75zM30.1,212.5h0.80v0.80h-0.80zM25.6,215.3h0.92v0.92h-0.92zM30.4,211.5h0.68v0.68h-0.68zM21.9,216.3h0.66v0.66h-0.66zM20.0,212.9h0.57v0.57h-0.57zM26.5,213.7h0.86v0.86h-0.86zM33.5,210.3h0.91v0.91h-0.91zM33.0,207.8h0.62v0.62h-0.62zM16.2,215.8h0.64v0.64h-0.64zM32.2,212.5h0.60v0.60h-0.60zM24.0,216.3h0.77v0.77h-0.77zM16.8,210.4h0.72v0.72h-0.72zM23.0,216.8h0.61v0.61h-0.61zM27.0,216.7h0.97v0.97h-0.97zM21.2,209.8h0.73v0.73h-0.73zM33.4,213.6h0.57v0.57h-0.57zM34.4,210.4h0.84v0.84h-0.84zM20.5,214.6h0.65v0.65h-0.65zM19.7,216.8h0.85v0.85h-0.85zM22.5,211.3h0.89v0.89h-0.89zM21.8,207.1h0.96v0.96h-0.96z" fill="#000" fill-opacity="0.75"/>
<path d="M29.0,207.0h0.90v0.90h-0.90zM24.5,199.2h0.55v0.55h-0.55zM26.6,216.5h0.94v0.94h-0.94zM24.3,211.3h0.64v0.64h-0.64zM19.0,210.6h0.67v0.67h-0.67zM17.2,208.4h0.64v0.64h-0.64zM24.0,209.5h0.71v0.71h-0.71zM23.5,208.4h0.90v0.90h-0.90zM29.5,210.2h0.94v0.94h-0.94zM20.4,210.5h0.60v0.60h-0.60zM20.0,215.0h0.70v0.70h-0.70zM17.4,209.8h0.98v0.98h-0.98zM22.4,210.3h0.96v0.96h-0.96zM20.1,205.5h0.99v0.99h-0.99zM17.0,215.2h0.63v0.63h-0.63zM19.4,212.5h0.55v0.55h-0.55zM24.5,206.9h0.58v0.58h-0.58zM17.1,204.6h0.85v0.85h-0.85zM19.8,213.3h0.86v0.86h-0.86zM18.1,202.4h0.66v0.66h-0.66zM25.9,212.2h0.83v0.83h-0.83zM29.7,210.5h0.65v0.65h-0.65zM28.8,215.9h0.89v0.89h-0.89zM37.5,211.5h0.89v0.89h-0.89zM18.8,216.3h0.62v0.62h-0.62zM25.2,207.0h0.82v0.82h-0.82zM17.9,212.4h0.94v0.94h-0.94zM33.9,208.9h0.91v0.91h-0.91zM23.0,210.4h0.89v0.89h-0.89zM22.8,216.9h0.57v0.57h-0.57zM31.9,204.7h0.76v0.76h-0.76zM22.5,208.8h0.83v0.83h-0.83zM36.8,210.4h0.95v0.95h-0.95zM37.6,211.9h0.58v0.58h-0.58zM28.9,215.1h0.76v0.76h-0.76zM37.1,211.2h0.78v0.78h-0.78zM16.5,211.1h0.86v0.86h-0.86zM29.7,212.8h0.56v0.56h-0.56zM20.9,216.9h0.62v0.62h-0.62zM22.3,207.3h0.59v0.59h-0.59zM19.3,207.4h0.63v0.63h-0.63zM17.2,216.1h0.61v0.61h-0.61zM17.8,208.5h0.98v0.98h-0.98zM27.1,206.5h0.96v0.96h-0.96zM19.6,195.5h0.85v0.85h-0.85zM31.9,201.0h0.89v0.89h-0.89z" fill="#000" fill-opacity="0.5"/>
<path d="M43.0,206.5h0.77v0.77h-0.77zM46.0,209.9h0.60v0.60h-0.60zM43.2,209.8h0.86v0.86h-0.86zM40.2,210.7h0.93v0.93h-0.93zM40.4,212.4h0.85v0.85h-0.85zM45.0,203.5h0.94v0.94h-0.94zM44.9,204.5h0.56v0.56h-0.56zM41.6,206.6h0.85v0.85h-0.85zM42.1,208.7h0.66v0.66h-0.66zM36.8,204.5h0.88v0.88h-0.88zM39.3,212.5h0.73v0.73h-0.73zM41.7,212.8h0.94v0.94h-0.94z" fill="#000" fill-opacity="1.0"/>
<path d="M44.0,213.7h0.92v0.92h-0.92zM38.2,204.3h0.58v0.58h-0.58zM42.1,212.9h0.58v0.58h-0.58zM45.8,206.2h0.98v0.98h-0.98zM46.3,208.9h0.73v0.73h-0.73zM43.0,212.1h0.59v0.59h-0.59zM37.9,206.9h0.77v0.77h-0.77zM39.3,204.9h0.61v0.61h-0.61zM43.7,206.3h0.69v0.69h-0.69zM44.7,208.5h0.59v0.59h-0.59zM38.3,205.5h0.62v0.62h-0.62zM41.9,207.5h0.91v0.91h-0.91zM43.5,208.1h0.63v0.63h-0.63zM46.1,207.3h0.56v0.56h-0.56z" fill="#000" fill-opacity="0.75"/>
<path d="M45.7,205.0h0.83v0.83h-0.83zM39.9,211.6h0.68v0.68h-0.68zM46.6,215.5h0.71v0.71h-0.71zM39.9,205.9h0.55v0.55h-0.55zM43.3,207.6h0.91v0.91h-0.91zM36.8,209.7h0.69v0.69h-0.69zM39.9,210.9h0.94v0.94h-0.94zM44.6,205.6h0.71v0.71h-0.71zM44.7,209.1h0.70v0.70h-0.70zM36.7,208.5h0.68v0.68h-0.68zM44.9,204.3h0.91v0.91h-0.91zM41.7,213.0h0.59v0.59h-0.59zM41.5,209.2h0.79v0.79h-0.79zM38.9,211.9h0.99v0.99h-0.99z" fill="#000" fill-opacity="0.5"/>
<path d="M22.8,240.2h0.88v0.88h-0.88zM21.5,222.8h0.60v0.60h-0.60zM23.4,223.8h0.72v0.72h-0.72zM21.7,248.9h0.69v0.69h-0.69zM17.6,266.0h0.96v0.96h-0.96zM17.7,241.0h0.85v0.85h-0.85zM22.5,216.5h0.75v0.75h-0.75zM23.5,253.8h0.56v0.56h-0.56zM19.5,227.0h0.80v0.80h-0.80zM22.4,233.7h0.68v0.68h-0.68zM16.3,249.3h0.96v0.96h-0.96zM20.3,252.6h0.97v0.97h-0.97zM22.2,229.7h0.94v0.94h-0.94zM26.0,260.9h0.75v0.75h-0.75zM22.3,273.6h0.71v0.71h-0.71zM19.0,273.1h0.87v0.87h-0.87zM25.3,248.7h0.79v0.79h-0.79zM25.0,239.7h0.64v0.64h-0.64zM16.5,241.9h0.86v0.86h-0.86zM18.7,250.2h0.86v0.86h-0.86zM19.7,274.9h0.95v0.95h-0.95zM24.5,264.9h0.70v0.70h-0.70zM17.3,272.0h0.70v0.70h-0.70zM17.8,226.3h0.81v0.81h-0.81zM16.4,248.1h0.93v0.93h-0.93zM21.0,229.5h0.74v0.74h-0.74zM24.7,252.3h0.66v0.66h-0.66zM18.6,239.5h0.81v0.81h-0.81zM26.1,245.2h0.78v0.78h-0.78zM22.0,243.0h0.67v0.67h-0.67zM26.1,264.6h0.71v0.71h-0.71zM21.8,274.1h0.82v0.82h-0.82zM16.2,254.6h0.85v0.85h-0.85zM22.4,254.1h0.73v0.73h-0.73zM21.1,221.4h0.81v0.81h-0.81zM18.1,223.9h0.93v0.93h-0.93zM22.9,227.8h0.94v0.94h-0.94zM21.4,228.2h0.71v0.71h-0.71zM17.9,265.6h0.81v0.81h-0.81zM23.1,240.6h0.89v0.89h-0.89zM18.7,244.9h0.85v0.85h-0.85zM17.0,245.8h0.79v0.79h-0.79zM26.5,248.0h0.88v0.88h-0.88zM21.1,242.9h0.69v0.69h-0.69zM24.7,267.8h0.86v0.86h-0.86zM26.1,244.8h0.89v0.89h-0.89zM24.1,225.0h0.99v0.99h-0.99zM23.7,214.2h0.78v0.78h-0.78zM19.3,263.5h0.86v0.86h-0.86zM24.2,264.5h0.55v0.55h-0.55zM22.0,222.9h0.58v0.58h-0.58zM17.2,218.0h0.56v0.56h-0.56zM17.8,257.6h0.85v0.85h-0.85zM23.3,268.4h0.72v0.72h-0.72zM23.5,258.6h0.58v0.58h-0.58zM21.1,237.0h0.87v0.87h-0.87zM21.8,221.6h0.84v0.84h-0.84zM25.4,256.6h0.72v0.72h-0.72zM19.3,255.5h0.83v0.83h-0.83zM20.9,232.6h0.96v0.96h-0.96zM17.4,274.0h0.89v0.89h-0.89zM24.9,236.3h0.78v0.78h-0.78zM19.6,243.5h0.92v0.92h-0.92zM21.1,241.1h0.75v0.75h-0.75zM23.6,259.5h0.80v0.80h-0.80zM26.3,251.1h0.63v0.63h-0.63zM26.0,234.7h0.66v0.66h-0.66zM25.5,270.8h0.96v0.96h-0.96zM19.6,235.2h0.76v0.76h-0.76zM19.1,270.5h0.88v0.88h-0.88zM21.7,224.3h0.72v0.72h-0.72zM21.8,248.2h0.63v0.63h-0.63zM21.0,234.3h0.87v0.87h-0.87zM18.0,234.8h0.75v0.75h-0.75z" fill="#000" fill-opacity="1.0"/>
<path d="M18.0,235.0h0.67v0.67h-0.67zM20.5,271.6h0.59v0.59h-0.59zM17.8,246.4h0.56v0.56h-0.56zM24.1,269.1h0.59v0.59h-0.59zM19.3,225.0h0.75v0.75h-0.75zM21.4,253.2h0.63v0.63h-0.63zM26.4,265.0h0.88v0.88h-0.88zM25.4,250.0h0.57v0.57h-0.57zM23.3,259.0h0.64v0.64h-0.64zM20.9,247.4h1.00v1.00h-1.00zM19.0,239.7h0.56v0.56h-0.56zM20.3,256.9h0.55v0.55h-0.55zM18.9,239.0h0.83v0.83h-0.83zM24.2,240.7h0.74v0.74h-0.74zM24.8,241.9h0.99v0.99h-0.99zM24.5,266.9h0.96v0.96h-0.96zM24.9,222.6h0.57v0.57h-0.57zM18.2,254.4h0.56v0.56h-0.56zM26.3,260.3h0.57v0.57h-0.57zM24.2,218.8h0.89v0.89h-0.89zM20.3,251.5h0.60v0.60h-0.60zM26.5,214.7h0.93v0.93h-0.93zM21.5,215.5h0.91v0.91h-0.91zM21.8,269.0h0.73v0.73h-0.73zM21.2,266.2h0.66v0.66h-0.66zM21.0,275.5h0.60v0.60h-0.60zM24.1,222.5h0.85v0.85h-0.85zM16.7,256.5h0.56v0.56h-0.56zM22.7,274.4h0.69v0.69h-0.69zM24.6,219.8h0.92v0.92h-0.92zM17.2,267.1h0.93v0.93h-0.93zM23.7,259.1h0.90v0.90h-0.90zM23.1,266.9h0.87v0.87h-0.87zM23.9,216.1h0.86v0.86h-0.86zM20.9,273.9h0.85v0.85h-0.85zM22.0,216.2h0.94v0.94h-0.94zM23.8,216.0h0.85v0.85h-0.85zM20.4,230.8h0.83v0.83h-0.83zM18.3,218.5h0.76v0.76h-0.76zM21.5,225.5h0.99v0.99h-0.99zM19.3,274.9h0.87v0.87h-0.87zM17.8,251.0h0.69v0.69h-0.69zM24.8,274.0h0.90v0.90h-0.90zM21.4,270.1h0.65v0.65h-0.65zM20.1,234.1h0.74v0.74h-0.74zM20.0,216.0h1.00v1.00h-1.00zM18.2,220.5h0.72v0.72h-0.72zM16.6,236.6h0.61v0.61h-0.61zM19.9,241.5h0.94v0.94h-0.94zM20.2,215.3h0.95v0.95h-0.95zM19.1,258.6h0.88v0.88h-0.88zM26.2,240.4h0.77v0.77h-0.77zM21.8,272.0h0.91v0.91h-0.91zM23.2,241.3h0.76v0.76h-0.76zM24.7,231.4h0.58v0.58h-0.58zM25.1,264.7h0.94v0.94h-0.94zM17.9,237.1h0.60v0.60h-0.60zM19.2,270.4h0.92v0.92h-0.92zM23.6,228.0h0.92v0.92h-0.92zM22.7,249.5h0.61v0.61h-0.61zM24.6,266.2h0.89v0.89h-0.89zM17.1,243.1h0.71v0.71h-0.71zM25.0,215.1h0.86v0.86h-0.86zM25.8,235.9h0.67v0.67h-0.67zM20.4,267.7h0.83v0.83h-0.83zM18.9,251.4h0.97v0.97h-0.97zM26.5,243.1h0.90v0.90h-0.90zM19.5,273.8h0.80v0.80h-0.80zM19.2,222.2h0.61v0.61h-0.61zM23.9,263.6h0.69v0.69h-0.69zM23.4,242.8h0.79v0.79h-0.79zM21.1,260.9h0.67v0.67h-0.67zM26.3,267.1h0.83v0.83h-0.83zM22.6,222.3h0.93v0.93h-0.93z" fill="#000" fill-opacity="0.75"/>
<path d="M20.1,242.4h0.57v0.57h-0.57zM22.6,232.6h1.00v1.00h-1.00zM23.6,269.9h0.94v0.94h-0.94zM24.6,266.0h0.56v0.56h-0.56zM17.7,222.3h0.78v0.78h-0.78zM23.7,237.1h0.59v0.59h-0.59zM26.0,218.4h0.86v0.86h-0.86zM22.7,217.9h0.63v0.63h-0.63zM17.5,216.6h0.76v0.76h-0.76zM18.6,235.6h0.60v0.60h-0.60zM23.1,216.4h0.96v0.96h-0.96zM20.1,229.2h0.96v0.96h-0.96zM16.6,228.9h0.70v0.70h-0.70zM26.4,259.5h0.58v0.58h-0.58zM23.3,268.6h0.84v0.84h-0.84zM16.9,269.9h0.62v0.62h-0.62zM18.0,261.2h0.74v0.74h-0.74zM21.4,254.3h0.75v0.75h-0.75zM16.4,273.4h0.55v0.55h-0.55zM18.2,248.8h0.81v0.81h-0.81zM22.8,215.3h0.82v0.82h-0.82zM23.6,228.9h0.78v0.78h-0.78zM22.0,274.1h0.85v0.85h-0.85zM19.3,234.3h0.64v0.64h-0.64zM25.3,236.4h0.94v0.94h-0.94zM20.1,255.7h0.63v0.63h-0.63zM25.1,267.8h0.96v0.96h-0.96zM17.5,250.6h0.82v0.82h-0.82zM21.7,239.4h0.95v0.95h-0.95zM23.1,247.6h0.73v0.73h-0.73zM16.6,231.8h0.67v0.67h-0.67zM23.5,237.6h0.76v0.76h-0.76zM19.3,259.9h0.97v0.97h-0.97zM24.3,230.0h0.62v0.62h-0.62zM25.3,237.4h0.85v0.85h-0.85zM25.1,235.3h0.98v0.98h-0.98zM25.6,260.5h0.82v0.82h-0.82zM17.8,234.6h0.74v0.74h-0.74zM25.2,274.8h0.64v0.64h-0.64zM25.1,275.2h0.90v0.90h-0.90zM18.3,232.5h0.55v0.55h-0.55zM20.1,254.3h0.89v0.89h-0.89zM19.1,244.4h0.86v0.86h-0.86zM24.4,265.0h0.81v0.81h-0.81zM21.7,227.2h0.89v0.89h-0.89zM20.5,222.4h0.98v0.98h-0.98zM21.6,224.2h0.87v0.87h-0.87zM18.0,235.2h0.98v0.98h-0.98zM17.4,241.8h1.00v1.00h-1.00zM22.7,258.9h1.00v1.00h-1.00zM23.4,219.4h0.56v0.56h-0.56zM22.2,234.1h0.92v0.92h-0.92zM20.0,226.0h0.86v0.86h-0.86zM19.3,260.9h0.68v0.68h-0.68zM21.2,253.6h0.59v0.59h-0.59zM23.1,234.3h0.60v0.60h-0.60zM17.5,271.3h0.81v0.81h-0.81zM25.2,239.2h0.69v0.69h-0.69zM25.6,241.1h0.78v0.78h-0.78zM22.0,254.3h0.64v0.64h-0.64zM25.2,255.8h0.96v0.96h-0.96zM24.8,225.4h0.63v0.63h-0.63zM20.9,216.9h0.77v0.77h-0.77zM20.8,233.0h0.59v0.59h-0.59zM20.9,219.4h0.59v0.59h-0.59zM20.6,227.4h0.84v0.84h-0.84zM17.5,245.4h0.98v0.98h-0.98zM22.8,273.5h0.87v0.87h-0.87zM25.7,247.3h0.82v0.82h-0.82zM20.7,242.5h0.87v0.87h-0.87zM23.0,233.5h0.98v0.98h-0.98zM17.7,228.4h0.71v0.71h-0.71z" fill="#000" fill-opacity="0.5"/>
<path d="M32.0,216.1h0.71v0.71h-0.71zM31.4,212.4h0.79v0.79h-0.79zM20.1,216.9h0.89v0.89h-0.89zM30.8,208.8h0.75v0.75h-0.75zM36.3,216.3h0.93v0.93h-0.93zM36.6,213.5h0.63v0.63h-0.63zM24.7,210.6h0.57v0.57h-0.57zM29.5,216.5h0.57v0.57h-0.57zM17.8,208.6h0.58v0.58h-0.58zM28.8,215.7h0.64v0.64h-0.64zM29.5,212.0h0.90v0.90h-0.90zM35.8,212.4h0.76v0.76h-0.76zM17.8,215.8h0.98v0.98h-0.98zM28.4,214.4h0.71v0.71h-0.71zM29.3,208.4h0.89v0.89h-0.89zM37.4,212.8h0.60v0.60h-0.60zM31.5,215.0h0.64v0.64h-0.64zM24.5,212.1h0.70v0.70h-0.70zM39.2,212.6h0.67v0.67h-0.67zM29.2,211.1h0.85v0.85h-0.85zM20.7,210.0h0.76v0.76h-0.76zM19.6,213.8h0.59v0.59h-0.59zM37.2,212.3h0.92v0.92h-0.92zM35.7,215.0h0.74v0.74h-0.74zM23.6,208.3h0.68v0.68h-0.68zM22.3,210.7h0.58v0.58h-0.58zM27.6,209.8h0.96v0.96h-0.96zM33.3,210.7h0.55v0.55h-0.55zM26.0,208.1h0.85v0.85h-0.85zM26.6,213.0h0.67v0.67h-0.67zM24.5,208.5h0.65v0.65h-0.65zM22.7,216.9h0.69v0.69h-0.69zM29.2,214.9h0.84v0.84h-0.84zM17.2,216.5h0.59v0.59h-0.59zM39.6,212.8h0.67v0.67h-0.67zM26.5,216.6h0.92v0.92h-0.92zM19.6,216.5h0.77v0.77h-0.77zM39.2,212.3h0.55v0.55h-0.55zM37.5,214.4h0.78v0.78h-0.78zM24.7,209.5h0.84v0.84h-0.84zM35.1,211.9h0.69v0.69h-0.69zM23.5,214.6h0.80v0.80h-0.80zM39.4,214.4h0.55v0.55h-0.55zM28.4,212.4h0.57v0.57h-0.57zM22.4,213.0h0.71v0.71h-0.71zM31.6,208.7h0.72v0.72h-0.72z" fill="#000" fill-opacity="1.0"/>
<path d="M21.1,211.5h0.64v0.64h-0.64zM24.4,209.3h0.92v0.92h-0.92zM26.0,211.8h0.89v0.89h-0.89zM28.1,210.6h0.87v0.87h-0.87zM37.2,212.4h0.89v0.89h-0.89zM34.8,217.0h0.99v0.99h-0.99zM34.7,214.8h0.93v0.93h-0.93zM21.8,213.0h0.83v0.83h-0.83zM23.8,216.5h0.97v0.97h-0.97zM31.6,208.9h0.60v0.60h-0.60zM39.5,213.1h0.92v0.92h-0.92zM21.2,216.3h0.64v0.64h-0.64zM17.1,213.9h0.67v0.67h-0.67zM37.2,214.3h0.61v0.61h-0.61zM34.4,210.1h0.70v0.70h-0.70zM30.8,216.7h0.63v0.63h-0.63zM16.3,207.9h0.56v0.56h-0.56zM26.8,213.7h0.88v0.88h-0.88zM36.7,216.3h0.76v0.76h-0.76zM16.7,217.3h0.96v0.96h-0.96zM29.5,210.3h0.80v0.80h-0.80zM19.0,216.9h0.63v0.63h-0.63zM27.7,211.2h0.87v0.87h-0.87zM36.8,215.8h0.66v0.66h-0.66zM19.9,217.6h0.82v0.82h-0.82zM32.9,215.8h0.96v0.96h-0.96zM32.3,215.3h0.83v0.83h-0.83zM18.7,216.8h0.80v0.80h-0.80zM37.4,216.1h0.92v0.92h-0.92zM36.8,210.9h0.79v0.79h-0.79zM27.6,217.4h0.58v0.58h-0.58zM24.7,208.0h0.88v0.88h-0.88zM31.7,215.4h0.58v0.58h-0.58zM33.6,215.2h0.94v0.94h-0.94z" fill="#000" fill-opacity="0.75"/>
<path d="M33.2,207.6h0.91v0.91h-0.91zM26.2,213.4h0.80v0.80h-0.80zM32.8,208.1h0.63v0.63h-0.63zM35.1,215.0h0.76v0.76h-0.76zM18.1,207.9h0.88v0.88h-0.88zM25.9,216.5h0.81v0.81h-0.81zM24.9,208.8h0.92v0.92h-0.92zM28.3,215.7h0.65v0.65h-0.65zM31.8,208.9h0.63v0.63h-0.63zM31.8,208.8h0.93v0.93h-0.93zM30.2,216.8h0.95v0.95h-0.95zM24.6,209.8h0.99v0.99h-0.99zM27.4,208.3h0.61v0.61h-0.61zM36.0,217.5h0.64v0.64h-0.64zM29.7,207.6h0.98v0.98h-0.98zM39.4,211.1h0.89v0.89h-0.89zM22.9,214.0h0.85v0.85h-0.85zM18.4,209.2h0.65v0.65h-0.65zM38.0,215.8h0.89v0.89h-0.89zM18.7,209.8h0.98v0.98h-0.98zM27.6,211.9h0.85v0.85h-0.85zM27.3,208.0h0.89v0.89h-0.89zM32.9,217.3h0.96v0.96h-0.96zM33.3,215.2h0.96v0.96h-0.96zM37.0,214.2h1.00v1.00h-1.00zM22.7,210.4h0.78v0.78h-0.78zM24.4,211.8h0.83v0.83h-0.83zM30.6,208.0h0.79v0.79h-0.79zM38.9,213.0h0.88v0.88h-0.88zM28.3,209.6h0.84v0.84h-0.84zM29.1,214.8h0.74v0.74h-0.74zM24.4,210.5h0.67v0.67h-0.67zM22.8,209.6h0.84v0.84h-0.84zM21.4,209.2h0.63v0.63h-0.63zM31.2,208.7h0.76v0.76h-0.76zM29.1,216.7h0.84v0.84h-0.84zM39.2,207.9h0.72v0.72h-0.72zM16.1,211.4h0.90v0.90h-0.90zM30.8,214.0h0.87v0.87h-0.87zM18.3,210.1h0.61v0.61h-0.61z" fill="#000" fill-opacity="0.5"/>
<path d="M40.4,265.6h0.90v0.90h-0.90zM46.4,264.6h0.75v0.75h-0.75zM24.7,264.4h0.91v0.91h-0.91zM22.4,270.3h0.60v0.60h-0.60zM49.2,265.0h0.98v0.98h-0.98zM22.9,272.0h0.64v0.64h-0.64zM32.2,268.9h0.66v0.66h-0.66zM32.9,272.9h0.64v0.64h-0.64zM24.6,265.2h0.66v0.66h-0.66zM49.5,266.0h0.78v0.78h-0.78zM43.5,272.1h0.98v0.98h-0.98zM44.5,270.7h0.62v0.62h-0.62zM48.8,269.7h0.68v0.68h-0.68zM20.6,268.7h0.97v0.97h-0.97zM28.9,265.4h0.60v0.60h-0.60zM47.6,273.2h0.76v0.76h-0.76zM19.9,274.7h0.96v0.96h-0.96zM21.7,267.7h0.59v0.59h-0.59zM23.1,270.4h0.82v0.82h-0.82zM32.3,264.9h0.57v0.57h-0.57zM39.0,265.8h0.93v0.93h-0.93zM32.1,265.8h0.86v0.86h-0.86zM48.2,267.4h0.81v0.81h-0.81zM20.6,272.0h0.72v0.72h-0.72zM29.3,268.3h0.95v0.95h-0.95zM25.7,272.8h0.76v0.76h-0.76zM28.8,264.4h0.94v0.94h-0.94zM36.3,271.9h0.61v0.61h-0.61zM45.0,269.6h0.97v0.97h-0.97zM38.5,269.3h0.55v0.55h-0.55zM34.7,269.4h0.78v0.78h-0.78zM33.6,271.6h0.91v0.91h-0.91zM34.8,263.5h0.69v0.69h-0.69zM24.4,271.4h0.95v0.95h-0.95zM37.0,272.0h0.80v0.80h-0.80zM41.8,270.0h0.66v0.66h-0.66zM35.1,273.5h0.91v0.91h-0.91zM31.8,262.0h0.91v0.91h-0.91zM47.7,274.3h0.86v0.86h-0.86zM37.9,267.2h0.70v0.70h-0.70zM45.3,275.2h0.55v0.55h-0.55zM24.8,269.5h0.75v0.75h-0.75zM27.9,266.6h0.78v0.78h-0.78zM44.3,270.0h0.58v0.58h-0.58zM22.3,270.5h0.79v0.79h-0.79zM39.7,267.3h0.71v0.71h-0.71zM27.8,274.7h0.86v0.86h-0.86zM38.8,268.7h0.79v0.79h-0.79zM27.2,263.0h0.81v0.81h-0.81zM29.4,272.5h0.82v0.82h-0.82zM35.3,267.2h1.00v1.00h-1.00zM20.5,272.4h0.97v0.97h-0.97zM43.9,269.4h0.87v0.87h-0.87zM44.0,265.2h0.80v0.80h-0.80zM44.9,273.4h0.97v0.97h-0.97zM23.2,264.3h0.80v0.80h-0.80z" fill="#000" fill-opacity="1.0"/>
<path d="M33.5,274.0h0.56v0.56h-0.56zM39.6,270.6h0.64v0.64h-0.64zM39.9,268.8h0.99v0.99h-0.99zM46.0,273.5h0.69v0.69h-0.69zM26.5,263.8h0.62v0.62h-0.62zM33.3,262.9h0.99v0.99h-0.99zM37.7,264.1h0.97v0.97h-0.97zM28.9,265.2h0.59v0.59h-0.59zM43.7,264.9h0.74v0.74h-0.74zM28.7,267.1h0.85v0.85h-0.85zM31.9,262.0h0.89v0.89h-0.89zM20.4,262.8h0.97v0.97h-0.97zM43.1,266.1h0.99v0.99h-0.99zM32.5,266.6h0.86v0.86h-0.86zM36.4,266.4h0.81v0.81h-0.81zM23.5,264.7h0.95v0.95h-0.95zM24.5,270.1h0.57v0.57h-0.57zM33.8,270.1h0.77v0.77h-0.77zM36.5,264.1h0.77v0.77h-0.77zM23.0,275.1h0.92v0.92h-0.92zM29.4,269.5h0.94v0.94h-0.94zM23.6,274.6h0.75v0.75h-0.75zM23.4,271.8h0.70v0.70h-0.70zM35.9,271.6h0.73v0.73h-0.73zM25.1,270.7h0.62v0.62h-0.62zM30.5,266.5h0.62v0.62h-0.62zM47.5,265.1h0.58v0.58h-0.58zM30.6,261.8h0.94v0.94h-0.94zM21.4,265.4h0.69v0.69h-0.69zM32.8,267.9h0.59v0.59h-0.59zM33.7,275.6h0.68v0.68h-0.68zM34.3,272.1h0.85v0.85h-0.85zM36.8,265.7h0.75v0.75h-0.75zM47.7,271.8h0.58v0.58h-0.58zM44.5,271.4h0.84v0.84h-0.84zM49.2,261.5h0.97v0.97h-0.97zM34.1,266.7h0.71v0.71h-0.71zM32.1,272.7h0.76v0.76h-0.76zM45.7,272.8h0.72v0.72h-0.72zM26.2,269.6h0.88v0.88h-0.88zM21.1,271.6h0.82v0.82h-0.82zM46.1,271.5h0.72v0.72h-0.72zM40.3,265.0h0.90v0.90h-0.90zM44.0,273.7h0.98v0.98h-0.98zM30.7,263.4h0.58v0.58h-0.58zM25.9,270.7h0.72v0.72h-0.72zM49.5,275.4h0.90v0.90h-0.90zM23.6,263.9h0.61v0.61h-0.61zM43.3,269.9h0.90v0.90h-0.90zM45.0,268.5h0.70v0.70h-0.70zM19.8,263.9h0.90v0.90h-0.90zM24.3,264.9h0.91v0.91h-0.91zM34.8,266.0h0.94v0.94h-0.94z" fill="#000" fill-opacity="0.75"/>
<path d="M27.9,271.9h0.92v0.92h-0.92zM46.5,263.4h0.84v0.84h-0.84zM40.9,273.6h0.57v0.57h-0.57zM29.0,265.2h0.70v0.70h-0.70zM38.2,267.9h0.93v0.93h-0.93zM29.2,271.7h0.79v0.79h-0.79zM35.3,269.9h0.66v0.66h-0.66zM47.5,261.8h0.97v0.97h-0.97zM44.9,266.7h0.64v0.64h-0.64zM27.6,271.9h0.65v0.65h-0.65zM32.7,269.3h0.64v0.64h-0.64zM19.8,270.3h0.95v0.95h-0.95zM24.5,267.1h0.81v0.81h-0.81zM28.4,261.8h0.77v0.77h-0.77zM36.4,268.1h0.73v0.73h-0.73zM35.8,263.3h0.64v0.64h-0.64zM23.3,271.9h0.76v0.76h-0.76zM45.2,273.3h0.98v0.98h-0.98zM45.7,265.2h0.79v0.79h-0.79zM37.3,275.6h0.63v0.63h-0.63zM21.9,266.2h0.59v0.59h-0.59zM26.8,274.6h0.97v0.97h-0.97zM35.1,273.6h0.77v0.77h-0.77zM24.2,274.0h0.69v0.69h-0.69zM34.5,264.4h0.75v0.75h-0.75zM36.5,268.2h0.66v0.66h-0.66zM22.6,262.0h0.81v0.81h-0.81zM38.3,267.4h0.55v0.55h-0.55zM28.9,264.5h0.80v0.80h-0.80zM38.3,267.6h0.78v0.78h-0.78zM29.2,270.1h0.76v0.76h-0.76zM35.0,268.1h0.61v0.61h-0.61zM40.2,266.9h0.64v0.64h-0.64zM23.1,273.5h0.58v0.58h-0.58zM45.4,272.8h0.94v0.94h-0.94zM44.1,266.9h0.79v0.79h-0.79zM26.1,263.1h0.88v0.88h-0.88zM42.1,265.2h0.92v0.92h-0.92zM22.9,271.9h0.73v0.73h-0.73zM48.5,270.9h0.99v0.99h-0.99zM22.4,268.1h0.96v0.96h-0.96zM42.4,269.9h0.57v0.57h-0.57zM23.9,272.6h0.70v0.70h-0.70zM34.7,271.7h0.57v0.57h-0.57zM33.9,273.4h0.80v0.80h-0.80zM45.4,271.5h0.58v0.58h-0.58zM34.5,272.9h0.82v0.82h-0.82zM40.9,273.5h0.78v0.78h-0.78zM35.4,274.6h0.87v0.87h-0.87zM46.9,270.2h0.98v0.98h-0.98zM24.2,270.7h0.73v0.73h-0.73z" fill="#000" fill-opacity="0.5"/>
<path d="M53.1,222.5h0.93v0.93h-0.93zM70.6,222.5h0.81v0.81h-0.81zM69.8,226.1h0.55v0.55h-0.55zM59.6,225.7h0.75v0.75h-0.75zM63.5,215.4h0.68v0.68h-0.68zM58.1,227.4h0.61v0.61h-0.61zM62.8,225.3h0.68v0.68h-0.68zM57.3,219.5h0.90v0.90h-0.90zM63.4,230.4h1.00v1.00h-1.00zM68.9,227.6h0.82v0.82h-0.82zM68.4,217.9h0.83v0.83h-0.83zM56.9,223.5h0.60v0.60h-0.60zM60.4,228.9h0.78v0.78h-0.78zM56.8,228.8h0.69v0.69h-0.69zM76.6,228.9h0.82v0.82h-0.82zM71.0,218.1h0.71v0.71h-0.71zM62.1,225.6h0.76v0.76h-0.76zM61.2,220.7h0.86v0.86h-0.86zM52.9,230.1h0.75v0.75h-0.75zM63.1,215.7h0.71v0.71h-0.71zM53.9,229.7h0.60v0.60h-0.60zM63.2,225.7h0.61v0.61h-0.61zM58.8,231.8h0.66v0.66h-0.66zM71.0,228.7h0.69v0.69h-0.69zM66.3,221.9h1.00v1.00h-1.00zM69.9,224.3h0.88v0.88h-0.88zM68.0,216.6h0.60v0.60h-0.60zM73.8,219.7h0.94v0.94h-0.94zM57.3,224.3h0.98v0.98h-0.98zM73.9,221.4h0.61v0.61h-0.61zM63.5,218.3h0.64v0.64h-0.64zM59.4,227.1h0.83v0.83h-0.83zM63.2,232.1h0.88v0.88h-0.88zM73.3,231.8h0.86v0.86h-0.86zM51.5,217.7h0.68v0.68h-0.68zM65.4,225.1h0.88v0.88h-0.88zM68.9,225.2h0.55v0.55h-0.55zM58.0,228.8h0.90v0.90h-0.90zM74.8,226.5h0.62v0.62h-0.62zM59.5,223.3h0.76v0.76h-0.76zM73.7,221.2h0.80v0.80h-0.80zM61.3,228.7h0.88v0.88h-0.88zM60.1,220.2h0.88v0.88h-0.88zM72.3,220.8h0.69v0.69h-0.69zM57.8,219.6h0.78v0.78h-0.78zM52.8,215.5h0.88v0.88h-0.88zM69.2,229.9h0.69v0.69h-0.69zM62.6,229.0h0.97v0.97h-0.97zM55.0,218.5h0.58v0.58h-0.58zM69.2,228.2h0.81v0.81h-0.81zM73.2,222.4h0.86v0.86h-0.86zM54.5,223.7h0.78v0.78h-0.78zM55.3,221.9h1.00v1.00h-1.00zM58.9,224.4h0.64v0.64h-0.64zM61.7,219.6h0.99v0.99h-0.99zM56.2,221.8h0.76v0.76h-0.76zM60.5,226.7h0.66v0.66h-0.66zM72.5,225.2h0.76v0.76h-0.76zM56.8,226.3h0.90v0.90h-0.90zM73.6,219.3h0.69v0.69h-0.69zM54.3,224.6h0.67v0.67h-0.67zM52.8,221.0h0.99v0.99h-0.99zM65.1,217.5h0.87v0.87h-0.87zM66.1,226.6h0.62v0.62h-0.62zM62.1,226.2h0.71v0.71h-0.71zM63.0,217.5h0.93v0.93h-0.93zM76.4,229.3h0.79v0.79h-0.79zM62.8,222.4h0.58v0.58h-0.58zM76.2,229.5h0.76v0.76h-0.76zM66.6,229.6h0.57v0.57h-0.57zM61.0,220.5h0.97v0.97h-0.97zM72.3,221.3h0.80v0.80h-0.80zM70.3,228.7h0.63v0.63h-0.63zM74.6,219.0h0.94v0.94h-0.94zM65.7,222.5h0.71v0.71h-0.71zM70.0,224.1h0.77v0.77h-0.77zM60.5,225.4h0.57v0.57h-0.57zM60.9,222.4h0.58v0.58h-0.58zM69.9,218.5h0.98v0.98h-0.98zM59.9,218.8h0.61v0.61h-0.61zM59.3,226.5h0.57v0.57h-0.57zM69.9,227.0h0.64v0.64h-0.64zM58.8,218.9h0.76v0.76h-0.76zM68.3,223.8h0.72v0.72h-0.72zM70.9,220.8h0.93v0.93h-0.93zM62.9,230.9h0.99v0.99h-0.99zM56.5,229.1h0.85v0.85h-0.85zM64.3,221.2h0.76v0.76h-0.76zM76.1,225.8h0.69v0.69h-0.69zM76.7,224.0h1.00v1.00h-1.00zM56.3,225.4h0.74v0.74h-0.74zM75.7,220.0h0.57v0.57h-0.57zM57.8,221.5h0.73v0.73h-0.73zM67.0,222.1h0.84v0.84h-0.84zM70.5,226.3h0.91v0.91h-0.91zM71.0,224.9h0.91v0.91h-0.91zM55.0,230.6h0.75v0.75h-0.75zM58.1,227.4h0.58v0.58h-0.58zM61.4,222.7h0.76v0.76h-0.76zM63.5,219.6h0.82v0.82h-0.82zM69.1,228.1h0.65v0.65h-0.65zM61.7,228.6h0.87v0.87h-0.87zM64.8,225.0h0.64v0.64h-0.64zM59.1,225.5h0.63v0.63h-0.63zM60.1,220.0h0.61v0.61h-0.61zM61.4,226.8h0.86v0.86h-0.86zM66.0,226.9h0.71v0.71h-0.71zM72.3,225.3h0.87v0.87h-0.87zM69.1,221.9h0.99v0.99h-0.99zM63.1,220.0h0.95v0.95h-0.95zM61.3,228.2h0.81v0.81h-0.81zM58.4,230.4h0.94v0.94h-0.94zM79.6,222.3h0.67v0.67h-0.67zM79.2,221.7h0.84v0.84h-0.84zM75.2,221.4h0.82v0.82h-0.82zM68.1,220.4h0.90v0.90h-0.90zM68.6,230.3h0.76v0.76h-0.76zM74.2,233.2h0.74v0.74h-0.74zM79.0,225.6h0.58v0.58h-0.58zM57.0,233.3h0.72v0.72h-0.72zM75.8,223.4h0.61v0.61h-0.61zM77.5,229.2h0.82v0.82h-0.82zM61.5,231.7h0.82v0.82h-0.82zM66.9,229.1h0.61v0.61h-0.61zM56.7,219.8h0.59v0.59h-0.59zM71.6,226.8h0.68v0.68h-0.68zM75.4,225.6h0.96v0.96h-0.96zM74.0,222.2h0.93v0.93h-0.93zM54.4,224.9h0.83v0.83h-0.83zM60.0,228.6h0.97v0.97h-0.97zM60.9,223.1h0.99v0.99h-0.99zM62.2,215.4h0.78v0.78h-0.78zM67.5,223.8h0.56v0.56h-0.56zM57.9,226.2h0.82v0.82h-0.82zM68.7,217.5h0.88v0.88h-0.88zM58.1,220.4h0.57v0.57h-0.57zM64.3,227.0h0.85v0.85h-0.85zM61.0,215.1h0.90v0.90h-0.90zM57.7,225.8h0.82v0.82h-0.82zM55.8,228.7h0.66v0.66h-0.66zM55.8,222.5h0.88v0.88h-0.88zM56.8,222.8h0.94v0.94h-0.94zM71.4,226.5h0.62v0.62h-0.62zM57.4,217.2h0.97v0.97h-0.97zM75.3,217.9h0.91v0.91h-0.91zM62.4,225.6h0.60v0.60h-0.60zM69.1,225.7h0.69v0.69h-0.69zM60.7,227.9h0.85v0.85h-0.85zM60.7,221.1h0.55v0.55h-0.55zM70.1,222.6h0.92v0.92h-0.92zM61.5,226.5h0.88v0.88h-0.88zM63.2,219.9h0.88v0.88h-0.88zM71.4,224.8h0.76v0.76h-0.76zM66.0,225.7h0.80v0.80h-0.80zM74.5,223.8h0.83v0.83h-0.83zM64.5,215.8h0.85v0.85h-0.85zM69.3,217.2h0.94v0.94h-0.94zM72.4,225.5h0.58v0.58h-0.58zM66.5,222.0h0.99v0.99h-0.99zM77.2,226.5h0.87v0.87h-0.87zM69.8,224.8h0.72v0.72h-0.72zM70.7,226.8h0.63v0.63h-0.63zM73.6,223.8h0.76v0.76h-0.76zM60.3,227.0h0.86v0.86h-0.86zM62.7,221.6h0.88v0.88h-0.88zM74.3,228.1h0.64v0.64h-0.64zM61.5,223.3h0.60v0.60h-0.60zM65.2,228.6h0.94v0.94h-0.94zM69.7,221.2h0.93v0.93h-0.93zM63.1,218.7h0.72v0.72h-0.72zM68.9,215.3h0.81v0.81h-0.81zM73.0,216.4h0.95v0.95h-0.95zM65.9,224.0h0.74v0.74h-0.74z" fill="#000" fill-opacity="1.0"/>
<path d="M69.1,220.6h0.98v0.98h-0.98zM63.8,221.8h0.58v0.58h-0.58zM62.9,216.7h0.58v0.58h-0.58zM73.3,221.2h0.84v0.84h-0.84zM55.5,220.0h0.73v0.73h-0.73zM65.1,226.2h0.90v0.90h-0.90zM57.7,221.6h0.97v0.97h-0.97zM75.6,226.6h0.70v0.70h-0.70zM66.0,226.2h0.74v0.74h-0.74zM55.7,220.2h0.76v0.76h-0.76zM68.4,227.1h0.98v0.98h-0.98zM67.0,221.7h0.78v0.78h-0.78zM70.3,222.0h0.90v0.90h-0.90zM73.3,221.5h0.93v0.93h-0.93zM64.8,222.5h0.89v0.89h-0.89zM70.8,226.4h0.98v0.98h-0.98zM63.1,227.9h0.69v0.69h-0.69zM74.5,227.0h0.62v0.62h-0.62zM74.5,230.4h0.62v0.62h-0.62zM54.8,220.6h0.83v0.83h-0.83zM75.0,222.0h0.71v0.71h-0.71zM67.3,220.2h0.86v0.86h-0.86zM63.0,216.1h0.85v0.85h-0.85zM66.7,230.3h0.89v0.89h-0.89zM62.3,221.6h0.55v0.55h-0.55zM70.9,225.6h0.74v0.74h-0.74zM63.9,220.3h0.57v0.57h-0.57zM66.1,218.3h0.67v0.67h-0.67zM67.7,218.6h0.87v0.87h-0.87zM57.7,216.6h0.99v0.99h-0.99zM55.5,219.6h1.00v1.00h-1.00zM60.8,222.1h0.94v0.94h-0.94zM60.2,218.5h0.67v0.67h-0.67zM76.3,220.3h0.99v0.99h-0.99zM58.3,227.3h0.74v0.74h-0.74zM61.1,226.9h0.73v0.73h-0.73zM60.3,226.0h0.67v0.67h-0.67zM62.3,223.6h0.75v0.75h-0.75zM65.0,218.0h0.56v0.56h-0.56zM56.1,227.2h0.99v0.99h-0.99zM57.4,220.6h0.81v0.81h-0.81zM56.5,217.8h0.96v0.96h-0.96zM75.4,217.6h0.78v0.78h-0.78zM66.4,220.2h0.97v0.97h-0.97zM72.9,224.3h0.64v0.64h-0.64zM68.9,222.2h0.58v0.58h-0.58zM64.5,224.2h0.84v0.84h-0.84zM58.3,227.1h0.96v0.96h-0.96zM68.4,225.5h0.55v0.55h-0.55zM65.7,227.0h0.68v0.68h-0.68zM57.7,225.7h0.87v0.87h-0.87zM62.9,218.1h0.59v0.59h-0.59zM54.4,217.9h0.93v0.93h-0.93zM75.1,231.2h0.64v0.64h-0.64zM69.0,226.7h0.59v0.59h-0.59zM66.9,222.9h0.85v0.85h-0.85zM75.0,221.5h0.91v0.91h-0.91zM56.2,218.3h0.95v0.95h-0.95zM65.2,224.3h0.85v0.85h-0.85zM64.7,226.3h0.74v0.74h-0.74zM76.9,227.4h0.81v0.81h-0.81zM89.3,217.5h0.68v0.68h-0.68zM77.2,222.3h0.72v0.72h-0.72zM57.1,217.7h0.87v0.87h-0.87zM60.4,224.6h0.64v0.64h-0.64zM64.6,229.4h0.73v0.73h-0.73zM79.0,223.3h0.61v0.61h-0.61zM84.0,225.5h0.55v0.55h-0.55zM57.1,223.5h0.96v0.96h-0.96zM59.9,219.4h0.64v0.64h-0.64zM60.7,220.7h0.86v0.86h-0.86zM72.4,222.1h0.74v0.74h-0.74zM70.3,223.3h0.81v0.81h-0.81zM62.4,218.2h0.64v0.64h-0.64zM60.8,216.8h0.78v0.78h-0.78zM67.5,218.3h0.90v0.90h-0.90zM77.9,222.4h0.79v0.79h-0.79zM59.1,216.0h0.75v0.75h-0.75zM63.8,215.8h0.68v0.68h-0.68zM75.0,222.8h0.64v0.64h-0.64zM54.8,223.7h0.60v0.60h-0.60zM65.4,232.8h0.68v0.68h-0.68zM59.7,224.9h0.58v0.58h-0.58zM63.6,221.4h0.79v0.79h-0.79zM65.0,225.0h1.00v1.00h-1.00zM64.7,232.8h0.72v0.72h-0.72zM62.5,221.6h0.67v0.67h-0.67zM68.4,221.2h0.80v0.80h-0.80zM61.9,229.3h0.66v0.66h-0.66zM65.6,224.7h0.77v0.77h-0.77zM64.4,217.0h0.91v0.91h-0.91zM71.1,220.4h0.84v0.84h-0.84zM56.6,228.9h0.62v0.62h-0.62zM67.2,217.2h0.86v0.86h-0.86zM68.4,216.7h0.88v0.88h-0.88zM58.0,232.8h0.79v0.79h-0.79zM52.3,224.4h0.97v0.97h-0.97zM69.6,221.9h0.97v0.97h-0.97zM65.4,223.9h0.90v0.90h-0.90zM60.5,218.0h0.86v0.86h-0.86zM56.5,225.4h0.81v0.81h-0.81zM76.2,227.2h0.61v0.61h-0.61zM64.8,228.3h0.78v0.78h-0.78zM67.6,226.8h0.88v0.88h-0.88zM65.7,224.1h0.79v0.79h-0.79zM68.3,224.4h0.58v0.58h-0.58zM79.8,224.9h0.78v0.78h-0.78zM73.6,222.2h0.65v0.65h-0.65zM58.4,217.8h0.73v0.73h-0.73zM63.7,224.3h0.97v0.97h-0.97zM64.7,220.1h0.82v0.82h-0.82zM65.8,228.6h0.76v0.76h-0.76zM58.4,215.7h0.57v0.57h-0.57zM64.3,225.2h0.88v0.88h-0.88zM65.6,216.0h0.72v0.72h-0.72zM79.2,217.4h0.90v0.90h-0.90zM67.0,227.2h0.78v0.78h-0.78zM59.5,219.8h0.58v0.58h-0.58zM66.5,220.0h0.86v0.86h-0.86zM72.7,221.5h0.88v0.88h-0.88zM57.2,221.3h0.69v0.69h-0.69zM59.8,226.0h0.98v0.98h-0.98zM57.8,226.9h0.93v0.93h-0.93zM63.5,225.3h0.57v0.57h-0.57zM64.4,221.1h0.59v0.59h-0.59zM70.3,222.2h0.62v0.62h-0.62zM59.3,219.0h0.98v0.98h-0.98zM66.8,223.6h0.63v0.63h-0.63zM63.2,228.3h0.56v0.56h-0.56zM69.9,229.6h0.58v0.58h-0.58zM62.8,231.6h0.61v0.61h-0.61zM69.2,226.2h0.82v0.82h-0.82zM66.1,224.2h0.57v0.57h-0.57zM63.6,224.5h0.59v0.59h-0.59zM60.4,224.2h0.56v0.56h-0.56zM62.6,222.2h0.89v0.89h-0.89zM60.9,222.1h0.92v0.92h-0.92zM60.7,222.6h0.95v0.95h-0.95zM63.8,224.2h0.70v0.70h-0.70zM53.6,226.1h0.68v0.68h-0.68zM75.9,221.8h0.75v0.75h-0.75zM66.6,228.8h0.56v0.56h-0.56zM69.1,227.3h0.91v0.91h-0.91zM63.0,220.4h0.77v0.77h-0.77zM57.8,227.2h0.92v0.92h-0.92zM69.7,222.2h0.71v0.71h-0.71zM51.3,222.9h0.70v0.70h-0.70zM54.3,226.1h0.78v0.78h-0.78zM62.9,223.9h0.90v0.90h-0.90zM61.0,227.4h0.69v0.69h-0.69zM61.3,224.6h0.94v0.94h-0.94zM62.3,220.4h0.66v0.66h-0.66zM68.3,218.9h0.73v0.73h-0.73zM71.5,220.9h0.88v0.88h-0.88zM59.8,225.4h0.93v0.93h-0.93zM63.7,228.3h0.72v0.72h-0.72zM67.8,229.9h0.66v0.66h-0.66zM64.9,225.0h0.95v0.95h-0.95zM58.6,223.3h0.59v0.59h-0.59zM60.9,219.8h0.93v0.93h-0.93zM82.2,224.0h0.70v0.70h-0.70zM62.7,219.9h0.92v0.92h-0.92zM55.9,227.6h0.60v0.60h-0.60zM70.9,216.7h0.77v0.77h-0.77zM56.5,221.9h0.68v0.68h-0.68zM65.5,229.3h0.84v0.84h-0.84zM64.1,219.1h0.63v0.63h-0.63zM69.1,224.5h0.72v0.72h-0.72zM73.4,230.5h0.86v0.86h-0.86zM62.3,228.6h0.69v0.69h-0.69zM60.5,229.9h0.88v0.88h-0.88z" fill="#000" fill-opacity="0.75"/>
<path d="M64.8,230.5h0.60v0.60h-0.60zM70.1,222.3h0.79v0.79h-0.79zM59.3,226.3h0.97v0.97h-0.97zM62.3,228.8h0.99v0.99h-0.99zM58.6,224.1h0.84v0.84h-0.84zM62.2,231.0h0.87v0.87h-0.87zM70.2,222.5h0.85v0.85h-0.85zM60.7,222.1h0.66v0.66h-0.66zM73.7,218.3h0.77v0.77h-0.77zM57.1,227.1h0.55v0.55h-0.55zM63.5,222.1h1.00v1.00h-1.00zM74.6,220.2h0.58v0.58h-0.58zM57.3,222.2h0.75v0.75h-0.75zM59.0,222.5h0.91v0.91h-0.91zM57.9,226.4h0.92v0.92h-0.92zM78.6,230.8h0.86v0.86h-0.86zM76.2,223.8h0.83v0.83h-0.83zM52.7,222.3h0.78v0.78h-0.78zM73.4,215.7h0.84v0.84h-0.84zM54.5,224.3h0.56v0.56h-0.56zM66.9,216.9h0.60v0.60h-0.60zM58.8,217.5h0.71v0.71h-0.71zM72.9,222.1h0.94v0.94h-0.94zM72.4,224.3h0.83v0.83h-0.83zM62.5,227.7h0.71v0.71h-0.71zM68.2,216.0h0.73v0.73h-0.73zM68.2,216.9h0.99v0.99h-0.99zM63.1,223.6h0.85v0.85h-0.85zM64.8,228.9h0.66v0.66h-0.66zM72.9,220.6h0.84v0.84h-0.84zM58.1,226.1h0.63v0.63h-0.63zM72.2,225.2h0.96v0.96h-0.96zM52.5,222.2h0.91v0.91h-0.91zM59.4,222.7h0.58v0.58h-0.58zM64.1,222.7h0.62v0.62h-0.62zM66.1,228.2h0.60v0.60h-0.60zM76.0,228.3h0.63v0.63h-0.63zM67.8,220.4h0.99v0.99h-0.99zM56.5,220.8h0.66v0.66h-0.66zM69.0,224.1h0.68v0.68h-0.68zM72.9,228.7h0.92v0.92h-0.92zM65.9,218.7h0.73v0.73h-0.73zM66.2,222.1h0.62v0.62h-0.62zM79.9,216.2h0.57v0.57h-0.57zM59.9,226.2h0.90v0.90h-0.90zM65.9,230.2h0.61v0.61h-0.61zM58.6,225.6h0.97v0.97h-0.97zM60.4,223.8h0.79v0.79h-0.79zM67.8,229.6h0.71v0.71h-0.71zM64.6,221.8h0.64v0.64h-0.64zM67.6,223.6h0.77v0.77h-0.77zM73.6,224.6h0.60v0.60h-0.60zM60.2,221.1h0.91v0.91h-0.91zM74.7,220.9h0.67v0.67h-0.67zM64.2,227.3h0.81v0.81h-0.81zM61.7,220.0h0.56v0.56h-0.56zM77.6,222.2h0.66v0.66h-0.66zM64.5,228.5h0.97v0.97h-0.97zM68.7,225.5h0.80v0.80h-0.80zM58.1,226.0h0.95v0.95h-0.95zM58.1,227.5h0.92v0.92h-0.92zM85.7,224.1h0.72v0.72h-0.72zM71.2,222.5h0.81v0.81h-0.81zM73.6,221.3h0.70v0.70h-0.70zM65.6,230.1h0.86v0.86h-0.86zM78.5,223.1h0.85v0.85h-0.85zM57.7,221.9h0.76v0.76h-0.76zM62.5,220.8h0.80v0.80h-0.80zM60.2,220.4h0.63v0.63h-0.63zM71.3,224.8h0.69v0.69h-0.69zM64.0,228.7h0.98v0.98h-0.98zM57.8,224.8h0.96v0.96h-0.96zM66.9,222.4h0.96v0.96h-0.96zM76.8,220.0h0.92v0.92h-0.92zM59.2,222.6h0.56v0.56h-0.56zM74.0,224.9h0.92v0.92h-0.92zM56.7,232.3h0.64v0.64h-0.64zM75.0,233.2h0.95v0.95h-0.95zM65.1,228.5h0.79v0.79h-0.79zM52.5,226.1h0.80v0.80h-0.80zM79.9,226.6h0.96v0.96h-0.96zM62.1,218.5h0.57v0.57h-0.57zM52.8,225.6h0.73v0.73h-0.73zM61.2,219.8h0.69v0.69h-0.69zM69.2,221.6h0.97v0.97h-0.97zM59.7,226.0h0.91v0.91h-0.91zM67.7,217.2h0.66v0.66h-0.66zM65.0,229.6h0.98v0.98h-0.98zM69.2,219.4h0.91v0.91h-0.91zM60.7,216.9h0.99v0.99h-0.99zM69.1,220.1h0.97v0.97h-0.97zM56.2,218.2h0.66v0.66h-0.66zM65.2,227.3h0.67v0.67h-0.67zM52.1,226.8h0.72v0.72h-0.72zM58.8,227.4h0.57v0.57h-0.57zM67.6,224.4h0.93v0.93h-0.93zM63.7,224.9h0.73v0.73h-0.73zM55.9,220.1h0.85v0.85h-0.85zM57.6,228.8h0.95v0.95h-0.95zM63.9,232.5h0.87v0.87h-0.87zM61.2,226.1h0.66v0.66h-0.66zM75.6,230.5h0.64v0.64h-0.64zM59.0,228.2h0.79v0.79h-0.79zM66.7,219.5h0.77v0.77h-0.77zM67.9,231.1h0.91v0.91h-0.91zM57.3,218.0h0.62v0.62h-0.62zM67.1,231.3h0.94v0.94h-0.94zM57.4,221.0h0.72v0.72h-0.72zM62.7,230.6h0.64v0.64h-0.64zM69.3,225.9h0.87v0.87h-0.87zM68.4,227.0h0.86v0.86h-0.86zM79.2,227.5h0.61v0.61h-0.61zM61.7,224.1h0.88v0.88h-0.88zM77.6,221.1h0.72v0.72h-0.72zM66.4,224.6h0.63v0.63h-0.63zM58.5,223.1h0.57v0.57h-0.57zM59.9,224.5h0.72v0.72h-0.72zM75.7,228.2h0.91v0.91h-0.91zM68.0,222.4h0.60v0.60h-0.60zM58.9,224.4h0.64v0.64h-0.64zM74.5,220.1h0.89v0.89h-0.89zM72.0,221.7h0.77v0.77h-0.77zM69.8,223.2h0.64v0.64h-0.64zM54.6,227.3h0.76v0.76h-0.76zM67.1,228.6h0.86v0.86h-0.86zM62.2,221.8h0.85v0.85h-0.85zM62.0,221.4h0.98v0.98h-0.98zM68.4,220.1h0.81v0.81h-0.81zM60.3,221.7h0.80v0.80h-0.80zM66.6,220.5h0.81v0.81h-0.81zM54.8,224.2h0.72v0.72h-0.72zM62.5,223.1h0.60v0.60h-0.60zM67.5,217.9h0.81v0.81h-0.81zM56.9,223.6h0.76v0.76h-0.76zM62.1,220.1h0.96v0.96h-0.96zM55.3,222.5h0.91v0.91h-0.91zM71.5,226.7h0.99v0.99h-0.99zM57.5,228.2h0.67v0.67h-0.67zM68.5,222.4h0.93v0.93h-0.93zM69.4,221.7h0.90v0.90h-0.90zM55.6,218.5h0.99v0.99h-0.99zM55.4,220.0h0.76v0.76h-0.76zM60.4,229.2h0.85v0.85h-0.85zM55.7,222.2h0.80v0.80h-0.80zM66.1,217.6h0.71v0.71h-0.71zM58.8,219.0h0.99v0.99h-0.99zM65.1,219.4h0.66v0.66h-0.66zM83.5,233.4h0.58v0.58h-0.58zM67.5,219.4h0.61v0.61h-0.61zM53.8,225.3h0.81v0.81h-0.81zM65.5,228.1h0.90v0.90h-0.90zM59.2,226.8h0.90v0.90h-0.90zM91.2,223.9h0.98v0.98h-0.98zM55.6,227.5h0.88v0.88h-0.88zM67.3,217.1h0.65v0.65h-0.65zM58.9,218.5h0.81v0.81h-0.81zM64.9,228.5h0.80v0.80h-0.80zM76.4,221.2h0.73v0.73h-0.73zM54.4,223.2h0.63v0.63h-0.63zM74.6,227.3h0.88v0.88h-0.88zM59.9,225.6h0.93v0.93h-0.93zM57.4,225.6h0.60v0.60h-0.60zM54.2,222.7h0.79v0.79h-0.79zM77.4,223.6h0.80v0.80h-0.80zM53.2,224.0h0.92v0.92h-0.92zM53.2,219.1h0.93v0.93h-0.93zM70.6,219.8h0.71v0.71h-0.71zM63.5,229.2h0.98v0.98h-0.98zM58.2,223.7h0.94v0.94h-0.94zM70.7,226.5h0.93v0.93h-0.93zM73.4,225.6h0.93v0.93h-0.93zM54.7,215.9h1.00v1.00h-1.00zM78.2,222.6h0.64v0.64h-0.64zM63.8,225.8h0.70v0.70h-0.70zM64.2,222.3h0.99v0.99h-0.99zM61.4,223.6h0.90v0.90h-0.90z" fill="#000" fill-opacity="0.5"/>
<path d="M81.1,243.0h0.89v0.89h-0.89zM82.6,230.2h0.96v0.96h-0.96zM90.1,251.1h0.72v0.72h-0.72zM86.1,253.9h0.93v0.93h-0.93zM84.6,266.0h0.85v0.85h-0.85zM84.6,250.5h0.73v0.73h-0.73zM85.8,247.3h0.85v0.85h-0.85zM83.7,242.9h0.96v0.96h-0.96zM83.9,235.2h0.98v0.98h-0.98zM85.9,273.8h0.69v0.69h-0.69zM82.3,219.7h0.89v0.89h-0.89zM83.8,252.0h0.98v0.98h-0.98zM88.0,255.2h0.69v0.69h-0.69zM84.6,251.4h0.76v0.76h-0.76zM87.0,243.0h0.64v0.64h-0.64zM89.5,249.1h0.77v0.77h-0.77zM85.4,253.9h0.77v0.77h-0.77zM88.4,265.5h0.81v0.81h-0.81zM90.1,260.3h0.91v0.91h-0.91zM87.0,256.1h0.61v0.61h-0.61zM79.4,240.4h0.87v0.87h-0.87zM83.9,232.8h0.99v0.99h-0.99zM85.3,255.4h0.89v0.89h-0.89zM84.5,259.7h0.72v0.72h-0.72zM88.5,249.6h0.67v0.67h-0.67zM83.2,249.2h0.91v0.91h-0.91zM85.9,250.3h0.92v0.92h-0.92zM93.6,233.8h0.57v0.57h-0.57zM84.4,241.9h0.72v0.72h-0.72zM81.1,242.3h0.88v0.88h-0.88zM86.2,248.5h0.81v0.81h-0.81zM86.7,261.5h0.89v0.89h-0.89zM87.2,255.1h0.56v0.56h-0.56zM91.1,259.6h0.72v0.72h-0.72zM83.8,249.3h0.83v0.83h-0.83zM84.1,255.3h0.89v0.89h-0.89z" fill="#000" fill-opacity="1.0"/>
<path d="M81.3,240.8h0.89v0.89h-0.89zM93.4,255.0h0.59v0.59h-0.59zM80.5,242.6h0.99v0.99h-0.99zM90.3,254.5h0.90v0.90h-0.90zM88.7,238.5h0.55v0.55h-0.55zM85.4,239.2h0.78v0.78h-0.78zM84.8,244.6h0.86v0.86h-0.86zM86.1,265.8h0.78v0.78h-0.78zM89.0,235.6h0.93v0.93h-0.93zM86.6,272.4h0.72v0.72h-0.72zM87.3,251.9h0.76v0.76h-0.76zM87.6,258.4h0.90v0.90h-0.90zM86.6,248.4h0.57v0.57h-0.57zM88.4,234.1h0.77v0.77h-0.77zM85.9,232.1h0.65v0.65h-0.65zM89.1,237.0h0.83v0.83h-0.83zM85.1,252.7h0.64v0.64h-0.64zM85.4,264.7h0.62v0.62h-0.62zM83.2,225.0h0.71v0.71h-0.71zM86.1,265.9h0.57v0.57h-0.57zM86.9,227.7h0.69v0.69h-0.69zM85.7,236.3h0.69v0.69h-0.69zM87.3,247.2h0.68v0.68h-0.68zM87.3,253.9h0.63v0.63h-0.63zM94.1,252.4h0.86v0.86h-0.86zM86.7,244.7h0.98v0.98h-0.98zM89.0,246.1h0.73v0.73h-0.73zM84.9,254.0h0.56v0.56h-0.56zM83.6,254.9h0.87v0.87h-0.87zM78.6,238.4h0.88v0.88h-0.88zM88.1,237.5h0.72v0.72h-0.72zM81.7,232.4h0.94v0.94h-0.94zM89.0,242.2h0.88v0.88h-0.88zM84.4,249.6h0.67v0.67h-0.67zM88.4,261.2h0.97v0.97h-0.97zM85.3,246.8h0.83v0.83h-0.83zM81.7,242.9h0.79v0.79h-0.79zM88.8,251.0h0.73v0.73h-0.73zM83.7,239.3h0.70v0.70h-0.70zM89.3,239.2h0.68v0.68h-0.68zM86.1,244.5h0.61v0.61h-0.61z" fill="#000" fill-opacity="0.75"/>
<path d="M89.6,233.9h0.85v0.85h-0.85zM85.4,266.8h0.65v0.65h-0.65zM89.0,263.2h0.56v0.56h-0.56zM87.3,235.6h0.80v0.80h-0.80zM84.9,252.3h0.73v0.73h-0.73zM81.2,234.9h0.88v0.88h-0.88zM88.2,246.0h0.75v0.75h-0.75zM84.8,251.7h0.71v0.71h-0.71zM85.0,241.7h0.91v0.91h-0.91zM87.5,256.5h0.90v0.90h-0.90zM91.4,268.7h0.78v0.78h-0.78zM87.5,246.3h0.64v0.64h-0.64zM88.3,236.9h0.55v0.55h-0.55zM83.4,255.0h0.56v0.56h-0.56zM85.6,235.3h0.60v0.60h-0.60zM84.1,246.8h0.78v0.78h-0.78zM85.7,244.7h0.60v0.60h-0.60zM86.3,274.4h0.69v0.69h-0.69zM85.8,253.5h0.66v0.66h-0.66zM90.3,223.0h0.72v0.72h-0.72zM86.0,231.6h0.98v0.98h-0.98zM85.2,244.6h0.97v0.97h-0.97zM84.1,251.5h0.57v0.57h-0.57zM82.9,249.2h0.65v0.65h-0.65zM84.6,265.9h0.99v0.99h-0.99zM81.6,235.9h0.90v0.90h-0.90zM86.1,244.9h0.84v0.84h-0.84zM83.0,238.9h0.66v0.66h-0.66zM88.1,252.9h0.62v0.62h-0.62zM84.4,231.2h0.63v0.63h-0.63zM82.1,231.3h0.70v0.70h-0.70zM84.9,249.1h0.99v0.99h-0.99zM87.0,223.3h0.76v0.76h-0.76zM88.2,251.9h0.93v0.93h-0.93zM87.6,231.0h0.56v0.56h-0.56zM84.4,253.7h0.75v0.75h-0.75zM87.5,261.9h0.62v0.62h-0.62zM84.7,254.4h0.81v0.81h-0.81zM85.5,255.1h0.69v0.69h-0.69zM86.9,252.5h1.00v1.00h-1.00zM88.3,238.8h0.79v0.79h-0.79zM84.1,249.8h0.98v0.98h-0.98zM84.6,260.7h0.78v0.78h-0.78z" fill="#000" fill-opacity="0.5"/>
<path d="M89.6,196.7h0.65v0.65h-0.65zM49.2,205.4h0.68v0.68h-0.68zM91.0,205.1h0.70v0.70h-0.70zM68.6,204.4h0.69v0.69h-0.69zM65.6,200.5h0.69v0.69h-0.69zM56.5,205.8h0.68v0.68h-0.68zM64.2,207.4h0.47v0.47h-0.47z" fill="#000" fill-opacity="1.0"/>
<path d="M58.3,213.3h0.78v0.78h-0.78zM55.1,207.8h0.55v0.55h-0.55zM70.6,206.4h0.73v0.73h-0.73zM59.3,210.3h0.76v0.76h-0.76zM69.5,199.8h0.68v0.68h-0.68zM80.5,206.1h0.40v0.40h-0.40zM63.6,203.1h0.48v0.48h-0.48zM92.9,209.0h0.70v0.70h-0.70zM44.6,212.1h0.51v0.51h-0.51zM46.5,203.8h0.47v0.47h-0.47zM86.4,213.4h0.46v0.46h-0.46z" fill="#000" fill-opacity="0.75"/>
<path d="M74.5,200.7h0.60v0.60h-0.60zM57.0,206.4h0.47v0.47h-0.47zM53.3,203.0h0.78v0.78h-0.78zM40.6,203.2h0.60v0.60h-0.60zM71.9,209.2h0.43v0.43h-0.43zM83.8,212.2h0.47v0.47h-0.47zM56.8,205.2h0.43v0.43h-0.43z" fill="#000" fill-opacity="0.5"/>
<path d="M63.8,199.1h0.72v0.72h-0.72z" fill="#c06060" fill-opacity="1.0"/>
<path d="M87.2,205.4h0.65v0.65h-0.65zM64.6,210.0h0.79v0.79h-0.79zM44.9,198.0h0.52v0.52h-0.52zM76.6,204.0h0.64v0.64h-0.64z" fill="#c06060" fill-opacity="0.75"/>
<path d="M78.6,198.2h0.65v0.65h-0.65zM74.0,201.5h0.55v0.55h-0.55zM76.2,206.5h0.41v0.41h-0.41z" fill="#c06060" fill-opacity="0.5"/>
<path d="M40.5,264.3 39.3,264.3 38.0,263.9 36.8,263.2 35.5,262.0 32.4,257.2 30.2,252.2 28.6,244.8 28.7,240.0 28.6,238.5 26.0,230.2 26.3,225.0 27.9,220.5 28.6,219.2 30.3,217.0 32.0,215.4 34.0,214.2 36.0,213.7 37.8,213.7 42.3,214.1 44.3,214.8 46.6,216.2 48.1,217.8 50.1,220.8 50.9,223.0 51.5,225.5 51.7,231.0 50.6,236.8 50.4,240.0 50.9,246.0 50.9,249.0 50.6,251.8 49.2,257.0 48.7,258.2 47.9,259.5 44.8,262.6 42.8,263.8 40.5,264.3 M40.8,261.3 38.8,261.1 37.3,260.2 35.1,257.5 33.7,255.2 32.2,251.0 30.7,245.0 30.5,243.2 30.5,240.0 30.3,238.5 27.9,231.5 27.5,229.8 27.6,228.0 28.1,224.8 29.3,221.2 30.1,219.8 31.5,218.0 33.0,216.7 34.8,215.8 36.5,215.4 39.0,215.4 42.0,215.8 43.5,216.4 45.3,217.5 47.0,219.2 48.5,221.5 49.5,223.8 49.9,226.0 49.9,230.8 48.8,236.5 48.4,239.8 48.8,248.5 48.4,251.5 47.0,256.2 45.9,258.2 44.8,259.4 43.5,260.3 42.3,260.9 40.8,261.3 M41.3,258.0 39.5,258.1 38.3,257.5 37.3,256.2 35.6,253.2 32.7,244.2 32.1,239.0 29.4,231.8 28.9,229.8 28.9,228.0 29.4,225.2 30.4,222.2 31.3,220.5 32.3,219.2 33.8,218.0 35.5,217.2 37.0,216.9 39.3,216.9 41.5,217.2 42.8,217.6 44.3,218.6 45.8,220.1 47.1,222.0 48.2,224.2 48.6,226.2 48.4,230.8 46.4,240.0 46.6,248.5 46.4,250.0 45.1,253.0 44.2,256.2 43.0,257.3 41.3,258.0 M40.8,253.0 40.3,253.0 39.5,252.5 38.3,251.1 37.8,250.2 36.9,247.8 35.2,244.2 34.7,242.8 34.2,239.5 31.8,234.8 30.4,230.8 30.2,229.2 30.2,227.8 30.7,225.5 31.8,222.5 32.5,221.1 33.5,220.0 34.8,219.1 36.3,218.5 37.8,218.2 39.5,218.2 41.3,218.5 42.5,219.1 43.8,219.9 45.1,221.2 46.2,223.0 47.0,224.8 47.4,226.5 47.2,230.2 46.2,234.8 44.2,240.2 44.2,244.2 43.6,249.2 43.2,250.2 42.0,251.9 41.3,252.8 40.8,253.0 M40.0,241.8 39.0,241.8 38.0,241.1 33.7,235.5 32.7,233.5 31.5,229.2 31.5,227.8 31.8,226.2 32.7,224.0 33.6,222.2 34.4,221.2 35.5,220.5 36.8,219.9 38.3,219.6 39.8,219.6 41.0,219.9 42.0,220.4 43.3,221.3 44.4,222.5 45.2,223.8 45.9,225.2 46.1,226.5 45.8,230.5 44.4,235.5 43.8,236.8 41.0,241.0 40.0,241.8 M40.0,237.3 39.0,237.3 38.0,237.0 36.5,236.0 35.3,234.8 34.0,232.6 33.2,230.5 32.9,229.0 33.0,227.8 33.4,226.2 34.1,224.5 34.8,223.3 35.5,222.5 36.5,221.8 37.5,221.4 38.8,221.1 40.8,221.4 41.8,221.9 42.8,222.6 44.2,224.5 44.8,226.8 44.5,230.0 43.2,233.8 41.8,236.0 40.8,236.9 40.0,237.3 M39.8,234.5 39.0,234.7 38.3,234.6 37.5,234.3 36.8,233.6 35.0,230.5 34.5,228.8 34.9,226.5 35.9,224.5 37.4,223.2 39.3,222.7 40.8,222.9 42.0,223.8 43.0,225.2 43.4,227.0 43.2,229.2 42.3,231.7 41.1,233.5 39.8,234.5 M39.5,231.5 38.5,231.5 37.5,230.8 36.5,229.5 36.2,228.2 36.4,226.8 37.0,225.5 38.0,224.7 39.3,224.3 40.3,224.5 41.0,225.1 41.6,226.0 41.9,227.2 41.8,228.5 41.3,229.8 40.5,230.8 39.5,231.5" fill="none" stroke="#000" stroke-width="0.75" stroke-opacity="0.95" stroke-linejoin="round"/>
<path d="M54,277 L54,250 Q55,234 69.5,233.5 Q85,234 85.5,250 L85.5,277Z" fill="#777" fill-opacity="0.25"/>
<path d="M56.9,280.5 55.7,270.0 56.0,266.5 55.8,261.5 56.3,258.2 56.0,255.2 56.2,254.2 57.2,251.5 58.0,246.2 58.5,245.0 59.5,243.2 60.4,240.5 61.0,239.7 63.3,237.8 65.3,234.5 66.5,233.7 68.5,232.8 69.3,232.7 70.0,232.9 73.3,234.4 76.5,237.4 77.8,238.8 78.4,239.8 80.5,244.2 81.8,248.5 82.9,251.2 83.2,252.8 83.3,256.0 84.0,261.0 84.6,269.2 84.5,270.8 83.9,273.8 84.0,280.5 M57.9,280.5 57.0,274.2 56.7,270.8 56.6,261.8 57.1,258.2 57.1,255.0 58.0,251.8 59.0,247.2 59.5,245.8 61.1,243.2 61.8,241.2 62.5,240.2 65.5,237.3 66.8,236.3 68.3,235.7 70.3,235.4 71.5,235.6 72.5,236.1 75.8,238.7 76.8,239.8 79.5,245.0 80.5,248.0 82.0,251.8 82.3,253.0 82.3,256.0 83.0,260.8 83.7,269.8 83.2,273.2 82.6,280.5 M58.8,280.5 58.2,277.0 57.7,272.5 57.4,263.0 57.5,261.0 58.0,258.2 58.2,255.2 59.7,249.2 60.7,246.2 62.4,244.0 63.6,241.8 64.4,240.8 65.8,239.4 66.8,238.8 69.8,237.6 70.8,237.4 71.5,237.6 72.3,238.0 75.0,240.1 75.9,241.0 78.5,245.8 81.0,252.0 81.3,256.2 82.1,261.5 82.7,269.8 82.3,275.2 81.5,280.5 M59.8,280.5 59.1,277.2 58.6,272.5 58.5,268.8 58.1,264.2 58.3,261.2 59.0,258.2 59.3,254.8 59.9,252.0 61.7,247.2 64.8,242.7 66.3,241.2 67.5,240.4 68.8,240.0 70.5,239.8 71.5,239.9 72.5,240.3 74.1,241.2 75.0,242.2 77.7,246.5 79.1,249.5 79.7,251.5 80.1,253.5 80.4,257.0 81.4,262.5 81.8,269.2 81.5,274.5 80.7,280.5 M60.8,280.5 60.2,277.2 59.5,272.2 59.4,268.8 58.9,264.5 59.1,261.5 60.1,257.5 60.8,252.8 61.5,250.8 62.5,248.5 65.5,244.0 66.5,243.1 67.8,242.4 69.0,242.0 70.5,241.9 72.5,242.3 74.0,243.4 76.8,247.3 77.8,249.2 78.3,250.8 80.7,264.0 80.8,269.0 80.6,274.0 79.7,280.5 M61.9,280.5 60.4,271.8 59.7,264.8 59.9,261.8 61.2,257.0 61.7,253.2 62.8,250.5 66.6,245.0 68.0,244.0 69.5,243.8 71.5,244.1 73.0,245.1 76.0,248.7 76.8,250.0 77.1,251.0 78.2,255.5 78.8,260.0 79.6,262.8 79.8,264.0 79.9,269.5 78.8,280.5 M63.0,280.5 61.2,271.0 60.5,264.8 60.6,262.5 62.1,256.8 62.6,253.5 63.2,252.0 64.2,250.5 67.5,246.7 68.3,246.1 69.3,245.9 70.8,246.3 72.0,246.9 75.1,250.2 75.9,251.5 77.4,256.0 78.0,260.5 78.9,263.5 78.8,266.5 79.1,269.0 77.9,280.5 M64.2,280.5 63.8,279.2 63.4,276.0 62.0,270.2 61.5,264.5 61.5,263.2 63.3,256.5 63.6,254.2 64.1,253.0 65.0,251.7 67.3,249.6 68.5,248.8 69.8,248.5 71.3,249.1 73.0,250.5 74.0,251.5 76.0,255.8 76.4,257.0 77.6,263.2 77.6,266.0 78.1,269.2 77.8,271.8 76.9,276.5 77.0,279.2 76.8,280.5 M65.8,280.5 65.0,279.0 64.2,275.0 62.9,270.5 62.7,267.8 62.6,263.8 63.3,261.5 63.7,259.0 65.2,254.0 66.0,253.0 68.0,251.2 68.9,250.8 69.8,250.5 70.5,250.6 71.5,251.1 72.4,251.8 73.0,252.5 74.9,257.2 76.2,261.2 76.3,262.8 76.3,265.5 77.0,268.8 77.1,270.2 76.7,273.0 75.6,276.5 75.7,279.5 75.5,280.5 M68.8,280.5 66.5,278.4 65.8,277.0 65.0,273.8 63.8,270.2 63.7,265.0 64.8,259.5 66.5,255.8 67.3,254.8 68.8,253.3 69.5,252.8 70.3,252.6 71.0,252.9 71.8,253.7 75.0,261.0 75.3,262.2 75.2,265.0 76.2,269.5 76.2,271.0 75.9,272.5 75.5,273.8 74.2,276.5 73.9,279.5 73.5,280.5 M71.5,279.8 70.8,280.0 70.1,279.5 68.4,277.0 66.8,275.5 64.8,270.8 64.5,269.5 64.8,265.0 65.8,259.9 67.8,256.7 68.8,255.7 69.8,255.3 70.8,255.6 71.7,256.5 72.2,257.5 72.8,259.7 74.0,261.5 74.3,262.5 74.2,264.8 75.1,268.0 75.3,269.8 75.3,271.2 74.9,272.8 74.2,274.0 72.4,276.2 72.2,278.8 71.5,279.8 M71.0,274.0 69.3,274.0 68.0,273.4 66.0,270.9 65.6,269.5 65.8,266.5 66.8,261.2 67.5,260.1 68.3,259.6 69.0,259.3 69.8,259.4 70.3,259.7 72.5,262.0 72.9,262.8 73.1,264.8 74.1,268.0 74.1,270.2 73.5,272.2 72.5,273.4 71.0,274.0 M71.5,271.4 70.8,271.5 68.0,270.8 67.2,270.2 66.8,269.5 66.9,267.5 68.1,263.8 68.5,262.9 69.3,262.4 70.3,262.5 71.0,263.2 73.0,267.2 73.1,268.5 72.9,269.5 72.3,270.7 71.5,271.4" fill="none" stroke="#000" stroke-width="0.75" stroke-opacity="0.95" stroke-linejoin="round"/>
<rect x="53.5" y="274.8" width="32.5" height="2" fill="#111"/>
</g>
<rect x="50.9" y="244.4" width="38.0" height="31.9" fill="none" stroke="#9a9a9a" stroke-width="1.1"/>
<rect x="16.3" y="243.8" width="34.6" height="32.4" fill="none" stroke="#6a4fa6" stroke-width="1.2"/>
<rect x="50.9" y="214.8" width="38.0" height="29.6" fill="none" stroke="#79d3e3" stroke-width="1.2"/>
<rect x="16.3" y="194.3" width="21.5" height="23.2" fill="none" stroke="#d0393a" stroke-width="1.2"/>
<rect x="23.3" y="214.6" width="27.6" height="29.2" fill="none" stroke="#2f2fb0" stroke-width="1.5"/>
<path d="M15.8,276.6 L15.8,166.5 L126.0,166.5 L126.0,276.6" fill="none" stroke="#8c8c8c" stroke-width="0.9"/>
<line x1="126.00" y1="166.50" x2="126.00" y2="276.60" stroke="#909090" stroke-width="1.4" />
<line x1="15.80" y1="276.60" x2="126.00" y2="276.60" stroke="#9a9a9a" stroke-width="0.9" />
<path d="M12.0,281.6 L12.0,247.6 M8.4,253.2 L12.0,247.4 L15.6,253.2" fill="none" stroke="#000" stroke-width="1.5"/>
<path d="M11.3,281.6 L47.0,281.6 M41.4,278.0 L47.2,281.6 L41.4,285.2" fill="none" stroke="#000" stroke-width="1.5"/>
<text transform="translate(14.0,228.0) rotate(-90)" font-size="8.4" text-anchor="middle" fill="#111">CD27</text>
<text x="55.20" y="285.80" font-size="8.6" text-anchor="start" font-weight="normal" fill="#111" >IgD</text>
<g clip-path="url(#clipE)">
<path d="M298.0,224.3h0.86v0.86h-0.86zM303.5,263.3h0.65v0.65h-0.65zM299.2,216.3h0.97v0.97h-0.97zM302.2,234.7h0.95v0.95h-0.95zM298.5,270.2h0.82v0.82h-0.82zM303.2,268.8h0.67v0.67h-0.67zM302.1,238.0h0.86v0.86h-0.86zM301.5,221.1h0.68v0.68h-0.68zM298.9,223.0h0.95v0.95h-0.95zM298.1,223.6h0.74v0.74h-0.74zM303.4,256.0h0.70v0.70h-0.70zM304.4,269.3h0.64v0.64h-0.64zM301.9,265.4h0.93v0.93h-0.93zM298.6,274.7h0.60v0.60h-0.60zM300.6,229.3h0.97v0.97h-0.97zM300.6,247.8h0.66v0.66h-0.66zM300.2,267.7h0.79v0.79h-0.79zM299.6,264.9h0.89v0.89h-0.89zM297.4,247.0h0.92v0.92h-0.92zM303.2,269.5h0.86v0.86h-0.86zM300.6,242.7h0.79v0.79h-0.79zM302.6,242.3h0.91v0.91h-0.91zM297.7,255.2h0.62v0.62h-0.62zM298.3,249.8h0.74v0.74h-0.74zM302.6,215.7h0.62v0.62h-0.62zM303.2,250.4h0.58v0.58h-0.58zM297.8,260.8h0.76v0.76h-0.76zM299.3,248.4h0.81v0.81h-0.81zM302.1,252.0h0.67v0.67h-0.67z" fill="#000" fill-opacity="1.0"/>
<path d="M300.2,242.0h0.90v0.90h-0.90zM303.7,256.5h0.74v0.74h-0.74zM301.3,217.9h0.79v0.79h-0.79zM302.0,265.1h0.79v0.79h-0.79zM302.9,251.1h0.80v0.80h-0.80zM301.6,247.7h0.82v0.82h-0.82zM302.1,228.0h0.81v0.81h-0.81zM301.6,270.9h0.73v0.73h-0.73zM300.5,224.6h0.59v0.59h-0.59zM301.1,269.4h0.93v0.93h-0.93zM299.1,260.5h0.60v0.60h-0.60zM302.2,261.8h0.59v0.59h-0.59zM300.1,246.9h0.70v0.70h-0.70zM303.3,258.3h0.90v0.90h-0.90zM300.9,267.2h0.58v0.58h-0.58zM299.2,237.6h0.80v0.80h-0.80zM301.7,246.1h0.74v0.74h-0.74zM301.0,268.7h0.81v0.81h-0.81zM303.7,270.1h0.83v0.83h-0.83zM300.3,222.1h0.85v0.85h-0.85zM302.7,216.1h0.57v0.57h-0.57zM299.9,245.4h0.68v0.68h-0.68zM298.8,271.8h0.92v0.92h-0.92zM297.8,255.3h0.63v0.63h-0.63zM302.0,247.2h0.87v0.87h-0.87zM301.3,260.0h0.73v0.73h-0.73zM300.4,217.4h0.96v0.96h-0.96zM301.7,261.6h0.95v0.95h-0.95zM300.1,214.8h0.98v0.98h-0.98zM297.8,241.5h0.57v0.57h-0.57zM297.8,231.7h0.76v0.76h-0.76zM302.2,238.3h0.74v0.74h-0.74zM300.3,261.2h0.74v0.74h-0.74zM302.3,240.8h0.59v0.59h-0.59z" fill="#000" fill-opacity="0.75"/>
<path d="M300.8,264.9h0.66v0.66h-0.66zM300.1,219.2h0.92v0.92h-0.92zM300.7,247.4h0.69v0.69h-0.69zM303.1,264.7h0.72v0.72h-0.72zM298.6,255.1h0.88v0.88h-0.88zM302.2,241.2h0.71v0.71h-0.71zM300.3,259.6h0.88v0.88h-0.88zM297.8,264.8h0.70v0.70h-0.70zM299.0,236.8h0.73v0.73h-0.73zM297.8,221.1h0.82v0.82h-0.82zM299.7,242.3h0.70v0.70h-0.70zM300.4,273.2h0.83v0.83h-0.83zM302.8,254.3h0.57v0.57h-0.57zM298.5,264.6h0.93v0.93h-0.93zM303.8,274.5h0.79v0.79h-0.79zM299.5,244.8h0.68v0.68h-0.68zM297.8,222.4h0.64v0.64h-0.64zM303.7,265.2h0.64v0.64h-0.64zM302.6,238.2h0.87v0.87h-0.87zM299.3,226.6h0.79v0.79h-0.79zM303.2,246.5h0.63v0.63h-0.63zM302.9,241.5h0.82v0.82h-0.82zM303.4,267.6h0.58v0.58h-0.58zM300.2,226.9h0.59v0.59h-0.59zM297.7,256.6h0.61v0.61h-0.61zM297.9,255.1h0.75v0.75h-0.75zM297.9,251.4h0.71v0.71h-0.71zM302.1,243.0h0.90v0.90h-0.90zM298.1,273.4h0.67v0.67h-0.67zM301.1,254.3h0.85v0.85h-0.85zM301.3,229.6h0.82v0.82h-0.82zM299.0,270.6h0.80v0.80h-0.80zM299.3,237.0h0.61v0.61h-0.61zM300.9,264.7h0.86v0.86h-0.86zM302.4,249.7h0.65v0.65h-0.65zM300.7,273.5h0.89v0.89h-0.89zM299.0,248.2h0.57v0.57h-0.57zM301.2,274.3h0.73v0.73h-0.73zM298.9,241.2h0.83v0.83h-0.83zM303.7,270.5h0.80v0.80h-0.80zM300.2,237.5h0.84v0.84h-0.84zM299.5,217.9h0.69v0.69h-0.69zM301.2,255.1h0.95v0.95h-0.95zM301.0,215.8h0.90v0.90h-0.90zM299.9,263.9h0.65v0.65h-0.65zM302.6,269.2h0.95v0.95h-0.95zM302.4,232.9h0.80v0.80h-0.80z" fill="#000" fill-opacity="0.5"/>
<path d="M317.8,204.8h0.79v0.79h-0.79zM321.0,210.0h0.88v0.88h-0.88zM322.9,208.3h0.57v0.57h-0.57zM316.1,204.1h0.63v0.63h-0.63zM314.8,204.0h0.68v0.68h-0.68zM326.5,200.7h0.81v0.81h-0.81zM313.4,204.5h0.87v0.87h-0.87zM332.6,204.3h0.77v0.77h-0.77zM319.8,209.9h0.57v0.57h-0.57zM318.5,204.0h0.93v0.93h-0.93zM319.1,199.0h0.57v0.57h-0.57zM313.2,201.9h0.97v0.97h-0.97zM312.4,197.4h0.73v0.73h-0.73zM317.5,207.4h0.99v0.99h-0.99zM321.5,208.7h0.92v0.92h-0.92zM323.4,208.1h0.90v0.90h-0.90zM317.8,208.0h0.91v0.91h-0.91zM326.2,207.3h0.93v0.93h-0.93zM323.3,207.4h0.76v0.76h-0.76zM311.8,200.2h0.92v0.92h-0.92zM301.9,200.7h0.80v0.80h-0.80zM306.2,209.0h0.82v0.82h-0.82z" fill="#000" fill-opacity="1.0"/>
<path d="M315.4,200.7h0.98v0.98h-0.98zM319.9,205.0h0.90v0.90h-0.90zM326.7,204.7h0.93v0.93h-0.93zM325.0,210.4h0.60v0.60h-0.60zM315.7,205.8h0.79v0.79h-0.79zM321.5,200.1h0.80v0.80h-0.80zM314.8,204.4h0.67v0.67h-0.67zM320.3,201.7h0.87v0.87h-0.87zM313.5,207.2h0.91v0.91h-0.91zM309.8,208.2h0.56v0.56h-0.56zM323.6,207.4h0.69v0.69h-0.69zM319.9,210.3h0.94v0.94h-0.94zM320.0,201.5h0.79v0.79h-0.79zM326.9,206.0h0.99v0.99h-0.99zM320.8,201.0h0.61v0.61h-0.61zM306.7,207.1h0.95v0.95h-0.95zM324.7,203.6h0.72v0.72h-0.72zM320.7,208.9h0.93v0.93h-0.93zM324.3,209.8h0.84v0.84h-0.84zM311.0,199.5h0.71v0.71h-0.71z" fill="#000" fill-opacity="0.75"/>
<path d="M310.1,204.6h0.91v0.91h-0.91zM328.1,195.3h0.81v0.81h-0.81zM316.8,207.7h0.56v0.56h-0.56zM321.4,199.1h0.62v0.62h-0.62zM325.1,202.2h0.65v0.65h-0.65zM313.9,201.6h0.99v0.99h-0.99zM319.8,207.7h0.63v0.63h-0.63zM321.3,206.2h0.64v0.64h-0.64zM323.7,206.3h0.97v0.97h-0.97zM313.9,203.5h0.63v0.63h-0.63zM323.1,207.5h0.74v0.74h-0.74zM309.9,204.9h0.87v0.87h-0.87zM333.0,207.1h0.64v0.64h-0.64zM320.6,204.4h0.93v0.93h-0.93zM322.9,205.0h0.58v0.58h-0.58zM320.5,209.9h0.64v0.64h-0.64zM317.5,207.7h0.88v0.88h-0.88zM317.6,203.3h0.68v0.68h-0.68zM320.1,206.7h0.55v0.55h-0.55zM319.6,208.9h0.88v0.88h-0.88zM312.0,201.2h0.76v0.76h-0.76zM304.0,205.0h0.84v0.84h-0.84zM315.3,202.0h0.86v0.86h-0.86zM321.7,205.8h0.72v0.72h-0.72zM303.8,206.1h0.75v0.75h-0.75zM312.2,207.6h0.80v0.80h-0.80zM323.8,207.3h0.61v0.61h-0.61zM317.7,204.2h0.68v0.68h-0.68z" fill="#000" fill-opacity="0.5"/>
<path d="M329.4,270.1h0.58v0.58h-0.58zM327.5,257.8h0.99v0.99h-0.99zM325.5,216.3h0.86v0.86h-0.86zM328.7,263.7h0.71v0.71h-0.71zM322.5,275.2h0.65v0.65h-0.65zM326.9,246.1h0.86v0.86h-0.86zM327.0,224.8h0.56v0.56h-0.56zM330.2,231.2h0.93v0.93h-0.93zM330.7,255.8h0.79v0.79h-0.79zM326.3,239.0h0.74v0.74h-0.74zM329.4,209.5h0.93v0.93h-0.93zM331.1,213.2h0.60v0.60h-0.60zM326.8,219.1h0.80v0.80h-0.80zM323.0,271.6h0.96v0.96h-0.96zM331.6,268.8h0.84v0.84h-0.84z" fill="#000" fill-opacity="1.0"/>
<path d="M330.7,239.7h0.80v0.80h-0.80zM330.5,211.2h0.62v0.62h-0.62zM329.5,244.7h0.62v0.62h-0.62zM329.7,271.5h0.98v0.98h-0.98zM328.0,251.1h0.96v0.96h-0.96zM326.6,226.2h0.98v0.98h-0.98zM326.6,206.0h0.86v0.86h-0.86zM331.3,223.7h0.65v0.65h-0.65zM331.5,243.4h0.76v0.76h-0.76zM330.2,246.3h0.96v0.96h-0.96zM325.9,218.8h0.83v0.83h-0.83zM329.4,221.8h0.55v0.55h-0.55zM327.0,235.6h0.63v0.63h-0.63zM328.2,210.8h0.66v0.66h-0.66zM327.7,262.9h0.84v0.84h-0.84z" fill="#000" fill-opacity="0.75"/>
<path d="M325.3,269.0h0.85v0.85h-0.85zM328.2,238.8h0.82v0.82h-0.82zM330.7,224.7h0.56v0.56h-0.56zM330.9,274.8h0.94v0.94h-0.94zM324.6,274.7h0.87v0.87h-0.87zM326.8,245.4h0.57v0.57h-0.57zM330.6,213.3h0.87v0.87h-0.87zM329.7,239.0h0.77v0.77h-0.77zM330.7,223.1h0.69v0.69h-0.69zM329.3,231.2h0.71v0.71h-0.71z" fill="#000" fill-opacity="0.5"/>
<path d="M339.6,221.0h0.78v0.78h-0.78zM341.1,211.2h0.46v0.46h-0.46zM333.1,186.5h0.76v0.76h-0.76zM348.7,216.4h0.63v0.63h-0.63z" fill="#000" fill-opacity="1.0"/>
<path d="M343.9,184.2h0.51v0.51h-0.51zM354.4,213.5h0.55v0.55h-0.55zM340.0,216.4h0.54v0.54h-0.54zM336.9,188.8h0.69v0.69h-0.69zM327.9,227.8h0.59v0.59h-0.59zM336.9,206.0h0.71v0.71h-0.71zM348.0,189.4h0.75v0.75h-0.75z" fill="#000" fill-opacity="0.75"/>
<path d="M355.0,219.9h0.57v0.57h-0.57zM355.6,178.5h0.78v0.78h-0.78zM355.9,203.7h0.66v0.66h-0.66z" fill="#000" fill-opacity="0.5"/>
<path d="M304.5,277 L304.3,216 Q306,209 315,208.5 Q325,209 325.8,216 L325.8,277Z" fill="#555" fill-opacity="0.3" filter="url(#bl2)"/>
<path d="M306.5,250 L306.5,218 Q308,212 315,211.5 Q323,212 324,218 L324,250Z" fill="#333" fill-opacity="0.35" filter="url(#bl2)"/>
<path d="M310.8,279.9 310.0,278.4 308.3,276.4 307.0,273.7 306.8,272.7 306.8,270.4 305.7,268.2 305.4,267.2 305.3,264.9 304.7,262.2 305.3,258.4 304.7,254.7 304.7,250.4 304.1,247.4 303.5,239.2 302.9,235.9 302.9,229.4 303.3,224.7 303.9,219.9 304.9,216.7 305.6,213.2 306.3,212.2 309.6,209.3 311.1,208.8 313.3,208.5 316.6,208.9 319.6,209.9 321.1,210.9 322.8,213.0 323.5,214.4 324.0,217.2 325.4,219.2 325.8,220.2 326.4,225.9 327.1,229.7 327.2,232.4 326.7,235.7 326.5,238.9 326.6,242.2 326.0,244.9 326.3,247.9 325.6,251.9 325.6,254.2 325.9,257.2 324.9,260.9 324.9,265.9 323.4,271.2 321.9,274.7 321.1,277.7 319.2,279.9 M315.0,279.9 312.5,278.9 310.0,276.2 308.7,272.7 308.2,270.2 307.1,267.7 306.8,264.9 306.1,262.2 306.6,258.2 305.6,253.9 305.5,249.9 305.0,247.2 304.8,243.7 303.6,234.9 303.5,228.9 304.4,220.9 304.7,219.4 306.2,214.7 307.3,213.1 310.3,210.4 311.8,209.7 313.6,209.3 316.3,209.7 318.6,210.7 320.0,211.7 322.2,214.2 322.7,215.2 323.3,217.4 324.6,219.4 325.0,220.4 326.4,229.7 326.4,232.4 325.8,238.5 325.8,241.9 325.1,244.9 325.2,248.4 324.4,251.9 324.4,256.9 323.8,260.2 323.8,263.4 323.6,265.9 322.0,271.4 320.2,276.2 317.6,279.9 M316.6,278.5 315.3,278.5 313.8,278.0 312.8,277.3 311.8,276.2 311.1,274.9 308.4,267.9 307.3,261.7 307.6,257.9 306.5,253.4 306.3,250.2 305.8,246.9 305.6,243.7 304.2,235.2 304.1,228.7 304.7,222.4 305.2,219.7 306.5,216.2 307.5,214.2 309.8,211.9 311.8,210.6 313.8,210.1 315.8,210.4 317.6,211.2 321.1,214.3 321.8,215.2 322.7,217.7 323.9,219.7 324.4,220.9 325.8,229.4 325.8,232.9 325.2,238.4 325.1,241.9 324.4,244.9 324.3,248.4 323.5,251.7 323.3,255.9 322.8,259.7 322.9,262.9 322.6,264.7 322.1,267.4 320.9,271.4 319.4,275.2 318.9,276.2 317.6,277.7 316.6,278.5 M316.1,276.8 315.3,276.9 314.6,276.6 313.6,275.9 312.7,274.9 312.1,273.7 309.3,267.4 309.0,263.9 308.5,261.2 308.6,257.5 307.5,253.2 307.2,249.9 306.6,246.9 306.3,243.2 305.0,236.2 304.6,229.7 304.7,227.4 305.5,221.2 305.9,219.4 307.2,216.2 308.4,214.4 310.3,212.6 312.3,211.4 314.1,210.9 315.6,211.2 317.0,211.9 320.6,215.1 321.2,215.9 323.7,221.2 324.5,224.4 325.1,229.2 325.1,233.7 324.6,238.7 324.4,241.7 323.7,244.9 323.4,248.4 322.7,251.4 322.5,255.4 322.0,259.2 321.7,264.2 321.0,267.4 319.4,272.7 318.0,275.2 317.1,276.2 316.1,276.8 M315.6,274.5 314.3,274.1 313.3,273.2 310.9,268.7 310.3,267.2 310.0,263.9 309.5,260.7 309.4,257.2 308.8,254.2 307.2,242.7 305.7,236.4 305.2,228.9 306.1,221.2 307.7,216.9 308.8,215.4 310.6,213.4 312.6,212.3 314.1,211.9 315.3,212.1 316.6,212.8 320.6,216.7 322.7,220.7 323.2,222.2 323.9,224.9 324.4,228.9 324.3,235.2 323.6,241.7 322.9,244.9 322.0,250.9 321.7,254.9 321.2,258.7 320.8,264.2 320.1,267.2 318.4,272.2 317.1,273.9 316.3,274.3 315.6,274.5 M315.8,272.7 314.6,272.5 313.6,271.6 311.7,268.2 311.2,266.7 310.3,260.7 310.2,257.2 309.6,254.2 309.1,248.9 308.1,242.2 307.2,239.4 306.5,236.7 305.8,228.7 306.7,221.7 307.2,219.9 308.2,217.7 309.2,216.2 311.1,214.2 312.6,213.3 314.1,213.0 315.3,213.2 316.3,213.7 319.4,216.4 320.2,217.4 322.2,221.4 322.8,223.2 323.3,225.4 323.7,228.7 323.7,235.2 322.8,241.7 321.4,248.2 321.0,254.7 320.0,263.7 319.4,266.4 317.8,271.0 316.9,272.2 315.8,272.7 M315.6,271.0 314.6,270.7 313.8,269.9 312.6,267.7 312.1,266.2 311.0,259.9 310.2,248.4 309.7,244.9 309.8,241.9 309.4,240.9 308.1,238.9 307.5,236.9 306.5,228.4 307.1,224.9 307.3,221.9 308.6,218.7 309.6,217.2 311.4,215.2 312.6,214.5 314.1,214.1 315.1,214.2 315.8,214.6 318.9,217.2 319.6,218.2 321.6,222.2 322.3,223.9 322.6,225.7 323.1,233.2 323.0,235.4 321.8,242.2 320.1,246.4 320.3,253.9 319.3,263.4 318.6,265.9 316.8,269.9 316.3,270.6 315.6,271.0 M315.3,268.3 314.8,268.2 314.3,267.9 313.4,266.4 311.7,259.7 311.3,251.7 311.4,245.9 311.6,244.4 312.3,242.2 312.3,241.4 311.5,240.2 309.4,238.4 308.7,237.2 308.1,234.5 307.3,228.4 307.8,225.2 308.1,222.2 309.2,219.4 310.3,217.8 311.8,216.2 313.1,215.5 314.3,215.3 315.3,215.5 316.1,215.9 318.2,217.7 321.2,223.4 321.8,225.7 322.3,233.4 322.1,235.7 320.9,240.2 320.6,242.4 320.1,243.4 318.9,245.2 318.7,245.9 319.4,253.7 318.6,262.4 318.0,264.7 317.4,265.9 316.3,267.5 315.3,268.3 M315.8,265.7 315.1,265.8 314.3,264.9 312.6,260.4 312.3,258.2 312.5,250.9 312.9,248.2 313.8,245.5 315.4,243.7 315.5,242.2 315.2,241.4 313.2,238.9 310.8,237.5 310.1,236.6 309.2,233.9 308.2,228.4 308.8,222.7 309.7,220.2 310.6,218.7 311.8,217.4 313.1,216.6 314.3,216.4 315.3,216.5 316.1,216.9 317.5,218.2 318.1,219.2 319.1,221.8 320.4,224.2 320.7,225.7 321.5,233.2 321.3,234.7 320.6,237.2 318.9,240.2 318.8,242.6 318.3,243.3 317.1,244.4 316.8,244.9 317.7,247.9 317.7,250.7 318.3,253.4 318.3,258.4 318.1,260.7 317.7,262.2 316.6,264.9 315.8,265.7 M312.1,234.0 311.6,233.9 311.1,233.4 309.6,229.9 309.4,227.9 309.6,222.7 310.4,220.4 311.6,218.7 313.1,217.6 314.8,217.4 316.1,217.9 316.9,218.9 319.2,224.4 319.8,228.2 320.0,232.9 319.6,233.7 319.1,233.8 318.3,233.4 316.6,231.8 315.3,231.6 313.9,232.2 312.1,234.0 M315.8,262.1 315.1,262.1 314.1,261.1 313.5,259.9 313.2,258.4 313.4,256.7 314.3,254.4 314.3,251.4 314.6,249.8 315.0,248.7 315.6,248.4 316.0,248.9 316.1,250.9 317.0,253.4 317.4,257.9 316.9,260.7 316.5,261.4 315.8,262.1 M314.6,230.0 313.3,230.1 312.3,230.0 311.6,229.6 311.2,229.2 310.8,227.9 310.5,223.9 310.7,221.9 311.6,219.9 312.8,218.8 314.3,218.4 315.6,218.8 316.6,220.2 317.9,224.2 318.3,226.9 318.2,228.2 317.7,228.9 316.8,229.4 314.6,230.0 M315.3,228.2 314.1,228.3 313.0,227.7 312.3,226.4 311.6,223.9 311.6,222.4 312.1,221.0 312.8,220.1 313.8,219.6 314.8,219.7 315.6,220.2 316.1,221.2 316.5,222.7 316.8,225.2 316.8,226.7 316.3,227.6 315.3,228.2 M314.6,224.8 314.1,224.7 313.6,224.2 312.9,222.9 313.2,221.7 314.1,221.2 314.8,221.4 315.3,222.4 315.2,223.9 314.6,224.8" fill="none" stroke="#000" stroke-width="0.75" stroke-opacity="0.95" stroke-linejoin="round"/>
</g>
<polygon points="280.6,193.9 308.2,193.9 308.2,210.5 280.6,218.4" fill="none" stroke="#d24a4a" stroke-width="1.1"/>
<rect x="325.6" y="244.0" width="37.1" height="32.2" fill="none" stroke="#a0a0a0" stroke-width="1.1"/>
<rect x="290.3" y="243.8" width="35.3" height="32.4" fill="none" stroke="#7656ae" stroke-width="1.2"/>
<rect x="325.6" y="214.0" width="37.1" height="30.0" fill="none" stroke="#79d3e3" stroke-width="1.2"/>
<rect x="297.2" y="213.7" width="28.4" height="30.0" fill="none" stroke="#2f2fb0" stroke-width="1.5"/>
<path d="M280.2,276.0 L280.2,165.8 L390.2,165.8 L390.2,276.0 Z" fill="none" stroke="#8c8c8c" stroke-width="0.9"/>
<line x1="390.20" y1="165.80" x2="390.20" y2="276.00" stroke="#909090" stroke-width="1.4" />
<path d="M275.6,282.4 L275.6,247.5 M272.0,253.1 L275.6,247.3 L279.2,253.1" fill="none" stroke="#000" stroke-width="1.5"/>
<path d="M274.9,282.4 L311.4,282.4 M305.8,278.8 L311.6,282.4 L305.8,286.0" fill="none" stroke="#000" stroke-width="1.5"/>
<text transform="translate(278.0,228.0) rotate(-90)" font-size="8.4" text-anchor="middle" fill="#111">CD27</text>
<text x="319.60" y="286.60" font-size="8.6" text-anchor="start" font-weight="normal" fill="#111" >IgD</text>
<rect x="143.8" y="167.8" width="106.1" height="105.89999999999998" fill="none" stroke="#9a9a9a" stroke-width="1.0"/>
<path d="M144.04,271.27 L146.21,271.63 L147.98,270.64 L149.86,270.44 L151.89,270.42 L154.24,270.17 L155.79,270.30 L158.13,270.26 L159.93,269.72 L162.21,269.77 L164.24,269.52 L166.33,269.49 L168.38,269.09 L170.80,268.10 L173.05,268.01 L174.96,268.22 L176.95,266.65 L178.98,265.29 L181.02,263.95 L181.85,261.83 L182.25,259.22 L183.02,257.12 L183.84,255.32 L184.40,253.02 L184.74,250.10 L184.93,249.43 L185.25,246.97 L185.75,243.89 L185.97,242.21 L185.98,240.04 L186.27,236.73 L186.85,237.92 L187.00,235.15 L187.14,233.06 L187.32,230.14 L187.17,227.47 L187.65,225.84 L187.64,221.89 L188.03,223.61 L188.19,221.93 L188.09,219.15 L188.43,216.52 L188.43,214.76 L188.84,212.29 L188.66,210.70 L188.90,207.71 L189.03,208.14 L189.32,203.74 L189.39,200.81 L189.53,198.28 L190.02,198.69 L190.17,195.13 L190.47,194.06 L190.58,192.80 L190.86,188.95 L191.39,187.47 L191.39,184.58 L191.78,181.42 L191.94,181.24 L192.32,179.36 L194.31,175.47 L195.22,178.80 L196.08,179.32 L196.22,180.63 L196.65,183.50 L196.88,185.84 L197.05,187.27 L197.30,188.54 L197.68,191.19 L197.77,194.23 L197.97,197.64 L198.37,197.93 L198.68,199.81 L199.03,203.56 L199.14,201.20 L199.41,206.62 L199.18,207.07 L199.49,210.58 L199.86,213.03 L200.18,215.30 L199.98,215.72 L200.47,217.27 L200.70,221.77 L200.72,221.74 L201.12,224.96 L201.16,227.26 L201.28,228.05 L201.75,230.70 L201.60,232.07 L201.83,234.65 L202.36,234.79 L202.70,237.29 L202.72,240.56 L203.01,242.13 L203.36,244.85 L203.36,245.55 L203.80,248.61 L204.22,249.75 L204.60,251.33 L204.61,253.67 L205.01,256.78 L205.71,258.19 L206.25,258.69 L206.95,260.83 L207.82,263.84 L209.02,265.37 L210.24,266.92 L212.11,268.06 L213.94,268.41 L216.18,269.33 L218.21,270.22 L219.92,270.28 L221.77,271.17 L223.98,272.35 L225.85,272.25 L227.97,272.67 L230.21,273.26 L232.00,273.30" fill="none" stroke="#dddddd" stroke-width="0.7" stroke-opacity="1.0" stroke-linejoin="round"/>
<path d="M144.12,257.47 L145.66,259.48 L146.85,261.05 L147.80,260.39 L148.50,256.85 L149.71,255.70 L153.69,254.83 L155.31,254.65 L157.21,256.33 L159.40,255.33 L161.27,256.37 L163.22,258.35 L164.92,259.11 L167.14,260.12 L168.87,262.17 L171.04,260.57 L172.90,258.79 L174.80,257.55 L177.00,258.04 L178.29,256.35 L179.77,253.05 L180.15,252.50 L180.73,251.40 L181.19,247.00 L181.59,247.23 L182.14,243.43 L182.73,240.95 L183.15,237.93 L183.55,238.09 L184.02,233.25 L184.74,230.46 L185.22,229.10 L185.72,227.14 L186.00,225.09 L186.32,221.65 L186.54,220.81 L186.99,218.23 L187.16,217.03 L187.26,212.78 L187.61,211.50 L187.70,210.00 L187.88,207.23 L188.08,205.12 L188.39,203.16 L188.81,198.97 L188.78,197.98 L189.08,195.12 L189.40,191.97 L189.81,191.22 L190.07,186.93 L190.32,185.86 L190.44,183.92 L191.10,179.02 L191.53,180.08 L192.16,176.44 L192.49,174.73 L194.06,175.40 L194.79,177.29 L195.06,183.03 L195.33,183.10 L195.89,185.54 L196.21,190.43 L196.55,191.19 L196.87,192.94 L196.74,193.16 L197.18,197.59 L197.65,200.41 L197.55,201.16 L198.21,202.76 L198.01,206.07 L198.13,206.96 L198.59,209.44 L198.97,208.85 L198.73,214.46 L199.26,216.33 L199.09,215.04 L199.51,218.76 L199.69,221.89 L199.86,226.88 L200.35,225.37 L200.75,228.60 L200.90,231.13 L200.82,233.53 L201.09,233.92 L201.29,238.64 L201.92,240.48 L201.76,242.84 L202.09,244.23 L202.44,245.19 L202.60,250.87 L202.99,251.32 L203.63,253.81 L203.99,254.48 L204.39,257.99 L205.23,259.29 L206.06,260.50 L207.78,264.85 L209.54,265.20 L210.81,266.87 L212.99,267.77 L215.37,268.53 L217.37,270.29 L219.54,271.51 L221.67,271.39 L224.00,273.50" fill="none" stroke="#a8d6dc" stroke-width="0.7" stroke-opacity="1.0" stroke-linejoin="round"/>
<path d="M144.54,272.74 L147.12,273.01 L149.56,272.87 L151.41,271.67 L153.44,271.09 L154.31,267.81 L155.29,266.68 L156.21,269.37 L157.26,270.58 L159.36,271.54 L161.14,271.86 L163.98,273.04 L166.39,273.11 L169.16,272.83 L171.30,272.97 L174.07,273.66 L176.33,273.02 L178.59,273.34 L180.98,274.07 L183.75,273.23 L185.99,273.22 L188.39,273.00 L190.76,272.95 L193.27,273.24 L196.21,273.57 L199.80,272.71 L200.60,269.15 L202.14,269.05 L202.83,266.82 L203.60,263.57 L204.47,261.76 L205.36,259.69 L205.54,257.90 L205.91,255.40 L206.07,252.41 L206.60,249.74 L206.88,248.53 L207.07,246.29 L207.44,243.93 L207.79,241.48 L208.12,238.45 L208.51,237.35 L209.06,236.74 L209.57,232.12 L209.60,232.08 L209.91,228.67 L210.41,228.79 L210.71,225.09 L211.02,221.97 L211.08,219.13 L211.60,218.41 L212.09,216.04 L212.24,214.45 L212.34,212.71 L212.91,208.72 L213.12,209.19 L213.28,204.78 L213.68,204.30 L214.15,199.23 L214.34,200.37 L214.47,196.41 L215.02,190.79 L215.22,193.76 L215.50,186.95 L216.29,188.35 L217.27,186.15 L218.48,182.57 L218.93,178.55 L219.36,180.74 L220.18,176.04 L220.51,176.89 L221.08,177.09 L221.61,178.76 L221.95,178.22 L222.04,182.74 L222.67,186.39 L223.05,187.19 L223.16,187.48 L223.30,190.53 L223.73,192.01 L224.11,199.33 L224.08,197.76 L224.44,198.78 L224.72,201.20 L225.32,202.49 L225.15,207.61 L225.54,211.70 L225.94,211.82 L226.43,212.73 L226.43,215.13 L226.74,218.31 L227.17,220.93 L227.31,220.39 L227.56,225.33 L227.92,226.35 L228.31,230.21 L228.30,230.75 L228.95,233.93 L229.13,237.28 L229.68,237.68 L229.89,241.02 L230.22,240.74 L230.19,245.77 L230.66,248.18 L231.30,247.80 L231.56,249.94 L232.03,252.35 L232.13,254.06 L232.42,258.35 L233.10,260.45 L233.53,262.45 L233.98,264.54 L235.12,267.73 L237.18,271.17 L239.69,272.04 L241.58,272.52 L244.02,273.40 L246.39,273.69 L248.40,273.50" fill="none" stroke="#e37c80" stroke-width="0.7" stroke-opacity="1.0" stroke-linejoin="round"/>
<path d="M144.53,231.95 L144.66,223.20 L145.22,223.02 L145.56,216.89 L146.13,220.63 L146.88,216.34 L147.19,211.40 L147.79,207.98 L148.17,208.29 L148.76,211.11 L150.55,206.11 L151.48,208.28 L152.44,204.43 L153.28,202.50 L154.02,201.47 L154.46,196.02 L155.66,190.87 L156.25,201.00 L156.82,200.44 L157.05,199.91 L157.17,197.11 L157.65,199.11 L158.19,200.96 L159.24,199.69 L159.62,203.85 L160.09,207.01 L160.63,210.77 L161.17,207.92 L161.47,202.05 L162.13,199.89 L162.46,196.28 L162.73,197.36 L163.37,194.09 L164.03,193.37 L164.64,197.75 L165.22,203.29 L166.14,211.80 L166.95,208.69 L168.99,204.42 L169.99,204.07 L170.95,203.29 L172.80,196.25 L174.83,201.75 L175.97,194.94 L176.56,193.29 L178.53,191.21 L180.52,196.42 L180.96,194.57 L181.47,191.12 L181.89,193.71 L182.45,189.43 L184.36,185.42 L184.99,182.04 L185.44,181.35 L185.71,179.80 L186.35,172.31 L187.42,176.79 L187.98,174.90 L188.53,174.71 L189.36,183.80 L189.52,183.95 L189.89,184.11 L190.44,189.92 L190.39,187.92 L191.00,191.14 L191.22,194.30 L191.81,197.97 L191.77,198.94 L192.40,199.30 L192.65,207.05 L192.64,204.03 L193.35,208.14 L193.47,206.33 L193.90,215.77 L193.80,216.25 L194.19,217.79 L194.53,211.86 L194.91,224.10 L195.33,221.50 L195.38,223.79 L195.43,226.01 L196.07,228.74 L196.00,233.26 L196.20,232.66 L196.47,238.30 L196.97,233.90 L197.14,241.51 L197.34,244.19 L198.27,247.68 L198.28,250.05 L198.89,249.11 L199.36,251.43 L200.36,254.13 L200.84,256.40 L201.56,257.87 L201.86,260.19 L204.15,261.95 L206.42,264.80 L208.63,265.00 L210.81,260.83 L213.24,263.57 L215.29,262.41 L217.61,263.34 L218.70,266.96 L219.59,269.89 L221.14,271.48 L222.90,273.40" fill="none" stroke="#9c90c6" stroke-width="0.75" stroke-opacity="1.0" stroke-linejoin="round"/>
<path d="M144.49,200.81 L145.15,205.65 L145.46,199.85 L146.02,194.97 L146.74,195.43 L147.52,191.76 L148.00,192.72 L148.64,191.79 L150.58,192.82 L151.13,185.85 L152.18,186.66 L152.76,189.41 L152.94,191.82 L153.49,196.16 L153.63,191.44 L154.02,188.90 L154.40,190.83 L154.65,180.00 L154.80,175.74 L155.31,176.18 L155.56,176.25 L156.50,174.11 L157.63,181.18 L159.40,171.34 L160.11,177.97 L161.18,183.53 L163.01,183.87 L163.72,185.59 L164.14,189.30 L164.10,187.07 L164.57,195.24 L165.01,194.08 L167.21,191.47 L167.75,198.29 L168.13,202.89 L168.45,203.33 L169.24,203.47 L169.71,207.95 L169.96,212.38 L170.71,212.71 L171.00,215.19 L172.82,216.27 L173.41,218.90 L174.03,216.83 L174.61,214.35 L177.05,218.58 L177.29,215.59 L178.25,217.67 L178.69,218.94 L180.62,218.12 L181.59,222.78 L182.70,219.30 L183.68,220.81 L184.62,223.58 L186.57,223.98 L187.15,219.37 L187.66,223.79 L188.47,228.29 L189.27,229.59 L190.18,228.91 L191.99,231.79 L193.03,239.35 L193.74,240.52 L194.23,239.35 L194.76,244.49 L195.37,242.36 L196.27,243.92 L196.72,248.95 L197.35,253.64 L197.90,252.55 L198.98,255.34 L199.79,258.53 L200.76,259.75 L202.64,263.48 L204.21,263.60 L206.47,263.18 L208.72,261.90 L210.74,260.92 L213.22,260.68 L214.58,256.07 L216.35,254.16 L217.58,257.78 L218.53,263.12 L219.42,264.66 L219.95,262.60 L221.05,267.47 L221.89,269.16 L223.14,271.92 L224.00,273.50" fill="none" stroke="#6668aa" stroke-width="0.75" stroke-opacity="1.0" stroke-linejoin="round"/>
<line x1="143.80" y1="167.80" x2="143.80" y2="273.70" stroke="#222" stroke-width="1.3" />
<line x1="142.20" y1="173.00" x2="143.80" y2="173.00" stroke="#555" stroke-width="0.6" />
<line x1="142.20" y1="190.70" x2="143.80" y2="190.70" stroke="#555" stroke-width="0.6" />
<line x1="142.20" y1="212.10" x2="143.80" y2="212.10" stroke="#555" stroke-width="0.6" />
<line x1="142.20" y1="233.50" x2="143.80" y2="233.50" stroke="#555" stroke-width="0.6" />
<line x1="142.20" y1="254.60" x2="143.80" y2="254.60" stroke="#555" stroke-width="0.6" />
<line x1="142.20" y1="268.00" x2="143.80" y2="268.00" stroke="#555" stroke-width="0.6" />
<line x1="147.00" y1="273.70" x2="147.00" y2="275.10" stroke="#666" stroke-width="0.5" />
<line x1="150.00" y1="273.70" x2="150.00" y2="275.10" stroke="#666" stroke-width="0.5" />
<line x1="153.00" y1="273.70" x2="153.00" y2="275.10" stroke="#666" stroke-width="0.5" />
<line x1="158.00" y1="273.70" x2="158.00" y2="275.10" stroke="#666" stroke-width="0.5" />
<line x1="166.00" y1="273.70" x2="166.00" y2="275.10" stroke="#666" stroke-width="0.5" />
<line x1="172.00" y1="273.70" x2="172.00" y2="275.10" stroke="#666" stroke-width="0.5" />
<line x1="180.00" y1="273.70" x2="180.00" y2="275.10" stroke="#666" stroke-width="0.5" />
<line x1="186.00" y1="273.70" x2="186.00" y2="275.10" stroke="#666" stroke-width="0.5" />
<line x1="192.00" y1="273.70" x2="192.00" y2="275.10" stroke="#666" stroke-width="0.5" />
<line x1="196.00" y1="273.70" x2="196.00" y2="275.10" stroke="#666" stroke-width="0.5" />
<line x1="200.00" y1="273.70" x2="200.00" y2="275.10" stroke="#666" stroke-width="0.5" />
<line x1="204.00" y1="273.70" x2="204.00" y2="275.10" stroke="#666" stroke-width="0.5" />
<line x1="208.00" y1="273.70" x2="208.00" y2="275.10" stroke="#666" stroke-width="0.5" />
<line x1="212.00" y1="273.70" x2="212.00" y2="275.10" stroke="#666" stroke-width="0.5" />
<line x1="219.00" y1="273.70" x2="219.00" y2="275.10" stroke="#666" stroke-width="0.5" />
<line x1="226.00" y1="273.70" x2="226.00" y2="275.10" stroke="#666" stroke-width="0.5" />
<line x1="232.00" y1="273.70" x2="232.00" y2="275.10" stroke="#666" stroke-width="0.5" />
<line x1="238.00" y1="273.70" x2="238.00" y2="275.10" stroke="#666" stroke-width="0.5" />
<line x1="244.00" y1="273.70" x2="244.00" y2="275.10" stroke="#666" stroke-width="0.5" />
<line x1="204.40" y1="237.30" x2="240.80" y2="237.30" stroke="#888" stroke-width="1.0" />
<line x1="204.40" y1="235.60" x2="204.40" y2="239.00" stroke="#888" stroke-width="0.8" />
<line x1="240.80" y1="235.60" x2="240.80" y2="239.00" stroke="#888" stroke-width="0.8" />
<path d="M136.1,283.2 L136.1,246.0 M132.6,251.6 L136.1,245.8 L139.6,251.6" fill="none" stroke="#000" stroke-width="1.5"/>
<path d="M135.4,283.2 L172.0,283.2 M166.4,279.6 L172.2,283.2 L166.4,286.8" fill="none" stroke="#000" stroke-width="1.5"/>
<text transform="translate(139.6,235.4) rotate(-90)" font-size="8" text-anchor="middle" fill="#111">MFI</text>
<text x="175.60" y="286.30" font-size="8.2" text-anchor="start" font-weight="normal" fill="#111" >CD38</text>
<rect x="408.0" y="165.5" width="111.0" height="110.10000000000002" fill="none" stroke="#a0a0a0" stroke-width="0.9"/>
<line x1="408.00" y1="165.50" x2="519.00" y2="165.50" stroke="#777" stroke-width="0.9" />
<path d="M408.11,274.96 L409.40,273.17 L410.53,272.34 L411.70,270.18 L412.58,268.70 L413.89,266.38 L415.18,264.39 L415.79,261.64 L416.69,261.18 L417.50,259.26 L418.09,255.74 L418.94,256.16 L420.03,254.13 L420.83,250.66 L421.84,247.96 L422.73,244.18 L423.45,241.67 L423.93,240.63 L424.27,238.76 L424.71,237.40 L425.35,234.34 L425.38,232.83 L425.88,231.39 L426.77,223.52 L427.43,222.83 L427.48,221.94 L427.94,220.60 L428.14,220.39 L428.62,218.05 L428.69,212.72 L429.25,212.17 L429.73,208.40 L430.50,205.88 L431.45,205.71 L432.31,201.46 L432.56,201.25 L433.37,200.03 L433.56,197.11 L433.90,196.07 L434.08,191.00 L434.72,189.76 L434.79,191.53 L435.00,185.33 L435.66,185.73 L436.22,183.15 L436.47,180.93 L437.44,176.79 L437.73,176.20 L438.65,175.04 L439.38,172.13 L439.81,173.31 L440.21,173.15 L440.93,179.19 L441.32,177.38 L442.43,179.17 L443.34,176.32 L443.61,176.84 L443.65,179.07 L444.07,182.88 L444.31,186.41 L444.86,184.62 L445.07,187.83 L445.49,189.93 L445.73,192.69 L445.69,195.64 L446.00,195.09 L446.47,200.66 L446.44,202.37 L446.94,205.21 L446.97,203.46 L447.53,204.98 L448.63,208.62 L449.89,210.22 L450.53,207.81 L451.09,206.40 L451.35,204.56 L451.49,200.48 L452.07,198.65 L452.81,203.02 L453.22,204.46 L453.86,206.43 L454.43,208.55 L454.74,207.89 L454.51,210.28 L454.92,213.67 L455.03,213.04 L455.75,219.33 L455.70,220.70 L456.21,222.46 L456.74,225.75 L457.46,227.05 L458.10,227.73 L458.65,234.03 L461.03,232.37 L460.93,237.02 L461.42,240.33 L461.92,239.72 L461.87,241.75 L462.50,243.92 L462.76,247.44 L463.06,249.61 L463.62,251.58 L464.36,252.80 L464.81,255.76 L465.73,257.39 L466.36,258.86 L467.37,261.21 L467.94,263.71 L468.71,264.99 L469.50,267.32 L471.22,268.92 L473.52,270.52 L475.62,270.70 L477.46,268.71 L479.17,270.88 L480.65,273.17 L482.37,275.02 L484.60,275.40" fill="none" stroke="#6062b0" stroke-width="0.8" stroke-opacity="1.0" stroke-linejoin="round"/>
<path d="M407.87,274.07 L409.33,272.70 L410.49,271.41 L412.00,270.02 L413.13,268.00 L414.10,266.86 L415.20,263.88 L415.84,262.65 L417.04,261.18 L417.82,257.33 L418.94,256.49 L420.00,254.27 L420.83,251.90 L421.63,250.50 L422.51,247.48 L422.95,246.74 L423.23,242.14 L423.84,242.99 L424.12,240.31 L424.23,234.75 L424.53,232.17 L425.14,231.11 L425.63,231.29 L425.94,223.83 L426.38,226.57 L426.86,222.21 L427.33,220.54 L427.51,219.89 L428.06,216.29 L428.69,215.25 L429.62,212.50 L430.48,208.55 L430.76,207.86 L431.45,209.40 L431.92,205.64 L432.47,205.15 L432.80,204.01 L433.35,196.81 L433.75,200.09 L434.21,193.28 L434.29,191.38 L434.80,191.62 L435.24,187.70 L435.12,184.84 L435.48,185.00 L435.75,182.37 L436.57,178.43 L437.08,181.18 L437.67,178.15 L438.51,170.85 L439.52,174.66 L440.39,179.37 L441.30,179.18 L442.68,173.53 L442.66,175.63 L443.27,177.57 L443.28,179.27 L444.07,181.40 L444.37,180.79 L444.64,187.62 L444.62,190.09 L444.95,187.47 L445.44,191.87 L445.62,194.35 L445.75,197.00 L446.08,195.73 L446.45,201.38 L446.79,202.74 L447.15,206.48 L447.20,206.02 L447.66,206.04 L447.64,209.26 L448.15,213.41 L448.06,216.51 L448.44,214.39 L448.57,216.83 L449.14,222.09 L449.52,226.57 L449.93,228.09 L449.88,227.49 L450.41,228.85 L450.40,232.46 L451.10,233.36 L451.06,236.56 L451.32,240.58 L451.78,241.15 L452.00,241.90 L452.66,245.51 L453.25,247.94 L453.96,249.51 L454.44,250.11 L454.80,253.32 L455.27,255.44 L455.77,258.22 L456.57,261.82 L457.29,261.56 L458.21,264.12 L459.09,265.96 L459.67,267.15 L461.11,269.25 L462.22,270.55 L463.59,272.82 L465.80,273.18 L468.07,273.37 L469.83,274.32 L472.23,273.87 L474.09,274.46 L476.06,275.36 L477.95,274.80 L480.00,275.00" fill="none" stroke="#9282c4" stroke-width="0.75" stroke-opacity="1.0" stroke-linejoin="round"/>
<path d="M435.6,275.5 L437.4,215 L438.6,176 L439.5,172.4 L440.4,176 L441.6,215 L444.3,275.5" fill="none" stroke="#d84a55" stroke-width="0.9"/>
<path d="M437.6,275.5 L439.2,215 L440.5,175 L441.4,172.4 L442.3,176 L443.2,215 L445.2,275.5" fill="none" stroke="#e07a85" stroke-width="0.7"/>
<path d="M445.3,275.5 L446.6,220 L447.6,178 L448.3,173 L449.2,180 L450.5,230 L452,275.5" fill="none" stroke="#d8b0c8" stroke-width="0.7"/>
<path d="M448.2,275.5 L449.8,215 L451.1,174 L452,172.7 L453,174 L454.3,215 L456,275.5" fill="none" stroke="#88c8cc" stroke-width="0.9"/>
<path d="M458.8,275.5 L460.2,220 L461.3,182 L461.9,178.5 L462.5,182 L463.1,220 L463.7,275.5" fill="none" stroke="#b8b8b8" stroke-width="0.9"/>
<line x1="412.00" y1="275.60" x2="412.00" y2="277.00" stroke="#777" stroke-width="0.5" />
<line x1="416.00" y1="275.60" x2="416.00" y2="277.00" stroke="#777" stroke-width="0.5" />
<line x1="420.00" y1="275.60" x2="420.00" y2="277.00" stroke="#777" stroke-width="0.5" />
<line x1="428.00" y1="275.60" x2="428.00" y2="277.00" stroke="#777" stroke-width="0.5" />
<line x1="432.00" y1="275.60" x2="432.00" y2="277.00" stroke="#777" stroke-width="0.5" />
<line x1="436.00" y1="275.60" x2="436.00" y2="277.00" stroke="#777" stroke-width="0.5" />
<line x1="446.00" y1="275.60" x2="446.00" y2="277.00" stroke="#777" stroke-width="0.5" />
<line x1="452.00" y1="275.60" x2="452.00" y2="277.00" stroke="#777" stroke-width="0.5" />
<line x1="458.00" y1="275.60" x2="458.00" y2="277.00" stroke="#777" stroke-width="0.5" />
<line x1="464.00" y1="275.60" x2="464.00" y2="277.00" stroke="#777" stroke-width="0.5" />
<line x1="468.00" y1="275.60" x2="468.00" y2="277.00" stroke="#777" stroke-width="0.5" />
<line x1="472.00" y1="275.60" x2="472.00" y2="277.00" stroke="#777" stroke-width="0.5" />
<line x1="478.00" y1="275.60" x2="478.00" y2="277.00" stroke="#777" stroke-width="0.5" />
<line x1="484.00" y1="275.60" x2="484.00" y2="277.00" stroke="#777" stroke-width="0.5" />
<line x1="490.00" y1="275.60" x2="490.00" y2="277.00" stroke="#777" stroke-width="0.5" />
<line x1="496.00" y1="275.60" x2="496.00" y2="277.00" stroke="#777" stroke-width="0.5" />
<line x1="500.00" y1="275.60" x2="500.00" y2="277.00" stroke="#777" stroke-width="0.5" />
<line x1="506.00" y1="275.60" x2="506.00" y2="277.00" stroke="#777" stroke-width="0.5" />
<line x1="512.00" y1="275.60" x2="512.00" y2="277.00" stroke="#777" stroke-width="0.5" />
<line x1="408.00" y1="165.50" x2="408.00" y2="275.60" stroke="#444" stroke-width="1.0" />
<line x1="406.20" y1="170.00" x2="408.00" y2="170.00" stroke="#444" stroke-width="0.6" />
<line x1="407.10" y1="175.20" x2="408.00" y2="175.20" stroke="#444" stroke-width="0.6" />
<line x1="407.10" y1="180.40" x2="408.00" y2="180.40" stroke="#444" stroke-width="0.6" />
<line x1="407.10" y1="185.60" x2="408.00" y2="185.60" stroke="#444" stroke-width="0.6" />
<line x1="406.20" y1="190.80" x2="408.00" y2="190.80" stroke="#444" stroke-width="0.6" />
<line x1="407.10" y1="196.00" x2="408.00" y2="196.00" stroke="#444" stroke-width="0.6" />
<line x1="407.10" y1="201.20" x2="408.00" y2="201.20" stroke="#444" stroke-width="0.6" />
<line x1="407.10" y1="206.40" x2="408.00" y2="206.40" stroke="#444" stroke-width="0.6" />
<line x1="406.20" y1="211.60" x2="408.00" y2="211.60" stroke="#444" stroke-width="0.6" />
<line x1="407.10" y1="216.80" x2="408.00" y2="216.80" stroke="#444" stroke-width="0.6" />
<line x1="407.10" y1="222.00" x2="408.00" y2="222.00" stroke="#444" stroke-width="0.6" />
<line x1="407.10" y1="227.20" x2="408.00" y2="227.20" stroke="#444" stroke-width="0.6" />
<line x1="406.20" y1="232.40" x2="408.00" y2="232.40" stroke="#444" stroke-width="0.6" />
<line x1="407.10" y1="237.60" x2="408.00" y2="237.60" stroke="#444" stroke-width="0.6" />
<line x1="407.10" y1="242.80" x2="408.00" y2="242.80" stroke="#444" stroke-width="0.6" />
<line x1="407.10" y1="248.00" x2="408.00" y2="248.00" stroke="#444" stroke-width="0.6" />
<line x1="406.20" y1="253.20" x2="408.00" y2="253.20" stroke="#444" stroke-width="0.6" />
<line x1="407.10" y1="258.40" x2="408.00" y2="258.40" stroke="#444" stroke-width="0.6" />
<line x1="407.10" y1="263.60" x2="408.00" y2="263.60" stroke="#444" stroke-width="0.6" />
<line x1="407.10" y1="268.80" x2="408.00" y2="268.80" stroke="#444" stroke-width="0.6" />
<line x1="470.70" y1="236.80" x2="506.80" y2="236.80" stroke="#888" stroke-width="1.0" />
<line x1="470.70" y1="235.00" x2="470.70" y2="238.80" stroke="#888" stroke-width="0.8" />
<line x1="506.80" y1="235.00" x2="506.80" y2="238.80" stroke="#888" stroke-width="0.8" />
<line x1="519.40" y1="165.00" x2="519.40" y2="275.00" stroke="#000" stroke-width="1.3" />
<path d="M401.9,283.7 L401.9,246.2 M398.4,251.8 L401.9,246.0 L405.4,251.8" fill="none" stroke="#000" stroke-width="1.5"/>
<path d="M401.2,283.7 L437.2,283.7 M431.6,280.1 L437.4,283.7 L431.6,287.3" fill="none" stroke="#000" stroke-width="1.5"/>
<text transform="translate(403.4,234.4) rotate(-90)" font-size="8" text-anchor="middle" fill="#111">MFI</text>
<text x="439.60" y="286.80" font-size="8.2" text-anchor="start" font-weight="normal" fill="#111" >CD38</text>
</g>
</svg>
</body></html>
